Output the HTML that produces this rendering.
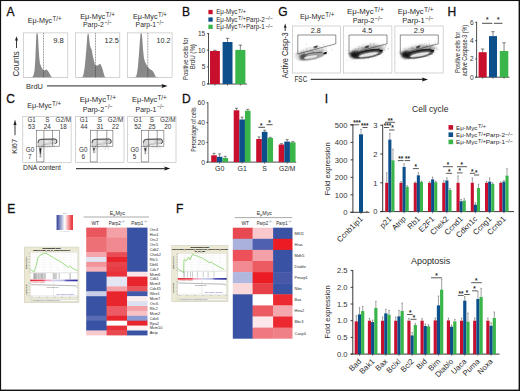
<!DOCTYPE html>
<html><head><meta charset="utf-8"><style>
html,body{margin:0;padding:0;background:#fff;overflow:hidden;}
svg{display:block;}
text{font-family:"Liberation Sans", sans-serif;}
</style></head><body>
<svg width="520" height="391" viewBox="0 0 520 391" font-family='"Liberation Sans", sans-serif' fill="#2a2a2a">
<defs><filter id="bl15" x="-50%" y="-50%" width="200%" height="200%"><feGaussianBlur stdDeviation="1.5"/></filter><filter id="bl08" x="-50%" y="-50%" width="200%" height="200%"><feGaussianBlur stdDeviation="0.8"/></filter><filter id="bl05" x="-50%" y="-50%" width="200%" height="200%"><feGaussianBlur stdDeviation="0.5"/></filter><filter id="bl03" x="-50%" y="-50%" width="200%" height="200%"><feGaussianBlur stdDeviation="0.3"/></filter></defs>
<rect x="0" y="0" width="520" height="391" fill="#fff"/>
<text x="6.60" y="16.40" font-size="12.0" fill="#111" stroke="#111" stroke-width="0.3">A</text>
<text x="182.00" y="16.40" font-size="12.0" fill="#111" stroke="#111" stroke-width="0.3">B</text>
<text x="278.30" y="16.40" font-size="12.0" fill="#111" stroke="#111" stroke-width="0.3">G</text>
<text x="447.50" y="16.40" font-size="12.0" fill="#111" stroke="#111" stroke-width="0.3">H</text>
<text x="6.30" y="102.90" font-size="12.0" fill="#111" stroke="#111" stroke-width="0.3">C</text>
<text x="182.00" y="103.00" font-size="12.0" fill="#111" stroke="#111" stroke-width="0.3">D</text>
<text x="7.20" y="212.90" font-size="12.0" fill="#111" stroke="#111" stroke-width="0.3">E</text>
<text x="175.90" y="213.00" font-size="12.0" fill="#111" stroke="#111" stroke-width="0.3">F</text>
<text x="324.70" y="102.80" font-size="12.0" fill="#111" stroke="#111" stroke-width="0.3">I</text>
<text x="27.70" y="22.80" font-size="7.9" textLength="24.50" lengthAdjust="spacingAndGlyphs" >Eμ-Myc</text>
<text x="52.54" y="20.70" font-size="6.4" textLength="8.96" lengthAdjust="spacingAndGlyphs" >T/+</text>
<text x="80.20" y="18.90" font-size="7.9" textLength="25.09" lengthAdjust="spacingAndGlyphs" >Eμ-Myc</text>
<text x="105.63" y="16.80" font-size="6.4" textLength="9.17" lengthAdjust="spacingAndGlyphs" >T/+</text>
<text x="83.00" y="27.40" font-size="7.9" textLength="20.81" lengthAdjust="spacingAndGlyphs" >Parp-2</text>
<text x="104.39" y="25.00" font-size="6.4" textLength="7.51" lengthAdjust="spacingAndGlyphs" >−/−</text>
<text x="133.00" y="18.90" font-size="7.9" textLength="24.58" lengthAdjust="spacingAndGlyphs" >Eμ-Myc</text>
<text x="157.92" y="16.80" font-size="6.4" textLength="8.98" lengthAdjust="spacingAndGlyphs" >T/+</text>
<text x="135.60" y="27.40" font-size="7.9" textLength="20.45" lengthAdjust="spacingAndGlyphs" >Parp-1</text>
<text x="156.62" y="25.00" font-size="6.4" textLength="7.38" lengthAdjust="spacingAndGlyphs" >−/−</text>
<polygon points="23.30,77.50 31.90,77.30 32.60,76.80 33.60,75.00 34.60,70.00 35.30,60.00 35.90,45.00 36.30,35.00 36.60,33.20 37.60,33.20 38.10,38.00 38.60,48.00 39.30,58.00 40.00,64.00 40.80,65.50 41.80,68.00 43.30,70.30 44.50,70.60 45.60,69.80 46.60,69.50 47.80,70.80 49.30,73.00 50.80,76.00 52.10,77.20 53.30,77.50 67.90,77.50" fill="#898989"/>
<rect x="23.30" y="32.9" width="44.5" height="44.6" fill="none" stroke="#b8b8b8" stroke-width="0.6"/>
<line x1="23.30" y1="41.80" x2="24.30" y2="41.80" stroke="#c8c8c8" stroke-width="0.4" />
<line x1="32.20" y1="77.50" x2="32.20" y2="76.50" stroke="#c8c8c8" stroke-width="0.4" />
<line x1="23.30" y1="50.70" x2="24.30" y2="50.70" stroke="#c8c8c8" stroke-width="0.4" />
<line x1="41.10" y1="77.50" x2="41.10" y2="76.50" stroke="#c8c8c8" stroke-width="0.4" />
<line x1="23.30" y1="59.60" x2="24.30" y2="59.60" stroke="#c8c8c8" stroke-width="0.4" />
<line x1="50.00" y1="77.50" x2="50.00" y2="76.50" stroke="#c8c8c8" stroke-width="0.4" />
<line x1="23.30" y1="68.50" x2="24.30" y2="68.50" stroke="#c8c8c8" stroke-width="0.4" />
<line x1="58.90" y1="77.50" x2="58.90" y2="76.50" stroke="#c8c8c8" stroke-width="0.4" />
<line x1="43.50" y1="33.20" x2="43.50" y2="77.30" stroke="#222" stroke-width="0.55" stroke-dasharray="0.9 0.7"/>
<text x="53.20" y="42.60" font-size="7.0" textLength="10.70" lengthAdjust="spacingAndGlyphs" >9.8</text>
<polygon points="75.30,77.50 81.80,77.30 82.80,76.50 83.60,74.00 84.60,68.00 85.60,58.00 86.60,46.00 87.30,36.00 87.90,33.50 88.70,34.00 89.30,40.00 90.10,46.00 90.90,48.00 91.80,50.00 92.80,56.00 93.80,60.00 94.90,64.50 95.60,65.80 96.80,65.60 98.30,65.20 99.50,63.80 100.70,64.50 101.80,67.00 102.80,70.00 103.80,74.00 104.80,76.80 106.30,77.50 119.60,77.50" fill="#898989"/>
<rect x="75.30" y="32.9" width="44.5" height="44.6" fill="none" stroke="#b8b8b8" stroke-width="0.6"/>
<line x1="75.30" y1="41.80" x2="76.30" y2="41.80" stroke="#c8c8c8" stroke-width="0.4" />
<line x1="84.20" y1="77.50" x2="84.20" y2="76.50" stroke="#c8c8c8" stroke-width="0.4" />
<line x1="75.30" y1="50.70" x2="76.30" y2="50.70" stroke="#c8c8c8" stroke-width="0.4" />
<line x1="93.10" y1="77.50" x2="93.10" y2="76.50" stroke="#c8c8c8" stroke-width="0.4" />
<line x1="75.30" y1="59.60" x2="76.30" y2="59.60" stroke="#c8c8c8" stroke-width="0.4" />
<line x1="102.00" y1="77.50" x2="102.00" y2="76.50" stroke="#c8c8c8" stroke-width="0.4" />
<line x1="75.30" y1="68.50" x2="76.30" y2="68.50" stroke="#c8c8c8" stroke-width="0.4" />
<line x1="110.90" y1="77.50" x2="110.90" y2="76.50" stroke="#c8c8c8" stroke-width="0.4" />
<line x1="95.50" y1="33.20" x2="95.50" y2="77.30" stroke="#222" stroke-width="0.55" stroke-dasharray="0.9 0.7"/>
<text x="104.60" y="42.60" font-size="7.0" textLength="14.20" lengthAdjust="spacingAndGlyphs" >12.5</text>
<polygon points="127.60,77.50 135.10,77.30 135.90,76.60 136.90,74.00 137.90,67.00 138.90,55.00 139.80,42.00 140.50,34.00 141.00,33.20 141.80,33.50 142.30,39.00 142.90,48.00 143.80,57.00 144.80,61.50 145.90,63.50 147.10,66.00 147.90,67.00 149.10,68.50 150.60,69.50 151.90,70.20 153.10,71.50 154.40,74.00 155.60,76.50 157.10,77.30 158.60,77.50 171.90,77.50" fill="#898989"/>
<rect x="127.60" y="32.9" width="44.5" height="44.6" fill="none" stroke="#b8b8b8" stroke-width="0.6"/>
<line x1="127.60" y1="41.80" x2="128.60" y2="41.80" stroke="#c8c8c8" stroke-width="0.4" />
<line x1="136.50" y1="77.50" x2="136.50" y2="76.50" stroke="#c8c8c8" stroke-width="0.4" />
<line x1="127.60" y1="50.70" x2="128.60" y2="50.70" stroke="#c8c8c8" stroke-width="0.4" />
<line x1="145.40" y1="77.50" x2="145.40" y2="76.50" stroke="#c8c8c8" stroke-width="0.4" />
<line x1="127.60" y1="59.60" x2="128.60" y2="59.60" stroke="#c8c8c8" stroke-width="0.4" />
<line x1="154.30" y1="77.50" x2="154.30" y2="76.50" stroke="#c8c8c8" stroke-width="0.4" />
<line x1="127.60" y1="68.50" x2="128.60" y2="68.50" stroke="#c8c8c8" stroke-width="0.4" />
<line x1="163.20" y1="77.50" x2="163.20" y2="76.50" stroke="#c8c8c8" stroke-width="0.4" />
<line x1="147.80" y1="33.20" x2="147.80" y2="77.30" stroke="#222" stroke-width="0.55" stroke-dasharray="0.9 0.7"/>
<text x="156.60" y="42.60" font-size="7.0" textLength="13.90" lengthAdjust="spacingAndGlyphs" >10.2</text>
<text x="19.00" y="76.40" font-size="8.6" textLength="25.00" lengthAdjust="spacingAndGlyphs" transform="rotate(-90 19.00 76.40)" >Counts</text>
<line x1="16.50" y1="48.00" x2="16.50" y2="39.80" stroke="#222" stroke-width="0.9" />
<polygon points="16.5,36.2 15.0,40.6 18.0,40.6" fill="#222"/>
<text x="26.00" y="88.60" font-size="8.0" textLength="16.90" lengthAdjust="spacingAndGlyphs" >BrdU</text>
<line x1="47.00" y1="85.90" x2="163.00" y2="85.90" stroke="#555" stroke-width="1.3" />
<polygon points="167.6,85.9 161.4,83.9 162.6,85.9 161.4,87.9" fill="#111"/>
<rect x="208.40" y="9.90" width="4.30" height="4.30" fill="#c8102e" />
<text x="216.20" y="14.40" font-size="6.3" textLength="21.20" lengthAdjust="spacingAndGlyphs" >Eμ-Myc</text>
<text x="237.90" y="12.70" font-size="5.8" textLength="8.00" lengthAdjust="spacingAndGlyphs" >T/+</text>
<rect x="208.40" y="17.40" width="4.30" height="4.30" fill="#0d4f8b" />
<text x="216.20" y="21.90" font-size="6.3" textLength="21.20" lengthAdjust="spacingAndGlyphs" >Eμ-Myc</text>
<text x="237.90" y="20.20" font-size="5.8" textLength="8.00" lengthAdjust="spacingAndGlyphs" >T/+</text>
<text x="245.90" y="21.90" font-size="6.3" textLength="19.00" lengthAdjust="spacingAndGlyphs" >Parp-2</text>
<text x="265.20" y="20.20" font-size="5.8" textLength="7.60" lengthAdjust="spacingAndGlyphs" >−/−</text>
<rect x="208.40" y="24.70" width="4.30" height="4.30" fill="#3ab54a" />
<text x="216.20" y="29.20" font-size="6.3" textLength="21.20" lengthAdjust="spacingAndGlyphs" >Eμ-Myc</text>
<text x="237.90" y="27.50" font-size="5.8" textLength="8.00" lengthAdjust="spacingAndGlyphs" >T/+</text>
<text x="245.90" y="29.20" font-size="6.3" textLength="19.00" lengthAdjust="spacingAndGlyphs" >Parp-1</text>
<text x="265.20" y="27.50" font-size="5.8" textLength="7.60" lengthAdjust="spacingAndGlyphs" >−/−</text>
<line x1="208.50" y1="33.10" x2="208.50" y2="84.00" stroke="#222" stroke-width="0.8" />
<line x1="207.10" y1="84.00" x2="247.00" y2="84.00" stroke="#222" stroke-width="0.8" />
<line x1="207.10" y1="33.60" x2="208.50" y2="33.60" stroke="#222" stroke-width="0.8" />
<text x="205.30" y="35.98" font-size="6.6" text-anchor="end" fill="#333" >15</text>
<line x1="207.10" y1="50.20" x2="208.50" y2="50.20" stroke="#222" stroke-width="0.8" />
<text x="205.30" y="52.58" font-size="6.6" text-anchor="end" fill="#333" >10</text>
<line x1="207.10" y1="66.90" x2="208.50" y2="66.90" stroke="#222" stroke-width="0.8" />
<text x="205.30" y="69.28" font-size="6.6" text-anchor="end" fill="#333" >5</text>
<line x1="207.10" y1="83.80" x2="208.50" y2="83.80" stroke="#222" stroke-width="0.8" />
<text x="205.30" y="86.18" font-size="6.6" text-anchor="end" fill="#333" >0</text>
<rect x="210.00" y="51.00" width="9.90" height="33.00" fill="#c8102e" />
<line x1="214.95" y1="50.30" x2="214.95" y2="51.00" stroke="#333" stroke-width="0.6" />
<line x1="213.15" y1="50.30" x2="216.75" y2="50.30" stroke="#333" stroke-width="0.6" />
<line x1="214.95" y1="84.00" x2="214.95" y2="85.60" stroke="#222" stroke-width="0.6" />
<rect x="222.60" y="42.00" width="9.90" height="42.00" fill="#0d4f8b" />
<line x1="227.55" y1="38.30" x2="227.55" y2="42.00" stroke="#333" stroke-width="0.6" />
<line x1="225.75" y1="38.30" x2="229.35" y2="38.30" stroke="#333" stroke-width="0.6" />
<line x1="227.55" y1="84.00" x2="227.55" y2="85.60" stroke="#222" stroke-width="0.6" />
<rect x="235.30" y="49.90" width="10.10" height="34.10" fill="#3ab54a" />
<line x1="240.35" y1="45.10" x2="240.35" y2="49.90" stroke="#333" stroke-width="0.6" />
<line x1="238.55" y1="45.10" x2="242.15" y2="45.10" stroke="#333" stroke-width="0.6" />
<line x1="240.35" y1="84.00" x2="240.35" y2="85.60" stroke="#222" stroke-width="0.6" />
<text x="187.90" y="80.00" font-size="7.2" textLength="42.50" lengthAdjust="spacingAndGlyphs" transform="rotate(-90 187.90 80.00)" >Positive cells for</text>
<text x="195.30" y="69.30" font-size="7.2" textLength="25.20" lengthAdjust="spacingAndGlyphs" transform="rotate(-90 195.30 69.30)" >BrdU (%)</text>
<text x="288.00" y="78.20" font-size="8.7" textLength="45.90" lengthAdjust="spacingAndGlyphs" transform="rotate(-90 288.00 78.20)" >Active Casp-3</text>
<line x1="285.20" y1="31.00" x2="285.20" y2="27.00" stroke="#222" stroke-width="0.9" />
<polygon points="285.2,23.6 283.8,27.8 286.6,27.8" fill="#222"/>
<text x="299.90" y="18.90" font-size="7.9" textLength="25.01" lengthAdjust="spacingAndGlyphs" >Eμ-Myc</text>
<text x="325.26" y="16.80" font-size="6.4" textLength="9.14" lengthAdjust="spacingAndGlyphs" >T/+</text>
<text x="347.00" y="13.80" font-size="7.9" textLength="26.68" lengthAdjust="spacingAndGlyphs" >Eμ-Myc</text>
<text x="374.05" y="11.70" font-size="6.4" textLength="9.75" lengthAdjust="spacingAndGlyphs" >T/+</text>
<text x="352.70" y="23.00" font-size="7.9" textLength="21.60" lengthAdjust="spacingAndGlyphs" >Parp-2</text>
<text x="374.90" y="20.60" font-size="6.4" textLength="7.80" lengthAdjust="spacingAndGlyphs" >−/−</text>
<text x="397.70" y="13.80" font-size="7.9" textLength="25.95" lengthAdjust="spacingAndGlyphs" >Eμ-Myc</text>
<text x="424.01" y="11.70" font-size="6.4" textLength="9.49" lengthAdjust="spacingAndGlyphs" >T/+</text>
<text x="402.30" y="23.00" font-size="7.9" textLength="22.46" lengthAdjust="spacingAndGlyphs" >Parp-1</text>
<text x="425.39" y="20.60" font-size="6.4" textLength="8.11" lengthAdjust="spacingAndGlyphs" >−/−</text>
<rect x="292.40" y="26.0" width="48.3" height="47.0" fill="none" stroke="#b8b8b8" stroke-width="0.6"/>
<line x1="292.40" y1="35.40" x2="293.40" y2="35.40" stroke="#c8c8c8" stroke-width="0.4" />
<line x1="302.00" y1="73.00" x2="302.00" y2="72.00" stroke="#c8c8c8" stroke-width="0.4" />
<line x1="292.40" y1="44.80" x2="293.40" y2="44.80" stroke="#c8c8c8" stroke-width="0.4" />
<line x1="311.60" y1="73.00" x2="311.60" y2="72.00" stroke="#c8c8c8" stroke-width="0.4" />
<line x1="292.40" y1="54.20" x2="293.40" y2="54.20" stroke="#c8c8c8" stroke-width="0.4" />
<line x1="321.20" y1="73.00" x2="321.20" y2="72.00" stroke="#c8c8c8" stroke-width="0.4" />
<line x1="292.40" y1="63.60" x2="293.40" y2="63.60" stroke="#c8c8c8" stroke-width="0.4" />
<line x1="330.80" y1="73.00" x2="330.80" y2="72.00" stroke="#c8c8c8" stroke-width="0.4" />
<g transform="translate(292.40,0)"><ellipse cx="17.9" cy="53.3" rx="16.0" ry="4.7" fill="#d2d2d2" filter="url(#bl15)" transform="rotate(-11 17.9 53.3)"/><rect x="17.2" y="55.0" width="0.5" height="0.5" fill="#666"/><rect x="27.9" y="53.0" width="0.5" height="0.5" fill="#8f8f8f"/><rect x="3.3" y="52.9" width="0.5" height="0.5" fill="#7a7a7a"/><rect x="27.2" y="52.2" width="0.5" height="0.5" fill="#666"/><rect x="20.2" y="56.6" width="0.5" height="0.5" fill="#666"/><rect x="20.5" y="51.4" width="0.5" height="0.5" fill="#7a7a7a"/><rect x="11.3" y="51.7" width="0.5" height="0.5" fill="#666"/><rect x="11.6" y="53.1" width="0.5" height="0.5" fill="#7a7a7a"/><rect x="34.1" y="51.9" width="0.5" height="0.5" fill="#8f8f8f"/><rect x="10.7" y="56.5" width="0.5" height="0.5" fill="#bbbbbb"/><rect x="14.6" y="59.1" width="0.5" height="0.5" fill="#7a7a7a"/><rect x="27.5" y="53.8" width="0.5" height="0.5" fill="#7a7a7a"/><rect x="12.5" y="57.0" width="0.5" height="0.5" fill="#666"/><rect x="8.5" y="53.5" width="0.5" height="0.5" fill="#a5a5a5"/><rect x="14.8" y="51.0" width="0.5" height="0.5" fill="#8f8f8f"/><rect x="15.4" y="55.5" width="0.5" height="0.5" fill="#7a7a7a"/><rect x="16.6" y="51.4" width="0.5" height="0.5" fill="#bbbbbb"/><rect x="16.6" y="56.9" width="0.5" height="0.5" fill="#8f8f8f"/><rect x="17.6" y="50.9" width="0.5" height="0.5" fill="#666"/><rect x="25.3" y="54.0" width="0.5" height="0.5" fill="#8f8f8f"/><rect x="24.7" y="54.8" width="0.5" height="0.5" fill="#666"/><rect x="21.9" y="52.2" width="0.5" height="0.5" fill="#bbbbbb"/><rect x="4.0" y="53.3" width="0.5" height="0.5" fill="#8f8f8f"/><rect x="15.4" y="56.1" width="0.5" height="0.5" fill="#a5a5a5"/><rect x="11.0" y="53.1" width="0.5" height="0.5" fill="#666"/><rect x="27.0" y="50.4" width="0.5" height="0.5" fill="#666"/><rect x="30.5" y="52.6" width="0.5" height="0.5" fill="#bbbbbb"/><rect x="33.4" y="50.0" width="0.5" height="0.5" fill="#8f8f8f"/><rect x="14.3" y="47.9" width="0.5" height="0.5" fill="#8f8f8f"/><rect x="27.6" y="51.9" width="0.5" height="0.5" fill="#7a7a7a"/><rect x="11.4" y="52.3" width="0.5" height="0.5" fill="#7a7a7a"/><rect x="19.1" y="51.5" width="0.5" height="0.5" fill="#7a7a7a"/><rect x="5.6" y="59.7" width="0.5" height="0.5" fill="#a5a5a5"/><rect x="26.7" y="53.2" width="0.5" height="0.5" fill="#bbbbbb"/><rect x="18.4" y="54.8" width="0.5" height="0.5" fill="#a5a5a5"/><rect x="22.7" y="50.6" width="0.5" height="0.5" fill="#a5a5a5"/><rect x="30.7" y="50.4" width="0.5" height="0.5" fill="#a5a5a5"/><rect x="23.1" y="51.8" width="0.5" height="0.5" fill="#7a7a7a"/><rect x="26.2" y="55.2" width="0.5" height="0.5" fill="#666"/><rect x="8.5" y="55.5" width="0.5" height="0.5" fill="#8f8f8f"/><rect x="18.3" y="54.9" width="0.5" height="0.5" fill="#bbbbbb"/><rect x="12.5" y="57.2" width="0.5" height="0.5" fill="#7a7a7a"/><rect x="14.8" y="50.6" width="0.5" height="0.5" fill="#bbbbbb"/><rect x="10.9" y="50.6" width="0.5" height="0.5" fill="#a5a5a5"/><rect x="29.3" y="48.0" width="0.5" height="0.5" fill="#bbbbbb"/><rect x="13.1" y="56.1" width="0.5" height="0.5" fill="#666"/><rect x="11.1" y="55.0" width="0.5" height="0.5" fill="#7a7a7a"/><rect x="23.9" y="53.0" width="0.5" height="0.5" fill="#7a7a7a"/><rect x="27.6" y="54.0" width="0.5" height="0.5" fill="#666"/><rect x="23.4" y="52.2" width="0.5" height="0.5" fill="#666"/><rect x="28.9" y="49.9" width="0.5" height="0.5" fill="#666"/><rect x="26.0" y="48.8" width="0.5" height="0.5" fill="#7a7a7a"/><rect x="4.8" y="50.3" width="0.5" height="0.5" fill="#bbbbbb"/><rect x="16.5" y="54.7" width="0.5" height="0.5" fill="#a5a5a5"/><rect x="27.6" y="51.3" width="0.5" height="0.5" fill="#a5a5a5"/><rect x="17.5" y="54.9" width="0.5" height="0.5" fill="#8f8f8f"/><rect x="17.7" y="49.9" width="0.5" height="0.5" fill="#7a7a7a"/><rect x="13.5" y="53.9" width="0.5" height="0.5" fill="#bbbbbb"/><rect x="11.8" y="58.0" width="0.5" height="0.5" fill="#666"/><rect x="18.7" y="50.6" width="0.5" height="0.5" fill="#666"/><rect x="16.4" y="51.4" width="0.5" height="0.5" fill="#8f8f8f"/><rect x="24.8" y="50.4" width="0.5" height="0.5" fill="#7a7a7a"/><rect x="5.3" y="54.7" width="0.5" height="0.5" fill="#8f8f8f"/><rect x="11.2" y="51.5" width="0.5" height="0.5" fill="#7a7a7a"/><rect x="22.9" y="47.2" width="0.5" height="0.5" fill="#7a7a7a"/><rect x="22.3" y="55.7" width="0.5" height="0.5" fill="#666"/><rect x="32.7" y="50.1" width="0.5" height="0.5" fill="#a5a5a5"/><rect x="19.0" y="57.6" width="0.5" height="0.5" fill="#8f8f8f"/><rect x="38.3" y="48.8" width="0.5" height="0.5" fill="#8f8f8f"/><rect x="22.2" y="53.1" width="0.5" height="0.5" fill="#a5a5a5"/><rect x="21.0" y="54.6" width="0.5" height="0.5" fill="#bbbbbb"/><rect x="29.5" y="50.7" width="0.5" height="0.5" fill="#666"/><rect x="7.7" y="55.8" width="0.5" height="0.5" fill="#666"/><rect x="20.6" y="51.5" width="0.5" height="0.5" fill="#a5a5a5"/><rect x="20.6" y="47.9" width="0.5" height="0.5" fill="#a5a5a5"/><rect x="24.9" y="49.9" width="0.5" height="0.5" fill="#8f8f8f"/><rect x="35.8" y="53.6" width="0.5" height="0.5" fill="#a5a5a5"/><rect x="6.5" y="56.6" width="0.5" height="0.5" fill="#666"/><rect x="17.8" y="51.5" width="0.5" height="0.5" fill="#7a7a7a"/><rect x="29.3" y="51.8" width="0.5" height="0.5" fill="#a5a5a5"/><rect x="20.1" y="51.3" width="0.5" height="0.5" fill="#bbbbbb"/><rect x="30.2" y="50.4" width="0.5" height="0.5" fill="#8f8f8f"/><rect x="25.0" y="55.0" width="0.5" height="0.5" fill="#666"/><rect x="39.8" y="49.7" width="0.5" height="0.5" fill="#666"/><rect x="4.8" y="58.3" width="0.5" height="0.5" fill="#7a7a7a"/><rect x="24.3" y="52.4" width="0.5" height="0.5" fill="#bbbbbb"/><rect x="20.2" y="56.8" width="0.5" height="0.5" fill="#8f8f8f"/><rect x="4.3" y="54.4" width="0.5" height="0.5" fill="#666"/><rect x="24.8" y="50.5" width="0.5" height="0.5" fill="#a5a5a5"/><rect x="10.5" y="50.1" width="0.5" height="0.5" fill="#bbbbbb"/><rect x="4.1" y="59.2" width="0.5" height="0.5" fill="#bbbbbb"/><rect x="22.2" y="53.7" width="0.5" height="0.5" fill="#bbbbbb"/><rect x="27.4" y="51.8" width="0.5" height="0.5" fill="#7a7a7a"/><rect x="7.7" y="52.0" width="0.5" height="0.5" fill="#7a7a7a"/><rect x="23.6" y="55.2" width="0.5" height="0.5" fill="#666"/><rect x="12.2" y="53.5" width="0.5" height="0.5" fill="#bbbbbb"/><rect x="9.9" y="54.2" width="0.5" height="0.5" fill="#666"/><rect x="20.7" y="52.1" width="0.5" height="0.5" fill="#7a7a7a"/><rect x="17.6" y="58.4" width="0.5" height="0.5" fill="#bbbbbb"/><rect x="17.1" y="53.7" width="0.5" height="0.5" fill="#666"/><rect x="9.0" y="56.5" width="0.5" height="0.5" fill="#bbbbbb"/><rect x="14.5" y="52.7" width="0.5" height="0.5" fill="#8f8f8f"/><rect x="9.8" y="56.0" width="0.5" height="0.5" fill="#a5a5a5"/><rect x="12.9" y="54.2" width="0.5" height="0.5" fill="#bbbbbb"/><rect x="31.3" y="45.7" width="0.5" height="0.5" fill="#8f8f8f"/><rect x="33.0" y="47.4" width="0.5" height="0.5" fill="#7a7a7a"/><rect x="20.9" y="51.3" width="0.5" height="0.5" fill="#666"/><rect x="13.8" y="55.7" width="0.5" height="0.5" fill="#7a7a7a"/><rect x="14.2" y="54.9" width="0.5" height="0.5" fill="#8f8f8f"/><rect x="21.3" y="46.4" width="0.5" height="0.5" fill="#7a7a7a"/><rect x="29.1" y="49.5" width="0.5" height="0.5" fill="#8f8f8f"/><rect x="29.9" y="55.8" width="0.5" height="0.5" fill="#a5a5a5"/><rect x="23.9" y="59.4" width="0.5" height="0.5" fill="#a5a5a5"/><rect x="22.2" y="51.3" width="0.5" height="0.5" fill="#7a7a7a"/><rect x="23.8" y="54.8" width="0.5" height="0.5" fill="#bbbbbb"/><rect x="12.5" y="56.1" width="0.5" height="0.5" fill="#8f8f8f"/><rect x="14.4" y="58.3" width="0.5" height="0.5" fill="#666"/><rect x="14.8" y="56.7" width="0.5" height="0.5" fill="#666"/><rect x="12.2" y="56.8" width="0.5" height="0.5" fill="#8f8f8f"/><rect x="16.0" y="53.6" width="0.5" height="0.5" fill="#7a7a7a"/><rect x="22.5" y="52.2" width="0.5" height="0.5" fill="#8f8f8f"/><rect x="17.7" y="59.7" width="0.5" height="0.5" fill="#7a7a7a"/><rect x="18.6" y="54.7" width="0.5" height="0.5" fill="#a5a5a5"/><rect x="25.1" y="48.3" width="0.5" height="0.5" fill="#8f8f8f"/><rect x="11.2" y="56.7" width="0.5" height="0.5" fill="#bbbbbb"/><rect x="7.5" y="53.3" width="0.5" height="0.5" fill="#666"/><rect x="17.3" y="58.7" width="0.5" height="0.5" fill="#7a7a7a"/><rect x="16.3" y="54.1" width="0.5" height="0.5" fill="#666"/><rect x="8.8" y="51.1" width="0.5" height="0.5" fill="#666"/><rect x="14.3" y="52.7" width="0.5" height="0.5" fill="#8f8f8f"/><rect x="24.0" y="49.6" width="0.5" height="0.5" fill="#8f8f8f"/><rect x="27.0" y="51.4" width="0.5" height="0.5" fill="#8f8f8f"/><rect x="17.1" y="52.8" width="0.5" height="0.5" fill="#7a7a7a"/><rect x="37.5" y="46.5" width="0.5" height="0.5" fill="#8f8f8f"/><rect x="24.0" y="52.7" width="0.5" height="0.5" fill="#8f8f8f"/><rect x="11.7" y="51.9" width="0.5" height="0.5" fill="#7a7a7a"/><rect x="17.2" y="56.8" width="0.5" height="0.5" fill="#7a7a7a"/><rect x="18.1" y="58.6" width="0.5" height="0.5" fill="#8f8f8f"/><rect x="20.4" y="53.0" width="0.5" height="0.5" fill="#bbbbbb"/><rect x="13.9" y="53.5" width="0.5" height="0.5" fill="#a5a5a5"/><rect x="19.7" y="56.2" width="0.5" height="0.5" fill="#a5a5a5"/><rect x="12.8" y="51.2" width="0.5" height="0.5" fill="#a5a5a5"/><rect x="25.4" y="51.4" width="0.5" height="0.5" fill="#7a7a7a"/><rect x="26.0" y="51.4" width="0.5" height="0.5" fill="#7a7a7a"/><rect x="13.2" y="55.8" width="0.5" height="0.5" fill="#666"/><rect x="19.5" y="52.6" width="0.5" height="0.5" fill="#8f8f8f"/><rect x="16.6" y="54.0" width="0.5" height="0.5" fill="#a5a5a5"/><rect x="26.3" y="48.4" width="0.5" height="0.5" fill="#8f8f8f"/><rect x="8.6" y="52.5" width="0.5" height="0.5" fill="#666"/><rect x="14.5" y="54.4" width="0.5" height="0.5" fill="#a5a5a5"/><rect x="26.4" y="51.7" width="0.5" height="0.5" fill="#8f8f8f"/><rect x="28.5" y="50.6" width="0.5" height="0.5" fill="#7a7a7a"/><rect x="35.0" y="51.3" width="0.5" height="0.5" fill="#7a7a7a"/><rect x="18.7" y="53.3" width="0.5" height="0.5" fill="#a5a5a5"/><rect x="24.6" y="53.2" width="0.5" height="0.5" fill="#7a7a7a"/><rect x="20.0" y="58.0" width="0.5" height="0.5" fill="#666"/><rect x="18.8" y="54.4" width="0.5" height="0.5" fill="#a5a5a5"/><rect x="11.9" y="52.9" width="0.5" height="0.5" fill="#8f8f8f"/><rect x="17.4" y="55.5" width="0.5" height="0.5" fill="#bbbbbb"/><rect x="33.4" y="48.7" width="0.5" height="0.5" fill="#7a7a7a"/><rect x="11.3" y="50.6" width="0.5" height="0.5" fill="#bbbbbb"/><rect x="13.8" y="55.8" width="0.5" height="0.5" fill="#a5a5a5"/><rect x="27.0" y="55.4" width="0.5" height="0.5" fill="#7a7a7a"/><rect x="33.5" y="51.8" width="0.5" height="0.5" fill="#bbbbbb"/><rect x="9.3" y="51.5" width="0.5" height="0.5" fill="#bbbbbb"/><rect x="25.5" y="54.6" width="0.5" height="0.5" fill="#bbbbbb"/><rect x="5.4" y="53.5" width="0.5" height="0.5" fill="#666"/><rect x="23.0" y="48.8" width="0.5" height="0.5" fill="#7a7a7a"/><rect x="20.9" y="53.2" width="0.5" height="0.5" fill="#8f8f8f"/><rect x="26.1" y="51.0" width="0.5" height="0.5" fill="#a5a5a5"/><rect x="8.3" y="53.7" width="0.5" height="0.5" fill="#bbbbbb"/><rect x="14.5" y="50.8" width="0.5" height="0.5" fill="#666"/><rect x="16.1" y="54.0" width="0.5" height="0.5" fill="#bbbbbb"/><rect x="21.5" y="51.8" width="0.5" height="0.5" fill="#bbbbbb"/><rect x="31.0" y="52.7" width="0.5" height="0.5" fill="#8f8f8f"/><rect x="23.4" y="46.9" width="0.5" height="0.5" fill="#7a7a7a"/><rect x="17.8" y="51.3" width="0.5" height="0.5" fill="#a5a5a5"/><rect x="11.2" y="54.7" width="0.5" height="0.5" fill="#a5a5a5"/><rect x="24.1" y="50.8" width="0.5" height="0.5" fill="#666"/><rect x="10.0" y="52.0" width="0.5" height="0.5" fill="#666"/><rect x="12.9" y="52.7" width="0.5" height="0.5" fill="#8f8f8f"/><rect x="15.6" y="52.6" width="0.5" height="0.5" fill="#a5a5a5"/><rect x="24.8" y="52.8" width="0.5" height="0.5" fill="#666"/><rect x="13.9" y="49.9" width="0.5" height="0.5" fill="#8f8f8f"/><rect x="16.8" y="51.2" width="0.5" height="0.5" fill="#a5a5a5"/><rect x="15.1" y="54.2" width="0.5" height="0.5" fill="#bbbbbb"/><rect x="27.2" y="59.3" width="0.5" height="0.5" fill="#a5a5a5"/><rect x="27.6" y="51.8" width="0.5" height="0.5" fill="#bbbbbb"/><rect x="27.2" y="50.9" width="0.5" height="0.5" fill="#8f8f8f"/><rect x="6.4" y="59.9" width="0.5" height="0.5" fill="#7a7a7a"/><rect x="22.0" y="53.1" width="0.5" height="0.5" fill="#bbbbbb"/><rect x="18.9" y="55.9" width="0.5" height="0.5" fill="#bbbbbb"/><rect x="22.3" y="49.2" width="0.5" height="0.5" fill="#666"/><rect x="16.8" y="51.4" width="0.5" height="0.5" fill="#a5a5a5"/><rect x="15.4" y="54.9" width="0.5" height="0.5" fill="#a5a5a5"/><rect x="15.0" y="51.1" width="0.5" height="0.5" fill="#7a7a7a"/><rect x="12.6" y="55.8" width="0.5" height="0.5" fill="#666"/><rect x="19.1" y="52.9" width="0.5" height="0.5" fill="#8f8f8f"/><rect x="20.7" y="51.5" width="0.5" height="0.5" fill="#7a7a7a"/><rect x="13.8" y="47.8" width="0.5" height="0.5" fill="#8f8f8f"/><rect x="19.0" y="54.2" width="0.5" height="0.5" fill="#a5a5a5"/><rect x="29.3" y="51.0" width="0.5" height="0.5" fill="#8f8f8f"/><rect x="30.2" y="48.6" width="0.5" height="0.5" fill="#666"/><rect x="18.6" y="54.1" width="0.5" height="0.5" fill="#8f8f8f"/><rect x="15.7" y="52.5" width="0.5" height="0.5" fill="#8f8f8f"/><rect x="12.8" y="55.3" width="0.5" height="0.5" fill="#8f8f8f"/><rect x="20.1" y="49.8" width="0.5" height="0.5" fill="#666"/><rect x="22.4" y="48.5" width="0.5" height="0.5" fill="#bbbbbb"/><rect x="6.7" y="54.0" width="0.5" height="0.5" fill="#666"/><rect x="26.0" y="50.5" width="0.5" height="0.5" fill="#bbbbbb"/><rect x="18.3" y="48.9" width="0.5" height="0.5" fill="#8f8f8f"/><rect x="14.2" y="53.5" width="0.5" height="0.5" fill="#a5a5a5"/><rect x="15.6" y="55.8" width="0.5" height="0.5" fill="#8f8f8f"/><rect x="14.3" y="55.2" width="0.5" height="0.5" fill="#a5a5a5"/><rect x="11.3" y="53.5" width="0.5" height="0.5" fill="#7a7a7a"/><rect x="16.8" y="52.6" width="0.5" height="0.5" fill="#bbbbbb"/><rect x="26.2" y="49.7" width="0.5" height="0.5" fill="#7a7a7a"/><rect x="12.3" y="55.2" width="0.5" height="0.5" fill="#a5a5a5"/><rect x="10.3" y="56.4" width="0.5" height="0.5" fill="#7a7a7a"/><rect x="25.2" y="53.4" width="0.5" height="0.5" fill="#666"/><rect x="16.2" y="56.2" width="0.5" height="0.5" fill="#bbbbbb"/><rect x="19.5" y="53.6" width="0.5" height="0.5" fill="#a5a5a5"/><rect x="9.9" y="58.2" width="0.5" height="0.5" fill="#7a7a7a"/><rect x="14.1" y="55.9" width="0.5" height="0.5" fill="#666"/><rect x="8.6" y="55.1" width="0.5" height="0.5" fill="#8f8f8f"/><rect x="25.9" y="54.3" width="0.5" height="0.5" fill="#7a7a7a"/><rect x="33.5" y="53.8" width="0.5" height="0.5" fill="#a5a5a5"/><rect x="12.3" y="56.3" width="0.5" height="0.5" fill="#8f8f8f"/><rect x="27.2" y="46.6" width="0.5" height="0.5" fill="#666"/><rect x="25.1" y="54.2" width="0.5" height="0.5" fill="#a5a5a5"/><rect x="27.7" y="50.7" width="0.5" height="0.5" fill="#666"/><rect x="5.7" y="60.0" width="0.5" height="0.5" fill="#bbbbbb"/><rect x="30.6" y="44.5" width="0.5" height="0.5" fill="#7a7a7a"/><rect x="19.6" y="50.9" width="0.5" height="0.5" fill="#7a7a7a"/><rect x="7.0" y="54.8" width="0.5" height="0.5" fill="#a5a5a5"/><rect x="31.1" y="53.4" width="0.5" height="0.5" fill="#666"/><rect x="19.6" y="50.8" width="0.5" height="0.5" fill="#666"/><rect x="14.4" y="52.0" width="0.5" height="0.5" fill="#7a7a7a"/><rect x="11.6" y="51.9" width="0.5" height="0.5" fill="#a5a5a5"/><rect x="17.4" y="52.0" width="0.5" height="0.5" fill="#666"/><rect x="14.3" y="60.8" width="0.5" height="0.5" fill="#7a7a7a"/><rect x="14.9" y="55.3" width="0.5" height="0.5" fill="#bbbbbb"/><rect x="28.6" y="51.2" width="0.5" height="0.5" fill="#a5a5a5"/><rect x="18.1" y="55.8" width="0.5" height="0.5" fill="#7a7a7a"/><rect x="13.3" y="54.5" width="0.5" height="0.5" fill="#7a7a7a"/><rect x="26.9" y="52.1" width="0.5" height="0.5" fill="#8f8f8f"/><rect x="23.9" y="52.8" width="0.5" height="0.5" fill="#a5a5a5"/><rect x="24.0" y="53.2" width="0.5" height="0.5" fill="#a5a5a5"/><rect x="23.7" y="51.2" width="0.5" height="0.5" fill="#666"/><rect x="13.9" y="49.6" width="0.5" height="0.5" fill="#8f8f8f"/><rect x="16.4" y="51.8" width="0.5" height="0.5" fill="#8f8f8f"/><rect x="17.6" y="49.8" width="0.5" height="0.5" fill="#7a7a7a"/><rect x="13.6" y="54.2" width="0.5" height="0.5" fill="#7a7a7a"/><rect x="19.9" y="55.0" width="0.5" height="0.5" fill="#8f8f8f"/><rect x="27.9" y="54.0" width="0.5" height="0.5" fill="#bbbbbb"/><rect x="21.4" y="54.6" width="0.5" height="0.5" fill="#a5a5a5"/><rect x="21.0" y="52.1" width="0.5" height="0.5" fill="#bbbbbb"/><rect x="24.1" y="54.5" width="0.5" height="0.5" fill="#7a7a7a"/><rect x="29.4" y="51.6" width="0.5" height="0.5" fill="#a5a5a5"/><rect x="21.6" y="52.9" width="0.5" height="0.5" fill="#a5a5a5"/><rect x="7.4" y="56.8" width="0.5" height="0.5" fill="#8f8f8f"/><rect x="14.0" y="43.8" width="0.5" height="0.5" fill="#7a7a7a"/><rect x="16.8" y="55.2" width="0.5" height="0.5" fill="#bbbbbb"/><rect x="18.7" y="52.4" width="0.5" height="0.5" fill="#a5a5a5"/><rect x="29.6" y="43.7" width="0.5" height="0.5" fill="#a5a5a5"/><rect x="19.2" y="53.2" width="0.5" height="0.5" fill="#8f8f8f"/><rect x="26.3" y="53.2" width="0.5" height="0.5" fill="#666"/><rect x="6.2" y="53.7" width="0.5" height="0.5" fill="#a5a5a5"/><rect x="10.6" y="59.0" width="0.5" height="0.5" fill="#a5a5a5"/><rect x="29.8" y="53.4" width="0.5" height="0.5" fill="#7a7a7a"/><rect x="7.5" y="60.1" width="0.5" height="0.5" fill="#7a7a7a"/><rect x="14.0" y="58.4" width="0.5" height="0.5" fill="#a5a5a5"/><rect x="26.9" y="52.1" width="0.5" height="0.5" fill="#a5a5a5"/><rect x="20.9" y="52.9" width="0.5" height="0.5" fill="#666"/><rect x="19.6" y="52.0" width="0.5" height="0.5" fill="#7a7a7a"/><rect x="17.4" y="47.0" width="0.5" height="0.5" fill="#8f8f8f"/><ellipse cx="19.5" cy="56.3" rx="13.0" ry="3.5" fill="#a2a2a2" filter="url(#bl05)" transform="rotate(-11 19.5 56.3)"/><path d="M9.4,55.6 Q19.5,51.9 30.0,52.3" fill="none" stroke="#484848" stroke-width="0.9" opacity="0.85"/><ellipse cx="11.0" cy="56.8" rx="3.6" ry="2.8" fill="#484848" filter="url(#bl08)"/><ellipse cx="18.6" cy="57.0" rx="7.6" ry="2.1" fill="#8a8a8a" transform="rotate(-11 18.6 57.0)"/><ellipse cx="18.6" cy="57.0" rx="6.8" ry="1.6" fill="#efefef" stroke="#a0a0a0" stroke-width="0.4" transform="rotate(-11 18.6 57.0)"/><line x1="14.9" y1="57.4" x2="22.7" y2="56.6" stroke="#cfcfcf" stroke-width="0.5" transform="rotate(-11 18.6 57.0)"/><ellipse cx="32.8" cy="53.2" rx="1.9" ry="1.0" fill="#111" transform="rotate(-15 32.8 53.2)"/><ellipse cx="23.3" cy="46.8" rx="2.5" ry="0.85" fill="#222" filter="url(#bl03)" transform="rotate(-22 23.3 46.8)"/></g>
<polygon points="297.80,35.0 335.80,35.0 335.80,43.8 297.80,53.9" fill="none" stroke="#333" stroke-width="0.55"/>
<text x="310.70" y="33.10" font-size="7.2" textLength="10.00" lengthAdjust="spacingAndGlyphs" >2.8</text>
<rect x="343.60" y="26.0" width="48.3" height="47.0" fill="none" stroke="#b8b8b8" stroke-width="0.6"/>
<line x1="343.60" y1="35.40" x2="344.60" y2="35.40" stroke="#c8c8c8" stroke-width="0.4" />
<line x1="353.20" y1="73.00" x2="353.20" y2="72.00" stroke="#c8c8c8" stroke-width="0.4" />
<line x1="343.60" y1="44.80" x2="344.60" y2="44.80" stroke="#c8c8c8" stroke-width="0.4" />
<line x1="362.80" y1="73.00" x2="362.80" y2="72.00" stroke="#c8c8c8" stroke-width="0.4" />
<line x1="343.60" y1="54.20" x2="344.60" y2="54.20" stroke="#c8c8c8" stroke-width="0.4" />
<line x1="372.40" y1="73.00" x2="372.40" y2="72.00" stroke="#c8c8c8" stroke-width="0.4" />
<line x1="343.60" y1="63.60" x2="344.60" y2="63.60" stroke="#c8c8c8" stroke-width="0.4" />
<line x1="382.00" y1="73.00" x2="382.00" y2="72.00" stroke="#c8c8c8" stroke-width="0.4" />
<g transform="translate(343.60,0)"><ellipse cx="23.2" cy="51.2" rx="17.5" ry="5.1" fill="#a8a8a8" filter="url(#bl15)" transform="rotate(-11 23.2 51.2)"/><rect x="19.5" y="53.9" width="0.5" height="0.5" fill="#bbbbbb"/><rect x="38.1" y="49.5" width="0.5" height="0.5" fill="#8f8f8f"/><rect x="30.3" y="48.4" width="0.5" height="0.5" fill="#bbbbbb"/><rect x="34.3" y="46.6" width="0.5" height="0.5" fill="#666"/><rect x="30.4" y="49.9" width="0.5" height="0.5" fill="#a5a5a5"/><rect x="21.4" y="47.9" width="0.5" height="0.5" fill="#a5a5a5"/><rect x="27.6" y="43.4" width="0.5" height="0.5" fill="#a5a5a5"/><rect x="31.4" y="52.1" width="0.5" height="0.5" fill="#666"/><rect x="27.8" y="45.2" width="0.5" height="0.5" fill="#7a7a7a"/><rect x="17.8" y="50.3" width="0.5" height="0.5" fill="#8f8f8f"/><rect x="9.8" y="54.9" width="0.5" height="0.5" fill="#bbbbbb"/><rect x="29.3" y="50.8" width="0.5" height="0.5" fill="#7a7a7a"/><rect x="24.4" y="51.9" width="0.5" height="0.5" fill="#666"/><rect x="13.5" y="53.3" width="0.5" height="0.5" fill="#7a7a7a"/><rect x="41.7" y="46.6" width="0.5" height="0.5" fill="#666"/><rect x="24.1" y="52.2" width="0.5" height="0.5" fill="#666"/><rect x="2.4" y="59.5" width="0.5" height="0.5" fill="#a5a5a5"/><rect x="26.6" y="51.8" width="0.5" height="0.5" fill="#a5a5a5"/><rect x="14.2" y="49.5" width="0.5" height="0.5" fill="#bbbbbb"/><rect x="30.7" y="45.7" width="0.5" height="0.5" fill="#666"/><rect x="25.0" y="48.1" width="0.5" height="0.5" fill="#8f8f8f"/><rect x="16.3" y="51.1" width="0.5" height="0.5" fill="#8f8f8f"/><rect x="26.6" y="52.6" width="0.5" height="0.5" fill="#7a7a7a"/><rect x="25.3" y="53.2" width="0.5" height="0.5" fill="#bbbbbb"/><rect x="25.5" y="51.6" width="0.5" height="0.5" fill="#8f8f8f"/><rect x="34.3" y="48.7" width="0.5" height="0.5" fill="#7a7a7a"/><rect x="21.6" y="50.1" width="0.5" height="0.5" fill="#a5a5a5"/><rect x="28.1" y="50.0" width="0.5" height="0.5" fill="#a5a5a5"/><rect x="28.5" y="48.4" width="0.5" height="0.5" fill="#a5a5a5"/><rect x="26.2" y="50.0" width="0.5" height="0.5" fill="#8f8f8f"/><rect x="24.6" y="51.7" width="0.5" height="0.5" fill="#bbbbbb"/><rect x="35.2" y="48.0" width="0.5" height="0.5" fill="#666"/><rect x="13.0" y="57.5" width="0.5" height="0.5" fill="#a5a5a5"/><rect x="11.7" y="49.9" width="0.5" height="0.5" fill="#666"/><rect x="33.7" y="51.6" width="0.5" height="0.5" fill="#bbbbbb"/><rect x="22.9" y="51.8" width="0.5" height="0.5" fill="#8f8f8f"/><rect x="28.1" y="51.7" width="0.5" height="0.5" fill="#8f8f8f"/><rect x="37.9" y="49.4" width="0.5" height="0.5" fill="#7a7a7a"/><rect x="29.4" y="44.4" width="0.5" height="0.5" fill="#a5a5a5"/><rect x="21.4" y="49.5" width="0.5" height="0.5" fill="#8f8f8f"/><rect x="26.1" y="50.8" width="0.5" height="0.5" fill="#a5a5a5"/><rect x="21.1" y="51.1" width="0.5" height="0.5" fill="#666"/><rect x="26.9" y="45.8" width="0.5" height="0.5" fill="#7a7a7a"/><rect x="21.5" y="50.3" width="0.5" height="0.5" fill="#7a7a7a"/><rect x="19.0" y="53.3" width="0.5" height="0.5" fill="#8f8f8f"/><rect x="19.2" y="48.9" width="0.5" height="0.5" fill="#666"/><rect x="20.6" y="55.3" width="0.5" height="0.5" fill="#8f8f8f"/><rect x="22.8" y="51.4" width="0.5" height="0.5" fill="#8f8f8f"/><rect x="18.4" y="49.4" width="0.5" height="0.5" fill="#a5a5a5"/><rect x="24.5" y="51.1" width="0.5" height="0.5" fill="#7a7a7a"/><rect x="10.5" y="56.2" width="0.5" height="0.5" fill="#a5a5a5"/><rect x="16.7" y="50.9" width="0.5" height="0.5" fill="#7a7a7a"/><rect x="26.2" y="51.2" width="0.5" height="0.5" fill="#7a7a7a"/><rect x="11.2" y="48.0" width="0.5" height="0.5" fill="#666"/><rect x="5.9" y="51.2" width="0.5" height="0.5" fill="#bbbbbb"/><rect x="28.4" y="52.6" width="0.5" height="0.5" fill="#7a7a7a"/><rect x="4.6" y="53.7" width="0.5" height="0.5" fill="#666"/><rect x="14.1" y="56.3" width="0.5" height="0.5" fill="#7a7a7a"/><rect x="20.0" y="57.3" width="0.5" height="0.5" fill="#666"/><rect x="33.8" y="48.4" width="0.5" height="0.5" fill="#666"/><rect x="14.1" y="50.0" width="0.5" height="0.5" fill="#666"/><rect x="33.5" y="46.5" width="0.5" height="0.5" fill="#7a7a7a"/><rect x="12.5" y="48.3" width="0.5" height="0.5" fill="#bbbbbb"/><rect x="11.1" y="56.8" width="0.5" height="0.5" fill="#a5a5a5"/><rect x="27.0" y="52.3" width="0.5" height="0.5" fill="#a5a5a5"/><rect x="28.7" y="49.2" width="0.5" height="0.5" fill="#8f8f8f"/><rect x="29.1" y="51.5" width="0.5" height="0.5" fill="#7a7a7a"/><rect x="35.0" y="49.7" width="0.5" height="0.5" fill="#666"/><rect x="19.9" y="49.2" width="0.5" height="0.5" fill="#a5a5a5"/><rect x="14.9" y="50.3" width="0.5" height="0.5" fill="#8f8f8f"/><rect x="19.4" y="49.6" width="0.5" height="0.5" fill="#7a7a7a"/><rect x="13.3" y="55.0" width="0.5" height="0.5" fill="#a5a5a5"/><rect x="18.7" y="51.8" width="0.5" height="0.5" fill="#666"/><rect x="16.4" y="49.8" width="0.5" height="0.5" fill="#7a7a7a"/><rect x="13.1" y="54.4" width="0.5" height="0.5" fill="#a5a5a5"/><rect x="31.3" y="44.5" width="0.5" height="0.5" fill="#a5a5a5"/><rect x="27.9" y="51.1" width="0.5" height="0.5" fill="#a5a5a5"/><rect x="14.7" y="56.9" width="0.5" height="0.5" fill="#bbbbbb"/><rect x="21.7" y="51.2" width="0.5" height="0.5" fill="#7a7a7a"/><rect x="36.8" y="50.9" width="0.5" height="0.5" fill="#bbbbbb"/><rect x="37.2" y="50.8" width="0.5" height="0.5" fill="#a5a5a5"/><rect x="14.7" y="48.1" width="0.5" height="0.5" fill="#666"/><rect x="21.3" y="45.6" width="0.5" height="0.5" fill="#7a7a7a"/><rect x="37.2" y="53.1" width="0.5" height="0.5" fill="#8f8f8f"/><rect x="42.2" y="45.4" width="0.5" height="0.5" fill="#7a7a7a"/><rect x="17.9" y="47.4" width="0.5" height="0.5" fill="#7a7a7a"/><rect x="31.7" y="50.5" width="0.5" height="0.5" fill="#8f8f8f"/><rect x="35.1" y="54.3" width="0.5" height="0.5" fill="#8f8f8f"/><rect x="31.6" y="47.4" width="0.5" height="0.5" fill="#8f8f8f"/><rect x="4.8" y="54.5" width="0.5" height="0.5" fill="#7a7a7a"/><rect x="13.7" y="50.4" width="0.5" height="0.5" fill="#7a7a7a"/><rect x="23.3" y="51.8" width="0.5" height="0.5" fill="#7a7a7a"/><rect x="14.6" y="55.2" width="0.5" height="0.5" fill="#8f8f8f"/><rect x="15.2" y="46.5" width="0.5" height="0.5" fill="#7a7a7a"/><rect x="25.5" y="48.2" width="0.5" height="0.5" fill="#bbbbbb"/><rect x="40.7" y="49.5" width="0.5" height="0.5" fill="#a5a5a5"/><rect x="13.2" y="51.5" width="0.5" height="0.5" fill="#666"/><rect x="24.7" y="54.6" width="0.5" height="0.5" fill="#a5a5a5"/><rect x="22.9" y="48.0" width="0.5" height="0.5" fill="#a5a5a5"/><rect x="35.3" y="48.4" width="0.5" height="0.5" fill="#8f8f8f"/><rect x="22.6" y="52.2" width="0.5" height="0.5" fill="#7a7a7a"/><rect x="31.3" y="54.1" width="0.5" height="0.5" fill="#666"/><rect x="21.9" y="54.9" width="0.5" height="0.5" fill="#8f8f8f"/><rect x="7.0" y="47.2" width="0.5" height="0.5" fill="#bbbbbb"/><rect x="40.0" y="44.8" width="0.5" height="0.5" fill="#666"/><rect x="23.6" y="48.7" width="0.5" height="0.5" fill="#8f8f8f"/><rect x="16.9" y="50.0" width="0.5" height="0.5" fill="#bbbbbb"/><rect x="22.5" y="51.9" width="0.5" height="0.5" fill="#a5a5a5"/><rect x="26.8" y="54.9" width="0.5" height="0.5" fill="#666"/><rect x="34.9" y="50.1" width="0.5" height="0.5" fill="#8f8f8f"/><rect x="30.8" y="51.4" width="0.5" height="0.5" fill="#7a7a7a"/><rect x="18.2" y="53.4" width="0.5" height="0.5" fill="#7a7a7a"/><rect x="28.3" y="54.2" width="0.5" height="0.5" fill="#a5a5a5"/><rect x="25.0" y="51.1" width="0.5" height="0.5" fill="#7a7a7a"/><rect x="21.0" y="48.1" width="0.5" height="0.5" fill="#666"/><rect x="12.0" y="48.3" width="0.5" height="0.5" fill="#8f8f8f"/><rect x="18.9" y="53.3" width="0.5" height="0.5" fill="#666"/><rect x="39.5" y="49.9" width="0.5" height="0.5" fill="#8f8f8f"/><rect x="14.4" y="50.4" width="0.5" height="0.5" fill="#bbbbbb"/><rect x="36.7" y="46.4" width="0.5" height="0.5" fill="#7a7a7a"/><rect x="24.3" y="50.9" width="0.5" height="0.5" fill="#666"/><rect x="15.4" y="51.9" width="0.5" height="0.5" fill="#7a7a7a"/><rect x="35.5" y="54.5" width="0.5" height="0.5" fill="#666"/><rect x="35.0" y="49.0" width="0.5" height="0.5" fill="#7a7a7a"/><rect x="28.0" y="51.7" width="0.5" height="0.5" fill="#bbbbbb"/><rect x="15.7" y="48.9" width="0.5" height="0.5" fill="#a5a5a5"/><rect x="25.9" y="48.7" width="0.5" height="0.5" fill="#8f8f8f"/><rect x="35.6" y="50.3" width="0.5" height="0.5" fill="#a5a5a5"/><rect x="23.9" y="50.5" width="0.5" height="0.5" fill="#a5a5a5"/><rect x="23.2" y="47.5" width="0.5" height="0.5" fill="#a5a5a5"/><rect x="39.0" y="57.4" width="0.5" height="0.5" fill="#8f8f8f"/><rect x="24.6" y="51.6" width="0.5" height="0.5" fill="#8f8f8f"/><rect x="38.5" y="43.5" width="0.5" height="0.5" fill="#8f8f8f"/><rect x="22.1" y="48.8" width="0.5" height="0.5" fill="#bbbbbb"/><rect x="17.7" y="47.7" width="0.5" height="0.5" fill="#bbbbbb"/><rect x="31.1" y="49.0" width="0.5" height="0.5" fill="#7a7a7a"/><rect x="33.3" y="51.0" width="0.5" height="0.5" fill="#7a7a7a"/><rect x="24.2" y="53.1" width="0.5" height="0.5" fill="#7a7a7a"/><rect x="37.2" y="46.5" width="0.5" height="0.5" fill="#8f8f8f"/><rect x="27.7" y="53.0" width="0.5" height="0.5" fill="#bbbbbb"/><rect x="26.7" y="57.2" width="0.5" height="0.5" fill="#bbbbbb"/><rect x="8.2" y="55.1" width="0.5" height="0.5" fill="#666"/><rect x="29.4" y="47.1" width="0.5" height="0.5" fill="#7a7a7a"/><rect x="17.3" y="51.0" width="0.5" height="0.5" fill="#7a7a7a"/><rect x="15.8" y="55.1" width="0.5" height="0.5" fill="#bbbbbb"/><rect x="28.0" y="49.1" width="0.5" height="0.5" fill="#666"/><rect x="33.8" y="51.8" width="0.5" height="0.5" fill="#7a7a7a"/><rect x="21.7" y="52.7" width="0.5" height="0.5" fill="#666"/><rect x="28.8" y="50.2" width="0.5" height="0.5" fill="#666"/><rect x="18.6" y="47.0" width="0.5" height="0.5" fill="#666"/><rect x="32.4" y="45.0" width="0.5" height="0.5" fill="#7a7a7a"/><rect x="29.7" y="44.4" width="0.5" height="0.5" fill="#666"/><rect x="34.0" y="45.3" width="0.5" height="0.5" fill="#a5a5a5"/><rect x="29.0" y="51.2" width="0.5" height="0.5" fill="#666"/><rect x="44.9" y="48.4" width="0.5" height="0.5" fill="#666"/><rect x="28.9" y="45.9" width="0.5" height="0.5" fill="#8f8f8f"/><rect x="19.7" y="51.9" width="0.5" height="0.5" fill="#7a7a7a"/><rect x="22.5" y="53.9" width="0.5" height="0.5" fill="#8f8f8f"/><rect x="30.8" y="49.8" width="0.5" height="0.5" fill="#8f8f8f"/><rect x="38.3" y="49.7" width="0.5" height="0.5" fill="#8f8f8f"/><rect x="24.7" y="46.4" width="0.5" height="0.5" fill="#a5a5a5"/><rect x="30.6" y="46.0" width="0.5" height="0.5" fill="#666"/><rect x="24.5" y="50.0" width="0.5" height="0.5" fill="#bbbbbb"/><rect x="24.7" y="47.8" width="0.5" height="0.5" fill="#666"/><rect x="18.2" y="51.4" width="0.5" height="0.5" fill="#666"/><rect x="17.6" y="50.9" width="0.5" height="0.5" fill="#a5a5a5"/><rect x="29.9" y="49.7" width="0.5" height="0.5" fill="#666"/><rect x="34.1" y="49.0" width="0.5" height="0.5" fill="#a5a5a5"/><rect x="17.7" y="46.5" width="0.5" height="0.5" fill="#a5a5a5"/><rect x="5.3" y="50.1" width="0.5" height="0.5" fill="#bbbbbb"/><rect x="24.2" y="58.4" width="0.5" height="0.5" fill="#8f8f8f"/><rect x="30.9" y="42.6" width="0.5" height="0.5" fill="#7a7a7a"/><rect x="20.0" y="51.6" width="0.5" height="0.5" fill="#666"/><rect x="20.3" y="51.0" width="0.5" height="0.5" fill="#8f8f8f"/><rect x="19.3" y="54.3" width="0.5" height="0.5" fill="#a5a5a5"/><rect x="34.6" y="45.5" width="0.5" height="0.5" fill="#a5a5a5"/><rect x="25.5" y="50.1" width="0.5" height="0.5" fill="#7a7a7a"/><rect x="21.8" y="54.4" width="0.5" height="0.5" fill="#bbbbbb"/><rect x="15.7" y="52.4" width="0.5" height="0.5" fill="#7a7a7a"/><rect x="28.2" y="49.4" width="0.5" height="0.5" fill="#bbbbbb"/><rect x="23.6" y="45.6" width="0.5" height="0.5" fill="#666"/><rect x="20.1" y="53.9" width="0.5" height="0.5" fill="#7a7a7a"/><rect x="30.0" y="47.1" width="0.5" height="0.5" fill="#bbbbbb"/><rect x="23.5" y="49.0" width="0.5" height="0.5" fill="#a5a5a5"/><rect x="21.2" y="49.1" width="0.5" height="0.5" fill="#7a7a7a"/><rect x="31.3" y="51.9" width="0.5" height="0.5" fill="#7a7a7a"/><rect x="17.4" y="52.0" width="0.5" height="0.5" fill="#bbbbbb"/><rect x="27.2" y="51.7" width="0.5" height="0.5" fill="#7a7a7a"/><rect x="21.4" y="47.1" width="0.5" height="0.5" fill="#8f8f8f"/><rect x="28.7" y="52.3" width="0.5" height="0.5" fill="#7a7a7a"/><rect x="24.4" y="58.6" width="0.5" height="0.5" fill="#666"/><rect x="31.3" y="53.4" width="0.5" height="0.5" fill="#7a7a7a"/><rect x="6.8" y="60.2" width="0.5" height="0.5" fill="#8f8f8f"/><rect x="22.6" y="47.8" width="0.5" height="0.5" fill="#7a7a7a"/><rect x="39.6" y="52.2" width="0.5" height="0.5" fill="#8f8f8f"/><rect x="27.0" y="53.3" width="0.5" height="0.5" fill="#666"/><rect x="41.0" y="48.0" width="0.5" height="0.5" fill="#a5a5a5"/><rect x="20.0" y="48.1" width="0.5" height="0.5" fill="#8f8f8f"/><rect x="19.6" y="52.1" width="0.5" height="0.5" fill="#bbbbbb"/><rect x="24.0" y="50.5" width="0.5" height="0.5" fill="#7a7a7a"/><rect x="31.4" y="47.6" width="0.5" height="0.5" fill="#bbbbbb"/><rect x="13.1" y="50.6" width="0.5" height="0.5" fill="#7a7a7a"/><rect x="17.2" y="48.2" width="0.5" height="0.5" fill="#bbbbbb"/><rect x="31.2" y="45.6" width="0.5" height="0.5" fill="#666"/><rect x="17.2" y="53.0" width="0.5" height="0.5" fill="#666"/><rect x="28.9" y="48.4" width="0.5" height="0.5" fill="#a5a5a5"/><rect x="20.6" y="47.2" width="0.5" height="0.5" fill="#8f8f8f"/><rect x="29.4" y="46.9" width="0.5" height="0.5" fill="#666"/><rect x="17.4" y="49.9" width="0.5" height="0.5" fill="#7a7a7a"/><rect x="29.9" y="48.0" width="0.5" height="0.5" fill="#666"/><rect x="17.0" y="54.6" width="0.5" height="0.5" fill="#666"/><rect x="34.8" y="49.7" width="0.5" height="0.5" fill="#7a7a7a"/><rect x="18.3" y="44.4" width="0.5" height="0.5" fill="#7a7a7a"/><rect x="20.2" y="51.4" width="0.5" height="0.5" fill="#bbbbbb"/><rect x="18.6" y="52.5" width="0.5" height="0.5" fill="#a5a5a5"/><rect x="11.8" y="52.9" width="0.5" height="0.5" fill="#8f8f8f"/><rect x="15.3" y="52.1" width="0.5" height="0.5" fill="#a5a5a5"/><rect x="28.3" y="54.7" width="0.5" height="0.5" fill="#a5a5a5"/><rect x="4.1" y="54.1" width="0.5" height="0.5" fill="#bbbbbb"/><rect x="22.5" y="52.0" width="0.5" height="0.5" fill="#8f8f8f"/><rect x="22.0" y="52.0" width="0.5" height="0.5" fill="#666"/><rect x="16.6" y="53.9" width="0.5" height="0.5" fill="#8f8f8f"/><rect x="20.4" y="50.8" width="0.5" height="0.5" fill="#8f8f8f"/><rect x="21.6" y="43.8" width="0.5" height="0.5" fill="#bbbbbb"/><rect x="33.3" y="48.2" width="0.5" height="0.5" fill="#7a7a7a"/><rect x="35.1" y="52.7" width="0.5" height="0.5" fill="#7a7a7a"/><rect x="13.5" y="53.7" width="0.5" height="0.5" fill="#7a7a7a"/><rect x="25.7" y="48.9" width="0.5" height="0.5" fill="#a5a5a5"/><rect x="17.2" y="52.7" width="0.5" height="0.5" fill="#bbbbbb"/><rect x="14.5" y="48.2" width="0.5" height="0.5" fill="#a5a5a5"/><rect x="14.8" y="57.5" width="0.5" height="0.5" fill="#8f8f8f"/><rect x="19.6" y="47.1" width="0.5" height="0.5" fill="#a5a5a5"/><rect x="19.3" y="48.5" width="0.5" height="0.5" fill="#8f8f8f"/><rect x="17.0" y="55.8" width="0.5" height="0.5" fill="#8f8f8f"/><rect x="15.2" y="53.0" width="0.5" height="0.5" fill="#666"/><rect x="19.3" y="49.2" width="0.5" height="0.5" fill="#8f8f8f"/><rect x="25.8" y="49.6" width="0.5" height="0.5" fill="#bbbbbb"/><rect x="36.0" y="45.4" width="0.5" height="0.5" fill="#7a7a7a"/><rect x="16.3" y="51.8" width="0.5" height="0.5" fill="#bbbbbb"/><rect x="25.4" y="50.6" width="0.5" height="0.5" fill="#666"/><rect x="20.1" y="49.6" width="0.5" height="0.5" fill="#666"/><rect x="8.7" y="50.9" width="0.5" height="0.5" fill="#7a7a7a"/><rect x="24.9" y="47.8" width="0.5" height="0.5" fill="#7a7a7a"/><rect x="27.0" y="53.4" width="0.5" height="0.5" fill="#bbbbbb"/><rect x="34.1" y="54.7" width="0.5" height="0.5" fill="#bbbbbb"/><rect x="27.8" y="49.9" width="0.5" height="0.5" fill="#bbbbbb"/><rect x="26.9" y="44.4" width="0.5" height="0.5" fill="#7a7a7a"/><rect x="18.2" y="52.0" width="0.5" height="0.5" fill="#666"/><rect x="23.0" y="47.6" width="0.5" height="0.5" fill="#666"/><rect x="17.7" y="51.2" width="0.5" height="0.5" fill="#7a7a7a"/><rect x="28.1" y="46.9" width="0.5" height="0.5" fill="#bbbbbb"/><rect x="33.4" y="50.3" width="0.5" height="0.5" fill="#7a7a7a"/><rect x="21.7" y="49.0" width="0.5" height="0.5" fill="#7a7a7a"/><rect x="7.3" y="52.5" width="0.5" height="0.5" fill="#666"/><rect x="28.6" y="52.3" width="0.5" height="0.5" fill="#bbbbbb"/><rect x="16.9" y="52.3" width="0.5" height="0.5" fill="#a5a5a5"/><rect x="18.3" y="54.3" width="0.5" height="0.5" fill="#666"/><rect x="28.1" y="52.8" width="0.5" height="0.5" fill="#666"/><rect x="26.8" y="50.4" width="0.5" height="0.5" fill="#8f8f8f"/><rect x="25.3" y="49.3" width="0.5" height="0.5" fill="#a5a5a5"/><rect x="6.0" y="55.0" width="0.5" height="0.5" fill="#666"/><rect x="26.8" y="53.5" width="0.5" height="0.5" fill="#7a7a7a"/><rect x="16.1" y="57.7" width="0.5" height="0.5" fill="#8f8f8f"/><rect x="16.9" y="56.8" width="0.5" height="0.5" fill="#bbbbbb"/><rect x="24.5" y="48.6" width="0.5" height="0.5" fill="#a5a5a5"/><rect x="20.9" y="53.5" width="0.5" height="0.5" fill="#666"/><rect x="27.0" y="47.9" width="0.5" height="0.5" fill="#a5a5a5"/><rect x="16.2" y="54.5" width="0.5" height="0.5" fill="#8f8f8f"/><rect x="29.3" y="47.7" width="0.5" height="0.5" fill="#7a7a7a"/><rect x="14.7" y="48.0" width="0.5" height="0.5" fill="#8f8f8f"/><rect x="29.8" y="54.4" width="0.5" height="0.5" fill="#7a7a7a"/><rect x="13.3" y="50.6" width="0.5" height="0.5" fill="#666"/><rect x="15.8" y="54.8" width="0.5" height="0.5" fill="#a5a5a5"/><rect x="21.5" y="51.1" width="0.5" height="0.5" fill="#8f8f8f"/><rect x="26.3" y="51.0" width="0.5" height="0.5" fill="#a5a5a5"/><rect x="13.8" y="49.9" width="0.5" height="0.5" fill="#bbbbbb"/><rect x="33.7" y="46.6" width="0.5" height="0.5" fill="#bbbbbb"/><rect x="32.6" y="52.9" width="0.5" height="0.5" fill="#bbbbbb"/><rect x="26.5" y="49.4" width="0.5" height="0.5" fill="#666"/><rect x="18.8" y="48.8" width="0.5" height="0.5" fill="#7a7a7a"/><rect x="28.7" y="51.1" width="0.5" height="0.5" fill="#666"/><rect x="20.8" y="52.2" width="0.5" height="0.5" fill="#666"/><rect x="14.1" y="57.1" width="0.5" height="0.5" fill="#8f8f8f"/><rect x="17.8" y="51.1" width="0.5" height="0.5" fill="#8f8f8f"/><rect x="25.2" y="51.4" width="0.5" height="0.5" fill="#666"/><rect x="13.3" y="54.8" width="0.5" height="0.5" fill="#666"/><rect x="13.7" y="52.9" width="0.5" height="0.5" fill="#666"/><rect x="24.9" y="47.4" width="0.5" height="0.5" fill="#a5a5a5"/><rect x="22.8" y="51.2" width="0.5" height="0.5" fill="#a5a5a5"/><rect x="21.2" y="49.8" width="0.5" height="0.5" fill="#a5a5a5"/><rect x="20.7" y="51.1" width="0.5" height="0.5" fill="#a5a5a5"/><rect x="25.6" y="52.3" width="0.5" height="0.5" fill="#666"/><rect x="23.1" y="51.2" width="0.5" height="0.5" fill="#666"/><rect x="41.0" y="47.0" width="0.5" height="0.5" fill="#7a7a7a"/><rect x="27.0" y="49.0" width="0.5" height="0.5" fill="#666"/><rect x="23.1" y="55.1" width="0.5" height="0.5" fill="#a5a5a5"/><rect x="23.2" y="49.0" width="0.5" height="0.5" fill="#666"/><rect x="15.4" y="56.4" width="0.5" height="0.5" fill="#7a7a7a"/><rect x="23.4" y="49.6" width="0.5" height="0.5" fill="#bbbbbb"/><rect x="21.1" y="48.0" width="0.5" height="0.5" fill="#8f8f8f"/><rect x="26.5" y="49.8" width="0.5" height="0.5" fill="#666"/><rect x="25.6" y="50.6" width="0.5" height="0.5" fill="#bbbbbb"/><rect x="30.9" y="50.8" width="0.5" height="0.5" fill="#bbbbbb"/><rect x="33.8" y="54.4" width="0.5" height="0.5" fill="#a5a5a5"/><rect x="18.0" y="50.3" width="0.5" height="0.5" fill="#bbbbbb"/><rect x="22.1" y="47.7" width="0.5" height="0.5" fill="#7a7a7a"/><rect x="34.4" y="53.3" width="0.5" height="0.5" fill="#8f8f8f"/><rect x="29.0" y="49.3" width="0.5" height="0.5" fill="#a5a5a5"/><rect x="9.5" y="54.4" width="0.5" height="0.5" fill="#a5a5a5"/><rect x="37.9" y="46.2" width="0.5" height="0.5" fill="#bbbbbb"/><rect x="21.1" y="53.6" width="0.5" height="0.5" fill="#bbbbbb"/><rect x="37.2" y="47.5" width="0.5" height="0.5" fill="#bbbbbb"/><rect x="19.1" y="55.6" width="0.5" height="0.5" fill="#666"/><rect x="29.1" y="46.1" width="0.5" height="0.5" fill="#8f8f8f"/><rect x="3.1" y="50.5" width="0.5" height="0.5" fill="#7a7a7a"/><rect x="15.4" y="55.9" width="0.5" height="0.5" fill="#bbbbbb"/><rect x="24.6" y="48.4" width="0.5" height="0.5" fill="#a5a5a5"/><rect x="24.1" y="51.0" width="0.5" height="0.5" fill="#8f8f8f"/><rect x="23.9" y="52.7" width="0.5" height="0.5" fill="#666"/><rect x="23.3" y="52.7" width="0.5" height="0.5" fill="#bbbbbb"/><rect x="39.5" y="54.7" width="0.5" height="0.5" fill="#bbbbbb"/><rect x="15.3" y="46.1" width="0.5" height="0.5" fill="#8f8f8f"/><rect x="13.5" y="52.0" width="0.5" height="0.5" fill="#a5a5a5"/><rect x="25.4" y="48.5" width="0.5" height="0.5" fill="#7a7a7a"/><rect x="23.3" y="52.0" width="0.5" height="0.5" fill="#a5a5a5"/><rect x="18.5" y="52.4" width="0.5" height="0.5" fill="#8f8f8f"/><rect x="23.1" y="50.8" width="0.5" height="0.5" fill="#a5a5a5"/><rect x="20.6" y="51.8" width="0.5" height="0.5" fill="#8f8f8f"/><rect x="24.6" y="48.4" width="0.5" height="0.5" fill="#bbbbbb"/><rect x="17.5" y="51.8" width="0.5" height="0.5" fill="#bbbbbb"/><rect x="20.4" y="54.9" width="0.5" height="0.5" fill="#7a7a7a"/><rect x="26.6" y="52.3" width="0.5" height="0.5" fill="#7a7a7a"/><rect x="26.1" y="48.0" width="0.5" height="0.5" fill="#bbbbbb"/><rect x="15.9" y="51.2" width="0.5" height="0.5" fill="#bbbbbb"/><rect x="27.8" y="48.2" width="0.5" height="0.5" fill="#a5a5a5"/><rect x="21.5" y="52.4" width="0.5" height="0.5" fill="#a5a5a5"/><rect x="25.0" y="48.9" width="0.5" height="0.5" fill="#bbbbbb"/><rect x="31.1" y="50.0" width="0.5" height="0.5" fill="#bbbbbb"/><rect x="26.4" y="50.5" width="0.5" height="0.5" fill="#bbbbbb"/><rect x="13.1" y="53.3" width="0.5" height="0.5" fill="#8f8f8f"/><rect x="30.1" y="48.5" width="0.5" height="0.5" fill="#666"/><rect x="37.7" y="46.4" width="0.5" height="0.5" fill="#bbbbbb"/><rect x="30.4" y="49.0" width="0.5" height="0.5" fill="#666"/><rect x="11.1" y="62.0" width="0.5" height="0.5" fill="#a5a5a5"/><rect x="26.6" y="50.8" width="0.5" height="0.5" fill="#bbbbbb"/><rect x="15.6" y="56.1" width="0.5" height="0.5" fill="#a5a5a5"/><rect x="41.5" y="45.2" width="0.5" height="0.5" fill="#666"/><rect x="31.5" y="46.0" width="0.5" height="0.5" fill="#666"/><rect x="22.9" y="49.7" width="0.5" height="0.5" fill="#8f8f8f"/><rect x="12.5" y="51.3" width="0.5" height="0.5" fill="#bbbbbb"/><rect x="17.2" y="54.3" width="0.5" height="0.5" fill="#7a7a7a"/><rect x="20.1" y="53.3" width="0.5" height="0.5" fill="#7a7a7a"/><rect x="35.0" y="55.4" width="0.5" height="0.5" fill="#8f8f8f"/><rect x="34.6" y="50.2" width="0.5" height="0.5" fill="#666"/><rect x="25.4" y="49.7" width="0.5" height="0.5" fill="#bbbbbb"/><rect x="20.2" y="47.2" width="0.5" height="0.5" fill="#a5a5a5"/><rect x="28.8" y="50.5" width="0.5" height="0.5" fill="#666"/><rect x="35.8" y="46.8" width="0.5" height="0.5" fill="#8f8f8f"/><rect x="16.0" y="50.6" width="0.5" height="0.5" fill="#666"/><rect x="16.1" y="52.9" width="0.5" height="0.5" fill="#a5a5a5"/><rect x="31.6" y="51.9" width="0.5" height="0.5" fill="#7a7a7a"/><rect x="10.0" y="55.6" width="0.5" height="0.5" fill="#666"/><rect x="5.8" y="55.8" width="0.5" height="0.5" fill="#666"/><rect x="34.0" y="53.9" width="0.5" height="0.5" fill="#666"/><rect x="39.4" y="45.3" width="0.5" height="0.5" fill="#7a7a7a"/><rect x="26.5" y="42.5" width="0.5" height="0.5" fill="#a5a5a5"/><rect x="30.1" y="45.9" width="0.5" height="0.5" fill="#a5a5a5"/><rect x="31.5" y="48.9" width="0.5" height="0.5" fill="#7a7a7a"/><rect x="12.3" y="53.7" width="0.5" height="0.5" fill="#7a7a7a"/><rect x="18.1" y="56.5" width="0.5" height="0.5" fill="#7a7a7a"/><rect x="20.9" y="47.5" width="0.5" height="0.5" fill="#7a7a7a"/><rect x="19.7" y="52.3" width="0.5" height="0.5" fill="#a5a5a5"/><rect x="20.1" y="52.6" width="0.5" height="0.5" fill="#8f8f8f"/><rect x="17.4" y="51.0" width="0.5" height="0.5" fill="#7a7a7a"/><rect x="24.1" y="52.3" width="0.5" height="0.5" fill="#a5a5a5"/><rect x="27.4" y="49.3" width="0.5" height="0.5" fill="#bbbbbb"/><rect x="41.7" y="49.8" width="0.5" height="0.5" fill="#7a7a7a"/><rect x="8.6" y="51.6" width="0.5" height="0.5" fill="#666"/><rect x="24.3" y="52.9" width="0.5" height="0.5" fill="#8f8f8f"/><rect x="18.2" y="53.0" width="0.5" height="0.5" fill="#7a7a7a"/><rect x="27.5" y="49.5" width="0.5" height="0.5" fill="#8f8f8f"/><rect x="19.9" y="52.6" width="0.5" height="0.5" fill="#8f8f8f"/><rect x="32.4" y="52.8" width="0.5" height="0.5" fill="#a5a5a5"/><rect x="26.4" y="47.7" width="0.5" height="0.5" fill="#7a7a7a"/><rect x="10.3" y="55.5" width="0.5" height="0.5" fill="#bbbbbb"/><rect x="22.8" y="54.0" width="0.5" height="0.5" fill="#666"/><rect x="29.1" y="48.7" width="0.5" height="0.5" fill="#bbbbbb"/><rect x="32.2" y="54.8" width="0.5" height="0.5" fill="#bbbbbb"/><rect x="25.0" y="45.7" width="0.5" height="0.5" fill="#7a7a7a"/><rect x="10.5" y="50.0" width="0.5" height="0.5" fill="#bbbbbb"/><rect x="21.4" y="46.0" width="0.5" height="0.5" fill="#7a7a7a"/><rect x="28.2" y="54.2" width="0.5" height="0.5" fill="#7a7a7a"/><rect x="18.9" y="50.8" width="0.5" height="0.5" fill="#666"/><rect x="19.8" y="48.1" width="0.5" height="0.5" fill="#666"/><rect x="16.2" y="52.0" width="0.5" height="0.5" fill="#8f8f8f"/><rect x="32.5" y="43.9" width="0.5" height="0.5" fill="#a5a5a5"/><rect x="31.9" y="51.1" width="0.5" height="0.5" fill="#a5a5a5"/><rect x="33.3" y="52.5" width="0.5" height="0.5" fill="#7a7a7a"/><rect x="31.5" y="54.9" width="0.5" height="0.5" fill="#8f8f8f"/><rect x="37.4" y="49.4" width="0.5" height="0.5" fill="#bbbbbb"/><rect x="23.4" y="50.8" width="0.5" height="0.5" fill="#bbbbbb"/><rect x="44.1" y="43.5" width="0.5" height="0.5" fill="#666"/><rect x="34.7" y="52.2" width="0.5" height="0.5" fill="#8f8f8f"/><rect x="26.1" y="44.2" width="0.5" height="0.5" fill="#bbbbbb"/><rect x="24.0" y="49.7" width="0.5" height="0.5" fill="#666"/><rect x="33.6" y="47.9" width="0.5" height="0.5" fill="#bbbbbb"/><rect x="39.6" y="48.7" width="0.5" height="0.5" fill="#7a7a7a"/><rect x="25.4" y="52.5" width="0.5" height="0.5" fill="#666"/><rect x="20.7" y="55.2" width="0.5" height="0.5" fill="#666"/><rect x="43.8" y="47.9" width="0.5" height="0.5" fill="#7a7a7a"/><rect x="24.1" y="56.8" width="0.5" height="0.5" fill="#bbbbbb"/><rect x="18.1" y="52.5" width="0.5" height="0.5" fill="#a5a5a5"/><rect x="38.7" y="51.8" width="0.5" height="0.5" fill="#7a7a7a"/><rect x="28.5" y="50.4" width="0.5" height="0.5" fill="#a5a5a5"/><rect x="11.2" y="50.6" width="0.5" height="0.5" fill="#666"/><rect x="30.9" y="51.7" width="0.5" height="0.5" fill="#7a7a7a"/><rect x="18.1" y="51.4" width="0.5" height="0.5" fill="#7a7a7a"/><rect x="31.5" y="52.7" width="0.5" height="0.5" fill="#a5a5a5"/><rect x="33.3" y="54.1" width="0.5" height="0.5" fill="#a5a5a5"/><rect x="19.4" y="47.7" width="0.5" height="0.5" fill="#bbbbbb"/><rect x="15.5" y="52.0" width="0.5" height="0.5" fill="#666"/><rect x="24.9" y="47.8" width="0.5" height="0.5" fill="#7a7a7a"/><rect x="30.5" y="45.3" width="0.5" height="0.5" fill="#bbbbbb"/><rect x="29.3" y="43.2" width="0.5" height="0.5" fill="#a5a5a5"/><rect x="25.6" y="49.7" width="0.5" height="0.5" fill="#bbbbbb"/><rect x="32.7" y="53.0" width="0.5" height="0.5" fill="#8f8f8f"/><rect x="24.8" y="54.0" width="0.5" height="0.5" fill="#666"/><rect x="17.7" y="55.0" width="0.5" height="0.5" fill="#666"/><rect x="21.9" y="53.1" width="0.5" height="0.5" fill="#666"/><rect x="26.1" y="53.7" width="0.5" height="0.5" fill="#a5a5a5"/><rect x="26.1" y="43.1" width="0.5" height="0.5" fill="#666"/><rect x="29.5" y="43.7" width="0.5" height="0.5" fill="#666"/><rect x="36.3" y="49.4" width="0.5" height="0.5" fill="#8f8f8f"/><rect x="34.2" y="46.7" width="0.5" height="0.5" fill="#bbbbbb"/><rect x="24.8" y="49.9" width="0.5" height="0.5" fill="#666"/><rect x="24.8" y="54.5" width="0.5" height="0.5" fill="#a5a5a5"/><rect x="24.5" y="51.6" width="0.5" height="0.5" fill="#666"/><rect x="20.7" y="55.8" width="0.5" height="0.5" fill="#666"/><rect x="44.9" y="49.7" width="0.5" height="0.5" fill="#bbbbbb"/><rect x="26.9" y="49.5" width="0.5" height="0.5" fill="#bbbbbb"/><rect x="19.3" y="51.4" width="0.5" height="0.5" fill="#666"/><rect x="6.2" y="53.8" width="0.5" height="0.5" fill="#a5a5a5"/><rect x="17.8" y="50.9" width="0.5" height="0.5" fill="#666"/><rect x="23.2" y="48.4" width="0.5" height="0.5" fill="#a5a5a5"/><rect x="15.0" y="50.0" width="0.5" height="0.5" fill="#a5a5a5"/><rect x="29.1" y="54.6" width="0.5" height="0.5" fill="#a5a5a5"/><rect x="29.5" y="48.1" width="0.5" height="0.5" fill="#a5a5a5"/><rect x="17.0" y="52.7" width="0.5" height="0.5" fill="#7a7a7a"/><rect x="21.7" y="53.1" width="0.5" height="0.5" fill="#bbbbbb"/><rect x="16.2" y="55.2" width="0.5" height="0.5" fill="#666"/><rect x="28.5" y="49.1" width="0.5" height="0.5" fill="#7a7a7a"/><rect x="21.2" y="53.9" width="0.5" height="0.5" fill="#8f8f8f"/><rect x="20.3" y="60.7" width="0.5" height="0.5" fill="#8f8f8f"/><rect x="25.9" y="50.7" width="0.5" height="0.5" fill="#bbbbbb"/><rect x="40.5" y="50.2" width="0.5" height="0.5" fill="#a5a5a5"/><rect x="17.9" y="48.8" width="0.5" height="0.5" fill="#a5a5a5"/><rect x="16.1" y="56.6" width="0.5" height="0.5" fill="#bbbbbb"/><rect x="29.0" y="57.8" width="0.5" height="0.5" fill="#7a7a7a"/><rect x="13.5" y="55.2" width="0.5" height="0.5" fill="#7a7a7a"/><rect x="18.0" y="48.1" width="0.5" height="0.5" fill="#8f8f8f"/><rect x="28.0" y="46.6" width="0.5" height="0.5" fill="#a5a5a5"/><rect x="23.6" y="55.4" width="0.5" height="0.5" fill="#7a7a7a"/><rect x="20.9" y="52.2" width="0.5" height="0.5" fill="#a5a5a5"/><rect x="24.5" y="46.6" width="0.5" height="0.5" fill="#a5a5a5"/><rect x="3.6" y="60.8" width="0.5" height="0.5" fill="#7a7a7a"/><rect x="11.6" y="56.0" width="0.5" height="0.5" fill="#bbbbbb"/><rect x="17.2" y="50.2" width="0.5" height="0.5" fill="#a5a5a5"/><rect x="21.2" y="48.9" width="0.5" height="0.5" fill="#8f8f8f"/><rect x="22.4" y="54.2" width="0.5" height="0.5" fill="#bbbbbb"/><rect x="13.4" y="50.3" width="0.5" height="0.5" fill="#666"/><rect x="26.9" y="44.3" width="0.5" height="0.5" fill="#a5a5a5"/><rect x="19.2" y="53.6" width="0.5" height="0.5" fill="#bbbbbb"/><rect x="22.9" y="52.7" width="0.5" height="0.5" fill="#bbbbbb"/><rect x="20.0" y="53.2" width="0.5" height="0.5" fill="#8f8f8f"/><rect x="17.8" y="57.5" width="0.5" height="0.5" fill="#7a7a7a"/><ellipse cx="24.8" cy="54.2" rx="14.5" ry="3.9" fill="#5a5a5a" filter="url(#bl05)" transform="rotate(-11 24.8 54.2)"/><path d="M13.6,53.4 Q24.8,49.3 36.5,49.7" fill="none" stroke="#151515" stroke-width="1.9" opacity="0.85"/><ellipse cx="11.0" cy="54.8" rx="4.6" ry="3.6" fill="#151515" filter="url(#bl08)"/><ellipse cx="25.0" cy="54.6" rx="10.4" ry="2.0" fill="#8a8a8a" transform="rotate(-11 25.0 54.6)"/><ellipse cx="25.0" cy="54.6" rx="9.6" ry="1.6" fill="#efefef" stroke="#a0a0a0" stroke-width="0.4" transform="rotate(-11 25.0 54.6)"/><line x1="19.7" y1="55.0" x2="30.8" y2="54.2" stroke="#cfcfcf" stroke-width="0.5" transform="rotate(-11 25.0 54.6)"/><ellipse cx="37.6" cy="50.8" rx="1.9" ry="1.0" fill="#111" transform="rotate(-15 37.6 50.8)"/><ellipse cx="23.3" cy="46.8" rx="2.5" ry="0.85" fill="#222" filter="url(#bl03)" transform="rotate(-22 23.3 46.8)"/></g>
<polygon points="349.00,35.0 387.00,35.0 387.00,43.8 349.00,53.9" fill="none" stroke="#333" stroke-width="0.55"/>
<text x="362.00" y="33.10" font-size="7.2" textLength="10.30" lengthAdjust="spacingAndGlyphs" >4.5</text>
<rect x="394.90" y="26.0" width="48.3" height="47.0" fill="none" stroke="#b8b8b8" stroke-width="0.6"/>
<line x1="394.90" y1="35.40" x2="395.90" y2="35.40" stroke="#c8c8c8" stroke-width="0.4" />
<line x1="404.50" y1="73.00" x2="404.50" y2="72.00" stroke="#c8c8c8" stroke-width="0.4" />
<line x1="394.90" y1="44.80" x2="395.90" y2="44.80" stroke="#c8c8c8" stroke-width="0.4" />
<line x1="414.10" y1="73.00" x2="414.10" y2="72.00" stroke="#c8c8c8" stroke-width="0.4" />
<line x1="394.90" y1="54.20" x2="395.90" y2="54.20" stroke="#c8c8c8" stroke-width="0.4" />
<line x1="423.70" y1="73.00" x2="423.70" y2="72.00" stroke="#c8c8c8" stroke-width="0.4" />
<line x1="394.90" y1="63.60" x2="395.90" y2="63.60" stroke="#c8c8c8" stroke-width="0.4" />
<line x1="433.30" y1="73.00" x2="433.30" y2="72.00" stroke="#c8c8c8" stroke-width="0.4" />
<g transform="translate(394.90,0)"><ellipse cx="23.2" cy="51.2" rx="17.5" ry="5.1" fill="#a8a8a8" filter="url(#bl15)" transform="rotate(-11 23.2 51.2)"/><rect x="29.7" y="49.2" width="0.5" height="0.5" fill="#a5a5a5"/><rect x="39.9" y="42.8" width="0.5" height="0.5" fill="#666"/><rect x="35.0" y="49.9" width="0.5" height="0.5" fill="#a5a5a5"/><rect x="21.6" y="55.0" width="0.5" height="0.5" fill="#8f8f8f"/><rect x="13.8" y="52.4" width="0.5" height="0.5" fill="#a5a5a5"/><rect x="18.3" y="53.9" width="0.5" height="0.5" fill="#bbbbbb"/><rect x="19.3" y="48.6" width="0.5" height="0.5" fill="#666"/><rect x="18.8" y="48.4" width="0.5" height="0.5" fill="#666"/><rect x="16.0" y="54.4" width="0.5" height="0.5" fill="#bbbbbb"/><rect x="28.5" y="49.2" width="0.5" height="0.5" fill="#7a7a7a"/><rect x="33.7" y="48.2" width="0.5" height="0.5" fill="#a5a5a5"/><rect x="24.9" y="43.9" width="0.5" height="0.5" fill="#bbbbbb"/><rect x="18.9" y="55.1" width="0.5" height="0.5" fill="#666"/><rect x="28.2" y="52.5" width="0.5" height="0.5" fill="#666"/><rect x="28.2" y="46.6" width="0.5" height="0.5" fill="#666"/><rect x="19.7" y="49.5" width="0.5" height="0.5" fill="#8f8f8f"/><rect x="33.7" y="40.3" width="0.5" height="0.5" fill="#a5a5a5"/><rect x="16.5" y="49.5" width="0.5" height="0.5" fill="#bbbbbb"/><rect x="30.1" y="56.1" width="0.5" height="0.5" fill="#a5a5a5"/><rect x="29.9" y="53.8" width="0.5" height="0.5" fill="#bbbbbb"/><rect x="33.4" y="51.6" width="0.5" height="0.5" fill="#666"/><rect x="23.6" y="50.5" width="0.5" height="0.5" fill="#666"/><rect x="20.4" y="56.1" width="0.5" height="0.5" fill="#666"/><rect x="31.3" y="47.8" width="0.5" height="0.5" fill="#666"/><rect x="12.8" y="50.6" width="0.5" height="0.5" fill="#7a7a7a"/><rect x="31.7" y="54.2" width="0.5" height="0.5" fill="#bbbbbb"/><rect x="23.7" y="55.4" width="0.5" height="0.5" fill="#bbbbbb"/><rect x="19.3" y="51.6" width="0.5" height="0.5" fill="#7a7a7a"/><rect x="20.6" y="52.4" width="0.5" height="0.5" fill="#7a7a7a"/><rect x="13.9" y="52.4" width="0.5" height="0.5" fill="#666"/><rect x="28.6" y="51.1" width="0.5" height="0.5" fill="#bbbbbb"/><rect x="14.6" y="52.9" width="0.5" height="0.5" fill="#a5a5a5"/><rect x="25.0" y="49.6" width="0.5" height="0.5" fill="#666"/><rect x="18.9" y="48.0" width="0.5" height="0.5" fill="#7a7a7a"/><rect x="21.9" y="48.4" width="0.5" height="0.5" fill="#7a7a7a"/><rect x="36.1" y="49.4" width="0.5" height="0.5" fill="#bbbbbb"/><rect x="29.5" y="50.6" width="0.5" height="0.5" fill="#bbbbbb"/><rect x="22.1" y="51.9" width="0.5" height="0.5" fill="#a5a5a5"/><rect x="4.5" y="50.7" width="0.5" height="0.5" fill="#a5a5a5"/><rect x="30.3" y="50.4" width="0.5" height="0.5" fill="#7a7a7a"/><rect x="43.6" y="49.0" width="0.5" height="0.5" fill="#7a7a7a"/><rect x="18.0" y="58.2" width="0.5" height="0.5" fill="#a5a5a5"/><rect x="21.0" y="55.5" width="0.5" height="0.5" fill="#a5a5a5"/><rect x="27.3" y="50.0" width="0.5" height="0.5" fill="#a5a5a5"/><rect x="18.3" y="48.2" width="0.5" height="0.5" fill="#a5a5a5"/><rect x="18.9" y="57.8" width="0.5" height="0.5" fill="#a5a5a5"/><rect x="41.4" y="48.3" width="0.5" height="0.5" fill="#666"/><rect x="28.4" y="52.6" width="0.5" height="0.5" fill="#7a7a7a"/><rect x="41.9" y="47.7" width="0.5" height="0.5" fill="#a5a5a5"/><rect x="20.1" y="51.0" width="0.5" height="0.5" fill="#bbbbbb"/><rect x="29.1" y="47.8" width="0.5" height="0.5" fill="#666"/><rect x="32.7" y="48.3" width="0.5" height="0.5" fill="#8f8f8f"/><rect x="15.9" y="51.4" width="0.5" height="0.5" fill="#a5a5a5"/><rect x="23.2" y="53.3" width="0.5" height="0.5" fill="#666"/><rect x="23.9" y="51.6" width="0.5" height="0.5" fill="#7a7a7a"/><rect x="24.7" y="52.4" width="0.5" height="0.5" fill="#7a7a7a"/><rect x="23.2" y="56.9" width="0.5" height="0.5" fill="#7a7a7a"/><rect x="14.8" y="51.4" width="0.5" height="0.5" fill="#7a7a7a"/><rect x="28.9" y="52.4" width="0.5" height="0.5" fill="#a5a5a5"/><rect x="9.7" y="59.2" width="0.5" height="0.5" fill="#7a7a7a"/><rect x="21.9" y="54.7" width="0.5" height="0.5" fill="#7a7a7a"/><rect x="26.1" y="53.9" width="0.5" height="0.5" fill="#7a7a7a"/><rect x="16.2" y="50.4" width="0.5" height="0.5" fill="#8f8f8f"/><rect x="15.5" y="51.8" width="0.5" height="0.5" fill="#bbbbbb"/><rect x="29.4" y="56.0" width="0.5" height="0.5" fill="#666"/><rect x="22.3" y="49.9" width="0.5" height="0.5" fill="#8f8f8f"/><rect x="21.8" y="45.9" width="0.5" height="0.5" fill="#666"/><rect x="17.4" y="48.7" width="0.5" height="0.5" fill="#8f8f8f"/><rect x="37.7" y="48.6" width="0.5" height="0.5" fill="#7a7a7a"/><rect x="24.7" y="48.4" width="0.5" height="0.5" fill="#7a7a7a"/><rect x="21.7" y="50.0" width="0.5" height="0.5" fill="#bbbbbb"/><rect x="36.9" y="45.4" width="0.5" height="0.5" fill="#8f8f8f"/><rect x="29.8" y="54.4" width="0.5" height="0.5" fill="#666"/><rect x="25.1" y="52.3" width="0.5" height="0.5" fill="#a5a5a5"/><rect x="23.0" y="54.2" width="0.5" height="0.5" fill="#a5a5a5"/><rect x="25.7" y="44.0" width="0.5" height="0.5" fill="#7a7a7a"/><rect x="28.9" y="49.1" width="0.5" height="0.5" fill="#8f8f8f"/><rect x="17.9" y="47.8" width="0.5" height="0.5" fill="#8f8f8f"/><rect x="25.6" y="50.1" width="0.5" height="0.5" fill="#a5a5a5"/><rect x="25.5" y="56.7" width="0.5" height="0.5" fill="#8f8f8f"/><rect x="27.2" y="49.4" width="0.5" height="0.5" fill="#8f8f8f"/><rect x="39.2" y="52.5" width="0.5" height="0.5" fill="#7a7a7a"/><rect x="23.4" y="50.1" width="0.5" height="0.5" fill="#666"/><rect x="16.7" y="50.2" width="0.5" height="0.5" fill="#8f8f8f"/><rect x="32.8" y="53.4" width="0.5" height="0.5" fill="#bbbbbb"/><rect x="20.4" y="55.7" width="0.5" height="0.5" fill="#7a7a7a"/><rect x="18.3" y="51.1" width="0.5" height="0.5" fill="#a5a5a5"/><rect x="22.3" y="48.8" width="0.5" height="0.5" fill="#a5a5a5"/><rect x="18.1" y="48.4" width="0.5" height="0.5" fill="#666"/><rect x="35.9" y="52.0" width="0.5" height="0.5" fill="#8f8f8f"/><rect x="37.7" y="44.4" width="0.5" height="0.5" fill="#bbbbbb"/><rect x="21.9" y="50.6" width="0.5" height="0.5" fill="#7a7a7a"/><rect x="23.0" y="50.2" width="0.5" height="0.5" fill="#8f8f8f"/><rect x="30.1" y="56.4" width="0.5" height="0.5" fill="#666"/><rect x="12.3" y="55.7" width="0.5" height="0.5" fill="#bbbbbb"/><rect x="27.0" y="48.0" width="0.5" height="0.5" fill="#666"/><rect x="13.1" y="59.2" width="0.5" height="0.5" fill="#a5a5a5"/><rect x="35.7" y="46.5" width="0.5" height="0.5" fill="#a5a5a5"/><rect x="11.2" y="53.1" width="0.5" height="0.5" fill="#7a7a7a"/><rect x="15.2" y="54.2" width="0.5" height="0.5" fill="#7a7a7a"/><rect x="18.6" y="52.0" width="0.5" height="0.5" fill="#bbbbbb"/><rect x="24.1" y="54.8" width="0.5" height="0.5" fill="#7a7a7a"/><rect x="17.8" y="51.4" width="0.5" height="0.5" fill="#666"/><rect x="28.5" y="52.5" width="0.5" height="0.5" fill="#666"/><rect x="26.9" y="52.9" width="0.5" height="0.5" fill="#7a7a7a"/><rect x="19.6" y="48.3" width="0.5" height="0.5" fill="#a5a5a5"/><rect x="25.1" y="53.0" width="0.5" height="0.5" fill="#bbbbbb"/><rect x="22.2" y="49.6" width="0.5" height="0.5" fill="#8f8f8f"/><rect x="22.4" y="49.6" width="0.5" height="0.5" fill="#7a7a7a"/><rect x="18.5" y="50.7" width="0.5" height="0.5" fill="#666"/><rect x="10.0" y="52.0" width="0.5" height="0.5" fill="#7a7a7a"/><rect x="21.6" y="49.7" width="0.5" height="0.5" fill="#a5a5a5"/><rect x="28.3" y="47.3" width="0.5" height="0.5" fill="#7a7a7a"/><rect x="29.8" y="51.4" width="0.5" height="0.5" fill="#8f8f8f"/><rect x="21.6" y="51.4" width="0.5" height="0.5" fill="#8f8f8f"/><rect x="23.0" y="52.5" width="0.5" height="0.5" fill="#8f8f8f"/><rect x="20.3" y="52.1" width="0.5" height="0.5" fill="#8f8f8f"/><rect x="13.9" y="54.2" width="0.5" height="0.5" fill="#8f8f8f"/><rect x="26.0" y="51.5" width="0.5" height="0.5" fill="#666"/><rect x="10.0" y="54.0" width="0.5" height="0.5" fill="#8f8f8f"/><rect x="35.0" y="48.2" width="0.5" height="0.5" fill="#666"/><rect x="9.8" y="47.3" width="0.5" height="0.5" fill="#a5a5a5"/><rect x="28.8" y="53.6" width="0.5" height="0.5" fill="#666"/><rect x="22.0" y="52.3" width="0.5" height="0.5" fill="#8f8f8f"/><rect x="9.2" y="48.4" width="0.5" height="0.5" fill="#8f8f8f"/><rect x="22.0" y="50.2" width="0.5" height="0.5" fill="#666"/><rect x="32.7" y="49.6" width="0.5" height="0.5" fill="#7a7a7a"/><rect x="22.9" y="53.0" width="0.5" height="0.5" fill="#bbbbbb"/><rect x="34.1" y="42.9" width="0.5" height="0.5" fill="#7a7a7a"/><rect x="35.7" y="51.6" width="0.5" height="0.5" fill="#8f8f8f"/><rect x="23.2" y="48.2" width="0.5" height="0.5" fill="#7a7a7a"/><rect x="18.8" y="49.5" width="0.5" height="0.5" fill="#7a7a7a"/><rect x="17.3" y="55.1" width="0.5" height="0.5" fill="#8f8f8f"/><rect x="27.2" y="48.2" width="0.5" height="0.5" fill="#666"/><rect x="35.1" y="49.7" width="0.5" height="0.5" fill="#a5a5a5"/><rect x="40.5" y="43.4" width="0.5" height="0.5" fill="#a5a5a5"/><rect x="12.3" y="55.5" width="0.5" height="0.5" fill="#8f8f8f"/><rect x="14.0" y="50.1" width="0.5" height="0.5" fill="#7a7a7a"/><rect x="21.9" y="49.5" width="0.5" height="0.5" fill="#a5a5a5"/><rect x="18.0" y="49.6" width="0.5" height="0.5" fill="#666"/><rect x="29.4" y="46.9" width="0.5" height="0.5" fill="#7a7a7a"/><rect x="24.0" y="50.6" width="0.5" height="0.5" fill="#bbbbbb"/><rect x="32.6" y="44.8" width="0.5" height="0.5" fill="#a5a5a5"/><rect x="26.4" y="51.3" width="0.5" height="0.5" fill="#666"/><rect x="15.1" y="52.3" width="0.5" height="0.5" fill="#8f8f8f"/><rect x="25.2" y="50.8" width="0.5" height="0.5" fill="#7a7a7a"/><rect x="28.2" y="49.0" width="0.5" height="0.5" fill="#8f8f8f"/><rect x="39.7" y="47.9" width="0.5" height="0.5" fill="#8f8f8f"/><rect x="15.1" y="51.1" width="0.5" height="0.5" fill="#bbbbbb"/><rect x="20.5" y="54.7" width="0.5" height="0.5" fill="#bbbbbb"/><rect x="37.9" y="44.7" width="0.5" height="0.5" fill="#a5a5a5"/><rect x="35.6" y="47.6" width="0.5" height="0.5" fill="#666"/><rect x="22.3" y="48.4" width="0.5" height="0.5" fill="#8f8f8f"/><rect x="15.7" y="51.1" width="0.5" height="0.5" fill="#8f8f8f"/><rect x="11.9" y="53.7" width="0.5" height="0.5" fill="#8f8f8f"/><rect x="30.6" y="46.6" width="0.5" height="0.5" fill="#666"/><rect x="27.3" y="48.4" width="0.5" height="0.5" fill="#a5a5a5"/><rect x="22.1" y="49.5" width="0.5" height="0.5" fill="#bbbbbb"/><rect x="16.8" y="55.2" width="0.5" height="0.5" fill="#a5a5a5"/><rect x="20.4" y="53.3" width="0.5" height="0.5" fill="#a5a5a5"/><rect x="21.0" y="52.4" width="0.5" height="0.5" fill="#7a7a7a"/><rect x="29.7" y="49.3" width="0.5" height="0.5" fill="#666"/><rect x="28.2" y="56.0" width="0.5" height="0.5" fill="#666"/><rect x="29.9" y="54.1" width="0.5" height="0.5" fill="#a5a5a5"/><rect x="26.2" y="53.9" width="0.5" height="0.5" fill="#bbbbbb"/><rect x="20.2" y="50.9" width="0.5" height="0.5" fill="#bbbbbb"/><rect x="33.1" y="46.9" width="0.5" height="0.5" fill="#a5a5a5"/><rect x="16.6" y="47.2" width="0.5" height="0.5" fill="#7a7a7a"/><rect x="30.7" y="46.5" width="0.5" height="0.5" fill="#666"/><rect x="7.8" y="48.3" width="0.5" height="0.5" fill="#bbbbbb"/><rect x="37.8" y="51.7" width="0.5" height="0.5" fill="#a5a5a5"/><rect x="2.0" y="52.8" width="0.5" height="0.5" fill="#7a7a7a"/><rect x="10.1" y="51.4" width="0.5" height="0.5" fill="#7a7a7a"/><rect x="16.4" y="55.5" width="0.5" height="0.5" fill="#a5a5a5"/><rect x="25.4" y="53.6" width="0.5" height="0.5" fill="#666"/><rect x="16.4" y="44.8" width="0.5" height="0.5" fill="#a5a5a5"/><rect x="20.9" y="56.2" width="0.5" height="0.5" fill="#a5a5a5"/><rect x="27.1" y="49.5" width="0.5" height="0.5" fill="#7a7a7a"/><rect x="5.9" y="51.6" width="0.5" height="0.5" fill="#8f8f8f"/><rect x="32.0" y="53.8" width="0.5" height="0.5" fill="#8f8f8f"/><rect x="27.9" y="45.2" width="0.5" height="0.5" fill="#666"/><rect x="25.9" y="49.0" width="0.5" height="0.5" fill="#8f8f8f"/><rect x="13.6" y="52.5" width="0.5" height="0.5" fill="#8f8f8f"/><rect x="23.5" y="50.0" width="0.5" height="0.5" fill="#bbbbbb"/><rect x="19.7" y="54.0" width="0.5" height="0.5" fill="#8f8f8f"/><rect x="25.2" y="49.1" width="0.5" height="0.5" fill="#7a7a7a"/><rect x="24.4" y="52.8" width="0.5" height="0.5" fill="#a5a5a5"/><rect x="10.4" y="55.5" width="0.5" height="0.5" fill="#a5a5a5"/><rect x="36.7" y="52.0" width="0.5" height="0.5" fill="#7a7a7a"/><rect x="36.9" y="54.3" width="0.5" height="0.5" fill="#a5a5a5"/><rect x="29.4" y="46.2" width="0.5" height="0.5" fill="#8f8f8f"/><rect x="11.2" y="52.2" width="0.5" height="0.5" fill="#8f8f8f"/><rect x="25.5" y="50.4" width="0.5" height="0.5" fill="#8f8f8f"/><rect x="34.0" y="48.8" width="0.5" height="0.5" fill="#a5a5a5"/><rect x="34.2" y="44.8" width="0.5" height="0.5" fill="#666"/><rect x="35.2" y="50.7" width="0.5" height="0.5" fill="#bbbbbb"/><rect x="16.9" y="54.5" width="0.5" height="0.5" fill="#7a7a7a"/><rect x="20.2" y="48.3" width="0.5" height="0.5" fill="#7a7a7a"/><rect x="31.8" y="46.2" width="0.5" height="0.5" fill="#666"/><rect x="17.9" y="55.0" width="0.5" height="0.5" fill="#8f8f8f"/><rect x="32.7" y="46.5" width="0.5" height="0.5" fill="#666"/><rect x="29.0" y="55.5" width="0.5" height="0.5" fill="#a5a5a5"/><rect x="20.0" y="54.7" width="0.5" height="0.5" fill="#8f8f8f"/><rect x="21.6" y="53.9" width="0.5" height="0.5" fill="#a5a5a5"/><rect x="23.4" y="51.5" width="0.5" height="0.5" fill="#a5a5a5"/><rect x="32.0" y="46.3" width="0.5" height="0.5" fill="#7a7a7a"/><rect x="23.1" y="49.3" width="0.5" height="0.5" fill="#a5a5a5"/><rect x="23.4" y="54.7" width="0.5" height="0.5" fill="#8f8f8f"/><rect x="17.8" y="55.3" width="0.5" height="0.5" fill="#bbbbbb"/><rect x="35.1" y="49.6" width="0.5" height="0.5" fill="#666"/><rect x="33.7" y="45.0" width="0.5" height="0.5" fill="#bbbbbb"/><rect x="18.3" y="49.7" width="0.5" height="0.5" fill="#8f8f8f"/><rect x="25.4" y="48.3" width="0.5" height="0.5" fill="#7a7a7a"/><rect x="20.6" y="49.1" width="0.5" height="0.5" fill="#8f8f8f"/><rect x="22.8" y="47.3" width="0.5" height="0.5" fill="#7a7a7a"/><rect x="18.3" y="55.2" width="0.5" height="0.5" fill="#a5a5a5"/><rect x="18.2" y="56.2" width="0.5" height="0.5" fill="#8f8f8f"/><rect x="34.6" y="45.1" width="0.5" height="0.5" fill="#bbbbbb"/><rect x="20.2" y="53.3" width="0.5" height="0.5" fill="#7a7a7a"/><rect x="29.0" y="49.8" width="0.5" height="0.5" fill="#7a7a7a"/><rect x="41.6" y="47.7" width="0.5" height="0.5" fill="#a5a5a5"/><rect x="17.3" y="53.9" width="0.5" height="0.5" fill="#8f8f8f"/><rect x="34.1" y="47.1" width="0.5" height="0.5" fill="#7a7a7a"/><rect x="22.3" y="53.8" width="0.5" height="0.5" fill="#bbbbbb"/><rect x="4.5" y="52.3" width="0.5" height="0.5" fill="#8f8f8f"/><rect x="29.3" y="50.7" width="0.5" height="0.5" fill="#666"/><rect x="17.6" y="50.7" width="0.5" height="0.5" fill="#8f8f8f"/><rect x="32.1" y="49.0" width="0.5" height="0.5" fill="#a5a5a5"/><rect x="19.3" y="44.7" width="0.5" height="0.5" fill="#a5a5a5"/><rect x="22.2" y="53.0" width="0.5" height="0.5" fill="#8f8f8f"/><rect x="10.0" y="52.0" width="0.5" height="0.5" fill="#8f8f8f"/><rect x="24.4" y="51.4" width="0.5" height="0.5" fill="#666"/><rect x="19.7" y="52.9" width="0.5" height="0.5" fill="#bbbbbb"/><rect x="22.8" y="54.7" width="0.5" height="0.5" fill="#666"/><rect x="29.6" y="54.6" width="0.5" height="0.5" fill="#7a7a7a"/><rect x="21.2" y="50.6" width="0.5" height="0.5" fill="#bbbbbb"/><rect x="21.9" y="52.7" width="0.5" height="0.5" fill="#7a7a7a"/><rect x="23.4" y="55.5" width="0.5" height="0.5" fill="#666"/><rect x="10.7" y="47.9" width="0.5" height="0.5" fill="#7a7a7a"/><rect x="17.7" y="57.8" width="0.5" height="0.5" fill="#666"/><rect x="18.5" y="49.3" width="0.5" height="0.5" fill="#8f8f8f"/><rect x="33.0" y="54.7" width="0.5" height="0.5" fill="#666"/><rect x="34.7" y="51.0" width="0.5" height="0.5" fill="#a5a5a5"/><rect x="32.7" y="48.9" width="0.5" height="0.5" fill="#a5a5a5"/><rect x="25.4" y="50.0" width="0.5" height="0.5" fill="#8f8f8f"/><rect x="35.5" y="50.1" width="0.5" height="0.5" fill="#8f8f8f"/><rect x="25.2" y="51.1" width="0.5" height="0.5" fill="#7a7a7a"/><rect x="34.1" y="53.1" width="0.5" height="0.5" fill="#666"/><rect x="19.5" y="54.1" width="0.5" height="0.5" fill="#8f8f8f"/><rect x="12.8" y="52.0" width="0.5" height="0.5" fill="#bbbbbb"/><rect x="39.3" y="55.2" width="0.5" height="0.5" fill="#bbbbbb"/><rect x="18.1" y="56.5" width="0.5" height="0.5" fill="#8f8f8f"/><rect x="27.3" y="46.9" width="0.5" height="0.5" fill="#666"/><rect x="24.8" y="48.0" width="0.5" height="0.5" fill="#bbbbbb"/><rect x="33.4" y="48.5" width="0.5" height="0.5" fill="#8f8f8f"/><rect x="17.9" y="55.0" width="0.5" height="0.5" fill="#8f8f8f"/><rect x="25.0" y="51.0" width="0.5" height="0.5" fill="#a5a5a5"/><rect x="37.4" y="51.6" width="0.5" height="0.5" fill="#8f8f8f"/><rect x="31.9" y="52.9" width="0.5" height="0.5" fill="#a5a5a5"/><rect x="24.0" y="49.5" width="0.5" height="0.5" fill="#666"/><rect x="20.8" y="50.3" width="0.5" height="0.5" fill="#bbbbbb"/><rect x="13.2" y="52.9" width="0.5" height="0.5" fill="#7a7a7a"/><rect x="24.3" y="55.1" width="0.5" height="0.5" fill="#7a7a7a"/><rect x="37.7" y="44.5" width="0.5" height="0.5" fill="#7a7a7a"/><rect x="16.2" y="51.8" width="0.5" height="0.5" fill="#7a7a7a"/><rect x="8.7" y="56.1" width="0.5" height="0.5" fill="#7a7a7a"/><rect x="18.6" y="49.7" width="0.5" height="0.5" fill="#a5a5a5"/><rect x="16.9" y="52.9" width="0.5" height="0.5" fill="#666"/><rect x="35.6" y="51.8" width="0.5" height="0.5" fill="#666"/><rect x="29.5" y="43.2" width="0.5" height="0.5" fill="#8f8f8f"/><rect x="34.7" y="50.3" width="0.5" height="0.5" fill="#a5a5a5"/><rect x="30.8" y="47.8" width="0.5" height="0.5" fill="#7a7a7a"/><rect x="25.9" y="50.6" width="0.5" height="0.5" fill="#a5a5a5"/><rect x="25.1" y="53.6" width="0.5" height="0.5" fill="#8f8f8f"/><rect x="24.0" y="46.3" width="0.5" height="0.5" fill="#8f8f8f"/><rect x="31.0" y="46.9" width="0.5" height="0.5" fill="#bbbbbb"/><rect x="26.0" y="47.0" width="0.5" height="0.5" fill="#8f8f8f"/><rect x="28.5" y="49.5" width="0.5" height="0.5" fill="#8f8f8f"/><rect x="23.1" y="53.8" width="0.5" height="0.5" fill="#a5a5a5"/><rect x="28.3" y="48.3" width="0.5" height="0.5" fill="#8f8f8f"/><rect x="18.7" y="48.0" width="0.5" height="0.5" fill="#a5a5a5"/><rect x="25.0" y="51.7" width="0.5" height="0.5" fill="#7a7a7a"/><rect x="31.7" y="45.2" width="0.5" height="0.5" fill="#666"/><rect x="26.2" y="44.2" width="0.5" height="0.5" fill="#7a7a7a"/><rect x="19.9" y="52.3" width="0.5" height="0.5" fill="#8f8f8f"/><rect x="17.0" y="46.9" width="0.5" height="0.5" fill="#7a7a7a"/><rect x="25.3" y="50.5" width="0.5" height="0.5" fill="#8f8f8f"/><rect x="33.1" y="53.3" width="0.5" height="0.5" fill="#666"/><rect x="23.6" y="47.4" width="0.5" height="0.5" fill="#a5a5a5"/><rect x="31.0" y="51.0" width="0.5" height="0.5" fill="#a5a5a5"/><rect x="40.7" y="41.6" width="0.5" height="0.5" fill="#666"/><rect x="19.0" y="50.7" width="0.5" height="0.5" fill="#666"/><rect x="34.2" y="49.7" width="0.5" height="0.5" fill="#7a7a7a"/><rect x="11.9" y="51.0" width="0.5" height="0.5" fill="#666"/><rect x="41.9" y="49.4" width="0.5" height="0.5" fill="#666"/><rect x="27.1" y="49.1" width="0.5" height="0.5" fill="#a5a5a5"/><rect x="34.3" y="48.1" width="0.5" height="0.5" fill="#666"/><rect x="30.6" y="53.9" width="0.5" height="0.5" fill="#7a7a7a"/><rect x="16.4" y="49.4" width="0.5" height="0.5" fill="#666"/><rect x="7.8" y="52.9" width="0.5" height="0.5" fill="#666"/><rect x="21.0" y="53.2" width="0.5" height="0.5" fill="#7a7a7a"/><rect x="22.9" y="48.6" width="0.5" height="0.5" fill="#7a7a7a"/><rect x="31.0" y="49.7" width="0.5" height="0.5" fill="#666"/><rect x="25.2" y="51.5" width="0.5" height="0.5" fill="#bbbbbb"/><rect x="30.5" y="48.8" width="0.5" height="0.5" fill="#8f8f8f"/><rect x="18.6" y="47.6" width="0.5" height="0.5" fill="#bbbbbb"/><rect x="23.1" y="53.8" width="0.5" height="0.5" fill="#a5a5a5"/><rect x="41.4" y="46.7" width="0.5" height="0.5" fill="#8f8f8f"/><rect x="18.4" y="53.6" width="0.5" height="0.5" fill="#a5a5a5"/><rect x="20.7" y="52.7" width="0.5" height="0.5" fill="#a5a5a5"/><rect x="34.8" y="44.9" width="0.5" height="0.5" fill="#666"/><rect x="25.5" y="54.3" width="0.5" height="0.5" fill="#8f8f8f"/><rect x="18.4" y="47.1" width="0.5" height="0.5" fill="#7a7a7a"/><rect x="29.2" y="45.7" width="0.5" height="0.5" fill="#666"/><rect x="31.6" y="44.8" width="0.5" height="0.5" fill="#666"/><rect x="15.4" y="54.8" width="0.5" height="0.5" fill="#a5a5a5"/><rect x="16.9" y="51.4" width="0.5" height="0.5" fill="#bbbbbb"/><rect x="38.4" y="48.1" width="0.5" height="0.5" fill="#a5a5a5"/><rect x="12.6" y="52.8" width="0.5" height="0.5" fill="#a5a5a5"/><rect x="26.2" y="54.9" width="0.5" height="0.5" fill="#a5a5a5"/><rect x="22.4" y="52.1" width="0.5" height="0.5" fill="#bbbbbb"/><rect x="23.7" y="55.5" width="0.5" height="0.5" fill="#8f8f8f"/><rect x="38.4" y="50.5" width="0.5" height="0.5" fill="#7a7a7a"/><rect x="36.7" y="45.9" width="0.5" height="0.5" fill="#8f8f8f"/><rect x="31.9" y="47.4" width="0.5" height="0.5" fill="#8f8f8f"/><rect x="14.4" y="52.2" width="0.5" height="0.5" fill="#7a7a7a"/><rect x="27.3" y="50.2" width="0.5" height="0.5" fill="#bbbbbb"/><rect x="20.6" y="53.1" width="0.5" height="0.5" fill="#7a7a7a"/><rect x="26.2" y="48.3" width="0.5" height="0.5" fill="#7a7a7a"/><rect x="32.1" y="53.1" width="0.5" height="0.5" fill="#7a7a7a"/><rect x="13.1" y="48.4" width="0.5" height="0.5" fill="#666"/><rect x="21.1" y="54.1" width="0.5" height="0.5" fill="#a5a5a5"/><rect x="27.9" y="51.4" width="0.5" height="0.5" fill="#8f8f8f"/><rect x="18.7" y="54.0" width="0.5" height="0.5" fill="#bbbbbb"/><rect x="14.7" y="52.2" width="0.5" height="0.5" fill="#666"/><rect x="23.5" y="53.5" width="0.5" height="0.5" fill="#a5a5a5"/><rect x="20.4" y="48.3" width="0.5" height="0.5" fill="#a5a5a5"/><rect x="23.1" y="49.1" width="0.5" height="0.5" fill="#bbbbbb"/><rect x="32.5" y="53.1" width="0.5" height="0.5" fill="#8f8f8f"/><rect x="11.6" y="53.6" width="0.5" height="0.5" fill="#bbbbbb"/><rect x="19.1" y="53.9" width="0.5" height="0.5" fill="#a5a5a5"/><rect x="24.7" y="54.7" width="0.5" height="0.5" fill="#666"/><rect x="21.4" y="50.9" width="0.5" height="0.5" fill="#7a7a7a"/><rect x="21.1" y="55.1" width="0.5" height="0.5" fill="#8f8f8f"/><rect x="24.4" y="53.3" width="0.5" height="0.5" fill="#a5a5a5"/><rect x="34.9" y="51.2" width="0.5" height="0.5" fill="#666"/><rect x="27.4" y="53.3" width="0.5" height="0.5" fill="#8f8f8f"/><rect x="17.6" y="50.0" width="0.5" height="0.5" fill="#666"/><rect x="21.9" y="48.2" width="0.5" height="0.5" fill="#666"/><rect x="22.0" y="48.7" width="0.5" height="0.5" fill="#a5a5a5"/><rect x="13.8" y="54.6" width="0.5" height="0.5" fill="#8f8f8f"/><rect x="19.5" y="54.2" width="0.5" height="0.5" fill="#bbbbbb"/><rect x="32.9" y="52.3" width="0.5" height="0.5" fill="#bbbbbb"/><rect x="15.9" y="55.8" width="0.5" height="0.5" fill="#8f8f8f"/><rect x="26.2" y="49.4" width="0.5" height="0.5" fill="#a5a5a5"/><rect x="17.0" y="54.9" width="0.5" height="0.5" fill="#a5a5a5"/><rect x="35.1" y="46.9" width="0.5" height="0.5" fill="#666"/><rect x="33.2" y="51.6" width="0.5" height="0.5" fill="#a5a5a5"/><rect x="20.7" y="48.2" width="0.5" height="0.5" fill="#a5a5a5"/><rect x="25.7" y="51.5" width="0.5" height="0.5" fill="#a5a5a5"/><rect x="13.9" y="53.0" width="0.5" height="0.5" fill="#666"/><rect x="16.5" y="47.7" width="0.5" height="0.5" fill="#a5a5a5"/><rect x="4.9" y="52.7" width="0.5" height="0.5" fill="#8f8f8f"/><rect x="9.9" y="51.8" width="0.5" height="0.5" fill="#a5a5a5"/><rect x="28.9" y="51.4" width="0.5" height="0.5" fill="#666"/><rect x="22.7" y="50.8" width="0.5" height="0.5" fill="#a5a5a5"/><rect x="36.9" y="51.1" width="0.5" height="0.5" fill="#bbbbbb"/><rect x="9.1" y="55.4" width="0.5" height="0.5" fill="#7a7a7a"/><rect x="21.1" y="47.9" width="0.5" height="0.5" fill="#666"/><rect x="10.3" y="51.9" width="0.5" height="0.5" fill="#bbbbbb"/><rect x="30.2" y="52.1" width="0.5" height="0.5" fill="#666"/><rect x="27.2" y="48.9" width="0.5" height="0.5" fill="#8f8f8f"/><rect x="34.6" y="57.1" width="0.5" height="0.5" fill="#7a7a7a"/><rect x="31.0" y="49.3" width="0.5" height="0.5" fill="#8f8f8f"/><rect x="31.7" y="51.0" width="0.5" height="0.5" fill="#8f8f8f"/><rect x="14.2" y="51.4" width="0.5" height="0.5" fill="#a5a5a5"/><rect x="20.6" y="49.0" width="0.5" height="0.5" fill="#7a7a7a"/><rect x="33.7" y="44.7" width="0.5" height="0.5" fill="#bbbbbb"/><rect x="24.3" y="52.9" width="0.5" height="0.5" fill="#666"/><rect x="28.3" y="54.4" width="0.5" height="0.5" fill="#a5a5a5"/><rect x="15.9" y="48.3" width="0.5" height="0.5" fill="#7a7a7a"/><rect x="14.7" y="56.9" width="0.5" height="0.5" fill="#7a7a7a"/><rect x="11.4" y="54.6" width="0.5" height="0.5" fill="#666"/><rect x="23.9" y="50.4" width="0.5" height="0.5" fill="#666"/><rect x="15.2" y="54.8" width="0.5" height="0.5" fill="#8f8f8f"/><rect x="30.1" y="50.1" width="0.5" height="0.5" fill="#a5a5a5"/><rect x="21.6" y="56.1" width="0.5" height="0.5" fill="#bbbbbb"/><rect x="17.0" y="50.1" width="0.5" height="0.5" fill="#a5a5a5"/><rect x="26.2" y="52.5" width="0.5" height="0.5" fill="#7a7a7a"/><rect x="13.3" y="54.8" width="0.5" height="0.5" fill="#666"/><rect x="36.6" y="53.3" width="0.5" height="0.5" fill="#bbbbbb"/><rect x="22.7" y="51.1" width="0.5" height="0.5" fill="#bbbbbb"/><rect x="23.4" y="49.1" width="0.5" height="0.5" fill="#7a7a7a"/><rect x="17.4" y="47.9" width="0.5" height="0.5" fill="#8f8f8f"/><rect x="26.9" y="46.6" width="0.5" height="0.5" fill="#7a7a7a"/><rect x="36.9" y="53.9" width="0.5" height="0.5" fill="#7a7a7a"/><rect x="14.5" y="52.3" width="0.5" height="0.5" fill="#7a7a7a"/><rect x="27.2" y="42.6" width="0.5" height="0.5" fill="#a5a5a5"/><rect x="27.9" y="56.0" width="0.5" height="0.5" fill="#a5a5a5"/><rect x="21.9" y="49.6" width="0.5" height="0.5" fill="#666"/><rect x="28.1" y="49.3" width="0.5" height="0.5" fill="#7a7a7a"/><rect x="27.4" y="47.9" width="0.5" height="0.5" fill="#7a7a7a"/><rect x="34.2" y="44.9" width="0.5" height="0.5" fill="#bbbbbb"/><rect x="22.2" y="48.5" width="0.5" height="0.5" fill="#8f8f8f"/><rect x="17.7" y="57.5" width="0.5" height="0.5" fill="#7a7a7a"/><rect x="35.8" y="47.0" width="0.5" height="0.5" fill="#7a7a7a"/><rect x="22.5" y="51.6" width="0.5" height="0.5" fill="#a5a5a5"/><rect x="28.5" y="52.1" width="0.5" height="0.5" fill="#bbbbbb"/><rect x="21.8" y="49.3" width="0.5" height="0.5" fill="#7a7a7a"/><rect x="22.3" y="47.9" width="0.5" height="0.5" fill="#a5a5a5"/><rect x="37.0" y="52.2" width="0.5" height="0.5" fill="#666"/><rect x="20.6" y="49.7" width="0.5" height="0.5" fill="#bbbbbb"/><rect x="17.0" y="51.8" width="0.5" height="0.5" fill="#8f8f8f"/><rect x="39.1" y="48.5" width="0.5" height="0.5" fill="#666"/><rect x="26.7" y="52.8" width="0.5" height="0.5" fill="#8f8f8f"/><rect x="15.0" y="50.3" width="0.5" height="0.5" fill="#666"/><rect x="27.7" y="53.5" width="0.5" height="0.5" fill="#7a7a7a"/><rect x="17.5" y="50.8" width="0.5" height="0.5" fill="#bbbbbb"/><rect x="5.0" y="49.7" width="0.5" height="0.5" fill="#8f8f8f"/><rect x="26.2" y="52.1" width="0.5" height="0.5" fill="#8f8f8f"/><rect x="31.7" y="50.2" width="0.5" height="0.5" fill="#a5a5a5"/><rect x="16.6" y="52.6" width="0.5" height="0.5" fill="#8f8f8f"/><rect x="31.6" y="54.4" width="0.5" height="0.5" fill="#8f8f8f"/><rect x="28.2" y="45.3" width="0.5" height="0.5" fill="#a5a5a5"/><rect x="33.5" y="51.3" width="0.5" height="0.5" fill="#7a7a7a"/><rect x="15.9" y="50.4" width="0.5" height="0.5" fill="#666"/><rect x="35.3" y="49.7" width="0.5" height="0.5" fill="#a5a5a5"/><rect x="21.1" y="50.1" width="0.5" height="0.5" fill="#bbbbbb"/><rect x="25.7" y="49.4" width="0.5" height="0.5" fill="#7a7a7a"/><rect x="16.8" y="55.8" width="0.5" height="0.5" fill="#666"/><rect x="17.0" y="57.5" width="0.5" height="0.5" fill="#a5a5a5"/><rect x="22.4" y="53.5" width="0.5" height="0.5" fill="#666"/><rect x="27.0" y="49.2" width="0.5" height="0.5" fill="#a5a5a5"/><rect x="23.5" y="54.9" width="0.5" height="0.5" fill="#8f8f8f"/><rect x="19.2" y="52.2" width="0.5" height="0.5" fill="#bbbbbb"/><rect x="30.6" y="50.2" width="0.5" height="0.5" fill="#7a7a7a"/><rect x="22.6" y="55.1" width="0.5" height="0.5" fill="#7a7a7a"/><rect x="35.2" y="45.9" width="0.5" height="0.5" fill="#bbbbbb"/><rect x="6.1" y="54.3" width="0.5" height="0.5" fill="#666"/><rect x="26.5" y="51.0" width="0.5" height="0.5" fill="#bbbbbb"/><rect x="28.5" y="55.0" width="0.5" height="0.5" fill="#666"/><rect x="23.8" y="49.1" width="0.5" height="0.5" fill="#8f8f8f"/><rect x="33.2" y="49.0" width="0.5" height="0.5" fill="#bbbbbb"/><rect x="17.0" y="51.9" width="0.5" height="0.5" fill="#666"/><rect x="34.3" y="50.9" width="0.5" height="0.5" fill="#7a7a7a"/><rect x="25.8" y="56.0" width="0.5" height="0.5" fill="#bbbbbb"/><rect x="23.2" y="49.9" width="0.5" height="0.5" fill="#7a7a7a"/><rect x="31.4" y="50.7" width="0.5" height="0.5" fill="#666"/><rect x="35.9" y="49.7" width="0.5" height="0.5" fill="#7a7a7a"/><rect x="26.7" y="47.6" width="0.5" height="0.5" fill="#a5a5a5"/><rect x="19.4" y="50.6" width="0.5" height="0.5" fill="#8f8f8f"/><rect x="32.2" y="48.1" width="0.5" height="0.5" fill="#a5a5a5"/><rect x="39.2" y="49.0" width="0.5" height="0.5" fill="#7a7a7a"/><rect x="21.9" y="46.5" width="0.5" height="0.5" fill="#7a7a7a"/><rect x="27.5" y="45.0" width="0.5" height="0.5" fill="#7a7a7a"/><rect x="26.5" y="52.5" width="0.5" height="0.5" fill="#8f8f8f"/><rect x="23.1" y="49.9" width="0.5" height="0.5" fill="#666"/><rect x="26.0" y="47.0" width="0.5" height="0.5" fill="#a5a5a5"/><rect x="16.5" y="51.9" width="0.5" height="0.5" fill="#666"/><rect x="23.4" y="46.5" width="0.5" height="0.5" fill="#7a7a7a"/><rect x="25.8" y="49.7" width="0.5" height="0.5" fill="#8f8f8f"/><rect x="24.8" y="49.3" width="0.5" height="0.5" fill="#8f8f8f"/><rect x="10.2" y="50.7" width="0.5" height="0.5" fill="#a5a5a5"/><rect x="16.6" y="47.6" width="0.5" height="0.5" fill="#7a7a7a"/><rect x="24.3" y="55.6" width="0.5" height="0.5" fill="#8f8f8f"/><rect x="35.3" y="45.7" width="0.5" height="0.5" fill="#bbbbbb"/><rect x="29.0" y="52.6" width="0.5" height="0.5" fill="#bbbbbb"/><rect x="19.0" y="59.5" width="0.5" height="0.5" fill="#bbbbbb"/><rect x="16.6" y="48.6" width="0.5" height="0.5" fill="#666"/><rect x="38.8" y="46.9" width="0.5" height="0.5" fill="#8f8f8f"/><rect x="23.1" y="44.9" width="0.5" height="0.5" fill="#7a7a7a"/><rect x="27.8" y="53.4" width="0.5" height="0.5" fill="#7a7a7a"/><rect x="31.7" y="46.5" width="0.5" height="0.5" fill="#666"/><rect x="13.1" y="56.4" width="0.5" height="0.5" fill="#8f8f8f"/><ellipse cx="24.8" cy="54.2" rx="14.5" ry="3.9" fill="#5a5a5a" filter="url(#bl05)" transform="rotate(-11 24.8 54.2)"/><path d="M13.6,53.4 Q24.8,49.3 36.5,49.7" fill="none" stroke="#151515" stroke-width="1.9" opacity="0.85"/><ellipse cx="11.0" cy="54.8" rx="4.6" ry="3.6" fill="#151515" filter="url(#bl08)"/><ellipse cx="25.0" cy="54.6" rx="10.4" ry="2.0" fill="#8a8a8a" transform="rotate(-11 25.0 54.6)"/><ellipse cx="25.0" cy="54.6" rx="9.6" ry="1.6" fill="#efefef" stroke="#a0a0a0" stroke-width="0.4" transform="rotate(-11 25.0 54.6)"/><line x1="19.7" y1="55.0" x2="30.8" y2="54.2" stroke="#cfcfcf" stroke-width="0.5" transform="rotate(-11 25.0 54.6)"/><ellipse cx="37.6" cy="50.8" rx="1.9" ry="1.0" fill="#111" transform="rotate(-15 37.6 50.8)"/><ellipse cx="23.3" cy="46.8" rx="2.5" ry="0.85" fill="#222" filter="url(#bl03)" transform="rotate(-22 23.3 46.8)"/></g>
<polygon points="400.30,35.0 438.30,35.0 438.30,43.8 400.30,53.9" fill="none" stroke="#333" stroke-width="0.55"/>
<text x="413.80" y="33.10" font-size="7.2" textLength="10.40" lengthAdjust="spacingAndGlyphs" >2.9</text>
<text x="294.40" y="81.80" font-size="8.8" textLength="12.90" lengthAdjust="spacingAndGlyphs" >FSC</text>
<line x1="310.70" y1="79.40" x2="423.00" y2="79.40" stroke="#444" stroke-width="1.3" />
<polygon points="428.0,79.4 421.8,77.4 423.0,79.4 421.8,81.4" fill="#111"/>
<line x1="476.60" y1="21.80" x2="476.60" y2="77.20" stroke="#222" stroke-width="0.8" />
<line x1="475.20" y1="77.20" x2="509.50" y2="77.20" stroke="#222" stroke-width="0.8" />
<line x1="475.20" y1="22.40" x2="476.60" y2="22.40" stroke="#222" stroke-width="0.8" />
<text x="473.60" y="24.78" font-size="6.6" text-anchor="end" fill="#333" >6</text>
<line x1="475.20" y1="40.70" x2="476.60" y2="40.70" stroke="#222" stroke-width="0.8" />
<text x="473.60" y="43.08" font-size="6.6" text-anchor="end" fill="#333" >4</text>
<line x1="475.20" y1="59.00" x2="476.60" y2="59.00" stroke="#222" stroke-width="0.8" />
<text x="473.60" y="61.38" font-size="6.6" text-anchor="end" fill="#333" >2</text>
<line x1="475.20" y1="77.20" x2="476.60" y2="77.20" stroke="#222" stroke-width="0.8" />
<text x="473.60" y="79.58" font-size="6.6" text-anchor="end" fill="#333" >0</text>
<rect x="478.60" y="52.20" width="8.10" height="25.00" fill="#c8102e" />
<line x1="482.65" y1="49.00" x2="482.65" y2="52.20" stroke="#333" stroke-width="0.6" />
<line x1="480.85" y1="49.00" x2="484.45" y2="49.00" stroke="#333" stroke-width="0.6" />
<line x1="482.65" y1="77.20" x2="482.65" y2="78.80" stroke="#222" stroke-width="0.6" />
<rect x="489.00" y="36.10" width="8.00" height="41.10" fill="#0d4f8b" />
<line x1="493.00" y1="31.70" x2="493.00" y2="36.10" stroke="#333" stroke-width="0.6" />
<line x1="491.20" y1="31.70" x2="494.80" y2="31.70" stroke="#333" stroke-width="0.6" />
<line x1="493.00" y1="77.20" x2="493.00" y2="78.80" stroke="#222" stroke-width="0.6" />
<rect x="499.80" y="51.00" width="8.50" height="26.20" fill="#3ab54a" />
<line x1="504.05" y1="42.80" x2="504.05" y2="51.00" stroke="#333" stroke-width="0.6" />
<line x1="502.25" y1="42.80" x2="505.85" y2="42.80" stroke="#333" stroke-width="0.6" />
<line x1="504.05" y1="77.20" x2="504.05" y2="78.80" stroke="#222" stroke-width="0.6" />
<line x1="482.00" y1="23.30" x2="492.40" y2="23.30" stroke="#222" stroke-width="0.8" />
<line x1="494.00" y1="23.30" x2="502.50" y2="23.30" stroke="#222" stroke-width="0.8" />
<text x="487.20" y="21.50" font-size="6.4" text-anchor="middle" font-weight="bold" >*</text>
<text x="498.30" y="21.50" font-size="6.4" text-anchor="middle" font-weight="bold" >*</text>
<text x="460.50" y="72.90" font-size="7.6" textLength="41.00" lengthAdjust="spacingAndGlyphs" transform="rotate(-90 460.50 72.90)" >Positive cells for</text>
<text x="466.80" y="76.20" font-size="7.6" textLength="51.30" lengthAdjust="spacingAndGlyphs" transform="rotate(-90 466.80 76.20)" >active Caspase-3 (%)</text>
<text x="27.20" y="107.60" font-size="7.9" textLength="24.50" lengthAdjust="spacingAndGlyphs" >Eμ-Myc</text>
<text x="52.04" y="105.50" font-size="6.4" textLength="8.96" lengthAdjust="spacingAndGlyphs" >T/+</text>
<text x="79.70" y="102.30" font-size="7.9" textLength="26.32" lengthAdjust="spacingAndGlyphs" >Eμ-Myc</text>
<text x="106.38" y="100.20" font-size="6.4" textLength="9.62" lengthAdjust="spacingAndGlyphs" >T/+</text>
<text x="82.70" y="111.50" font-size="7.9" textLength="21.53" lengthAdjust="spacingAndGlyphs" >Parp-2</text>
<text x="104.83" y="109.10" font-size="6.4" textLength="7.77" lengthAdjust="spacingAndGlyphs" >−/−</text>
<text x="132.10" y="102.30" font-size="7.9" textLength="25.09" lengthAdjust="spacingAndGlyphs" >Eμ-Myc</text>
<text x="157.53" y="100.20" font-size="6.4" textLength="9.17" lengthAdjust="spacingAndGlyphs" >T/+</text>
<text x="135.60" y="111.50" font-size="7.9" textLength="20.74" lengthAdjust="spacingAndGlyphs" >Parp-1</text>
<text x="156.91" y="109.10" font-size="6.4" textLength="7.49" lengthAdjust="spacingAndGlyphs" >−/−</text>
<rect x="22.80" y="116.6" width="48.3" height="46.0" fill="none" stroke="#b8b8b8" stroke-width="0.6"/>
<line x1="22.80" y1="125.80" x2="23.80" y2="125.80" stroke="#c8c8c8" stroke-width="0.4" />
<line x1="32.40" y1="162.60" x2="32.40" y2="161.60" stroke="#c8c8c8" stroke-width="0.4" />
<line x1="22.80" y1="135.00" x2="23.80" y2="135.00" stroke="#c8c8c8" stroke-width="0.4" />
<line x1="42.00" y1="162.60" x2="42.00" y2="161.60" stroke="#c8c8c8" stroke-width="0.4" />
<line x1="22.80" y1="144.20" x2="23.80" y2="144.20" stroke="#c8c8c8" stroke-width="0.4" />
<line x1="51.60" y1="162.60" x2="51.60" y2="161.60" stroke="#c8c8c8" stroke-width="0.4" />
<line x1="22.80" y1="153.40" x2="23.80" y2="153.40" stroke="#c8c8c8" stroke-width="0.4" />
<line x1="61.20" y1="162.60" x2="61.20" y2="161.60" stroke="#c8c8c8" stroke-width="0.4" />
<rect x="47.2" y="149.6" width="0.5" height="0.5" fill="#bdbdbd"/><rect x="47.4" y="146.8" width="0.5" height="0.5" fill="#bdbdbd"/><rect x="48.0" y="146.2" width="0.5" height="0.5" fill="#bdbdbd"/><rect x="48.1" y="145.7" width="0.5" height="0.5" fill="#bdbdbd"/><rect x="49.7" y="145.3" width="0.5" height="0.5" fill="#bdbdbd"/><rect x="45.1" y="145.9" width="0.5" height="0.5" fill="#bdbdbd"/><rect x="42.2" y="146.2" width="0.5" height="0.5" fill="#bdbdbd"/><rect x="41.5" y="148.1" width="0.5" height="0.5" fill="#bdbdbd"/><rect x="54.7" y="148.1" width="0.5" height="0.5" fill="#bdbdbd"/><rect x="49.5" y="145.7" width="0.5" height="0.5" fill="#bdbdbd"/><rect x="43.1" y="147.7" width="0.5" height="0.5" fill="#bdbdbd"/><rect x="41.7" y="145.3" width="0.5" height="0.5" fill="#bdbdbd"/><rect x="43.6" y="145.0" width="0.5" height="0.5" fill="#bdbdbd"/><rect x="47.4" y="145.5" width="0.5" height="0.5" fill="#bdbdbd"/><rect x="47.1" y="146.5" width="0.5" height="0.5" fill="#bdbdbd"/><rect x="49.9" y="147.2" width="0.5" height="0.5" fill="#bdbdbd"/><rect x="47.9" y="146.3" width="0.5" height="0.5" fill="#bdbdbd"/><rect x="44.8" y="147.1" width="0.5" height="0.5" fill="#bdbdbd"/><rect x="54.9" y="149.2" width="0.5" height="0.5" fill="#bdbdbd"/><rect x="50.8" y="145.1" width="0.5" height="0.5" fill="#bdbdbd"/><rect x="45.3" y="145.2" width="0.5" height="0.5" fill="#bdbdbd"/><rect x="41.9" y="146.8" width="0.5" height="0.5" fill="#bdbdbd"/><rect x="51.6" y="148.5" width="0.5" height="0.5" fill="#bdbdbd"/><rect x="46.3" y="147.5" width="0.5" height="0.5" fill="#bdbdbd"/><rect x="54.3" y="145.0" width="0.5" height="0.5" fill="#bdbdbd"/><rect x="43.8" y="145.1" width="0.5" height="0.5" fill="#bdbdbd"/><rect x="53.6" y="151.1" width="0.5" height="0.5" fill="#bdbdbd"/><rect x="46.5" y="146.2" width="0.5" height="0.5" fill="#bdbdbd"/><rect x="41.9" y="147.6" width="0.5" height="0.5" fill="#bdbdbd"/><rect x="44.7" y="147.8" width="0.5" height="0.5" fill="#bdbdbd"/><rect x="42.1" y="147.8" width="0.5" height="0.5" fill="#bdbdbd"/><rect x="51.5" y="149.9" width="0.5" height="0.5" fill="#bdbdbd"/><rect x="42.6" y="145.0" width="0.5" height="0.5" fill="#bdbdbd"/><rect x="41.7" y="146.0" width="0.5" height="0.5" fill="#bdbdbd"/><rect x="52.1" y="146.2" width="0.5" height="0.5" fill="#bdbdbd"/><rect x="47.2" y="147.5" width="0.5" height="0.5" fill="#bdbdbd"/><rect x="43.6" y="145.1" width="0.5" height="0.5" fill="#bdbdbd"/><rect x="49.9" y="146.2" width="0.5" height="0.5" fill="#bdbdbd"/><rect x="42.5" y="146.3" width="0.5" height="0.5" fill="#bdbdbd"/><rect x="44.7" y="145.7" width="0.5" height="0.5" fill="#bdbdbd"/><rect x="54.5" y="145.6" width="0.5" height="0.5" fill="#bdbdbd"/><rect x="53.3" y="146.8" width="0.5" height="0.5" fill="#bdbdbd"/><rect x="43.8" y="148.4" width="0.5" height="0.5" fill="#bdbdbd"/><rect x="49.9" y="147.7" width="0.5" height="0.5" fill="#bdbdbd"/><rect x="42.3" y="146.5" width="0.5" height="0.5" fill="#bdbdbd"/><rect x="44.5" y="145.1" width="0.5" height="0.5" fill="#bdbdbd"/><rect x="51.7" y="145.9" width="0.5" height="0.5" fill="#bdbdbd"/><rect x="41.9" y="146.6" width="0.5" height="0.5" fill="#bdbdbd"/><rect x="42.2" y="146.4" width="0.5" height="0.5" fill="#bdbdbd"/><rect x="49.3" y="145.8" width="0.5" height="0.5" fill="#bdbdbd"/><rect x="46.1" y="150.3" width="0.5" height="0.5" fill="#bdbdbd"/><rect x="47.7" y="146.6" width="0.5" height="0.5" fill="#bdbdbd"/><rect x="48.9" y="145.9" width="0.5" height="0.5" fill="#bdbdbd"/><rect x="43.1" y="146.0" width="0.5" height="0.5" fill="#bdbdbd"/><rect x="53.6" y="145.7" width="0.5" height="0.5" fill="#bdbdbd"/><rect x="43.6" y="146.5" width="0.5" height="0.5" fill="#bdbdbd"/><rect x="51.3" y="146.4" width="0.5" height="0.5" fill="#bdbdbd"/><rect x="54.2" y="145.5" width="0.5" height="0.5" fill="#bdbdbd"/><rect x="53.3" y="146.8" width="0.5" height="0.5" fill="#bdbdbd"/><rect x="42.4" y="146.4" width="0.5" height="0.5" fill="#bdbdbd"/><rect x="41.4" y="146.6" width="0.5" height="0.5" fill="#bdbdbd"/><rect x="50.8" y="145.4" width="0.5" height="0.5" fill="#bdbdbd"/><rect x="44.5" y="146.3" width="0.5" height="0.5" fill="#bdbdbd"/><rect x="45.0" y="147.7" width="0.5" height="0.5" fill="#bdbdbd"/><rect x="43.4" y="145.2" width="0.5" height="0.5" fill="#bdbdbd"/><rect x="44.1" y="145.8" width="0.5" height="0.5" fill="#bdbdbd"/><rect x="48.7" y="146.8" width="0.5" height="0.5" fill="#bdbdbd"/><rect x="44.8" y="147.4" width="0.5" height="0.5" fill="#bdbdbd"/><rect x="53.7" y="145.1" width="0.5" height="0.5" fill="#bdbdbd"/><rect x="44.7" y="145.4" width="0.5" height="0.5" fill="#bdbdbd"/><rect x="40.2" y="148.0" width="0.5" height="0.5" fill="#b0b0b0"/><rect x="40.6" y="150.2" width="0.5" height="0.5" fill="#b0b0b0"/><rect x="40.0" y="150.2" width="0.5" height="0.5" fill="#b0b0b0"/><rect x="40.3" y="156.2" width="0.5" height="0.5" fill="#b0b0b0"/><rect x="42.0" y="153.9" width="0.5" height="0.5" fill="#b0b0b0"/><rect x="40.3" y="152.7" width="0.5" height="0.5" fill="#b0b0b0"/><rect x="40.7" y="146.2" width="0.5" height="0.5" fill="#b0b0b0"/><rect x="40.7" y="156.5" width="0.5" height="0.5" fill="#b0b0b0"/><rect x="39.7" y="146.2" width="0.5" height="0.5" fill="#b0b0b0"/><rect x="38.1" y="153.3" width="0.5" height="0.5" fill="#b0b0b0"/><rect x="38.9" y="149.7" width="0.5" height="0.5" fill="#b0b0b0"/><rect x="40.7" y="157.5" width="0.5" height="0.5" fill="#b0b0b0"/><rect x="41.6" y="154.5" width="0.5" height="0.5" fill="#b0b0b0"/><rect x="41.1" y="156.4" width="0.5" height="0.5" fill="#b0b0b0"/><rect x="40.4" y="155.1" width="0.5" height="0.5" fill="#b0b0b0"/><rect x="38.9" y="156.5" width="0.5" height="0.5" fill="#b0b0b0"/><rect x="39.6" y="156.4" width="0.5" height="0.5" fill="#b0b0b0"/><rect x="41.7" y="156.0" width="0.5" height="0.5" fill="#b0b0b0"/><rect x="39.0" y="155.9" width="0.5" height="0.5" fill="#b0b0b0"/><rect x="41.4" y="152.6" width="0.5" height="0.5" fill="#b0b0b0"/><rect x="39.8" y="152.7" width="0.5" height="0.5" fill="#b0b0b0"/><rect x="39.8" y="153.0" width="0.5" height="0.5" fill="#b0b0b0"/><rect x="41.8" y="157.4" width="0.5" height="0.5" fill="#b0b0b0"/><rect x="41.2" y="156.1" width="0.5" height="0.5" fill="#b0b0b0"/><rect x="40.4" y="154.5" width="0.5" height="0.5" fill="#b0b0b0"/><path d="M37.9,141.8 Q37.9,139.3 40.9,139.3 L54.9,139.0 Q56.9,139.0 56.9,141.5 Q56.9,143.8 54.4,143.8 L43.5,144.6 Q41.8,145.0 41.6,147.5 L40.3,157.5 L39.1,147.2 Q37.9,145.5 37.9,141.8 Z" fill="#d9d9d9" stroke="#777" stroke-width="0.45"/><path d="M38.1,142.8 Q38.1,139.3 40.9,139.3 L54.9,139.0 Q56.9,139.0 56.9,141.5 Q56.9,143.2 55.4,143.6" fill="none" stroke="#2e2e2e" stroke-width="0.8"/><ellipse cx="52.4" cy="141.4" rx="2.6" ry="0.9" fill="#f2f2f2" stroke="#888" stroke-width="0.35"/><ellipse cx="46.4" cy="141.6" rx="3" ry="0.8" fill="#eeeeee"/><polygon points="39.4,148.2 41.2,148.2 40.3,155.5" fill="#1a1a1a"/>
<rect x="36.60" y="130.2" width="23.00" height="16.0" fill="none" stroke="#444" stroke-width="0.5"/>
<line x1="43.90" y1="130.20" x2="43.90" y2="161.90" stroke="#444" stroke-width="0.5" />
<line x1="52.50" y1="130.20" x2="52.50" y2="146.20" stroke="#444" stroke-width="0.5" />
<polyline points="36.60,146.2 36.60,161.9 43.90,161.9" fill="none" stroke="#444" stroke-width="0.5"/>
<text x="31.60" y="122.20" font-size="6.3" text-anchor="middle" fill="#333" >G1</text>
<text x="31.60" y="129.00" font-size="6.3" text-anchor="middle" fill="#333" >53</text>
<text x="47.30" y="122.20" font-size="6.3" text-anchor="middle" fill="#333" >S</text>
<text x="47.30" y="129.00" font-size="6.3" text-anchor="middle" fill="#333" >24</text>
<text x="63.20" y="122.20" font-size="6.3" text-anchor="middle" fill="#333" textLength="15.40" lengthAdjust="spacingAndGlyphs" >G2/M</text>
<text x="63.20" y="129.00" font-size="6.3" text-anchor="middle" fill="#333" >18</text>
<text x="30.00" y="152.20" font-size="6.3" text-anchor="middle" fill="#333" >G0</text>
<text x="29.70" y="158.60" font-size="6.3" text-anchor="middle" fill="#333" >7</text>
<rect x="75.70" y="116.6" width="48.3" height="46.0" fill="none" stroke="#b8b8b8" stroke-width="0.6"/>
<line x1="75.70" y1="125.80" x2="76.70" y2="125.80" stroke="#c8c8c8" stroke-width="0.4" />
<line x1="85.30" y1="162.60" x2="85.30" y2="161.60" stroke="#c8c8c8" stroke-width="0.4" />
<line x1="75.70" y1="135.00" x2="76.70" y2="135.00" stroke="#c8c8c8" stroke-width="0.4" />
<line x1="94.90" y1="162.60" x2="94.90" y2="161.60" stroke="#c8c8c8" stroke-width="0.4" />
<line x1="75.70" y1="144.20" x2="76.70" y2="144.20" stroke="#c8c8c8" stroke-width="0.4" />
<line x1="104.50" y1="162.60" x2="104.50" y2="161.60" stroke="#c8c8c8" stroke-width="0.4" />
<line x1="75.70" y1="153.40" x2="76.70" y2="153.40" stroke="#c8c8c8" stroke-width="0.4" />
<line x1="114.10" y1="162.60" x2="114.10" y2="161.60" stroke="#c8c8c8" stroke-width="0.4" />
<rect x="103.2" y="147.2" width="0.5" height="0.5" fill="#bdbdbd"/><rect x="101.2" y="145.5" width="0.5" height="0.5" fill="#bdbdbd"/><rect x="105.6" y="145.8" width="0.5" height="0.5" fill="#bdbdbd"/><rect x="95.3" y="147.0" width="0.5" height="0.5" fill="#bdbdbd"/><rect x="98.2" y="146.5" width="0.5" height="0.5" fill="#bdbdbd"/><rect x="104.9" y="148.0" width="0.5" height="0.5" fill="#bdbdbd"/><rect x="108.1" y="145.1" width="0.5" height="0.5" fill="#bdbdbd"/><rect x="98.6" y="146.9" width="0.5" height="0.5" fill="#bdbdbd"/><rect x="104.6" y="145.1" width="0.5" height="0.5" fill="#bdbdbd"/><rect x="97.8" y="147.3" width="0.5" height="0.5" fill="#bdbdbd"/><rect x="104.3" y="149.2" width="0.5" height="0.5" fill="#bdbdbd"/><rect x="101.2" y="146.5" width="0.5" height="0.5" fill="#bdbdbd"/><rect x="104.4" y="146.2" width="0.5" height="0.5" fill="#bdbdbd"/><rect x="97.7" y="148.6" width="0.5" height="0.5" fill="#bdbdbd"/><rect x="108.0" y="146.7" width="0.5" height="0.5" fill="#bdbdbd"/><rect x="107.5" y="147.2" width="0.5" height="0.5" fill="#bdbdbd"/><rect x="99.4" y="146.9" width="0.5" height="0.5" fill="#bdbdbd"/><rect x="96.8" y="149.2" width="0.5" height="0.5" fill="#bdbdbd"/><rect x="107.0" y="145.1" width="0.5" height="0.5" fill="#bdbdbd"/><rect x="105.1" y="146.7" width="0.5" height="0.5" fill="#bdbdbd"/><rect x="97.3" y="145.5" width="0.5" height="0.5" fill="#bdbdbd"/><rect x="101.3" y="145.2" width="0.5" height="0.5" fill="#bdbdbd"/><rect x="100.8" y="146.5" width="0.5" height="0.5" fill="#bdbdbd"/><rect x="103.8" y="146.9" width="0.5" height="0.5" fill="#bdbdbd"/><rect x="106.9" y="145.1" width="0.5" height="0.5" fill="#bdbdbd"/><rect x="108.9" y="145.8" width="0.5" height="0.5" fill="#bdbdbd"/><rect x="95.4" y="145.3" width="0.5" height="0.5" fill="#bdbdbd"/><rect x="107.4" y="148.3" width="0.5" height="0.5" fill="#bdbdbd"/><rect x="103.1" y="145.9" width="0.5" height="0.5" fill="#bdbdbd"/><rect x="99.3" y="145.1" width="0.5" height="0.5" fill="#bdbdbd"/><rect x="96.8" y="145.4" width="0.5" height="0.5" fill="#bdbdbd"/><rect x="101.4" y="149.1" width="0.5" height="0.5" fill="#bdbdbd"/><rect x="98.3" y="145.6" width="0.5" height="0.5" fill="#bdbdbd"/><rect x="96.9" y="148.0" width="0.5" height="0.5" fill="#bdbdbd"/><rect x="101.3" y="145.9" width="0.5" height="0.5" fill="#bdbdbd"/><rect x="103.9" y="147.2" width="0.5" height="0.5" fill="#bdbdbd"/><rect x="108.6" y="148.3" width="0.5" height="0.5" fill="#bdbdbd"/><rect x="104.7" y="145.8" width="0.5" height="0.5" fill="#bdbdbd"/><rect x="97.5" y="147.4" width="0.5" height="0.5" fill="#bdbdbd"/><rect x="95.1" y="148.4" width="0.5" height="0.5" fill="#bdbdbd"/><rect x="97.5" y="145.6" width="0.5" height="0.5" fill="#bdbdbd"/><rect x="98.8" y="146.9" width="0.5" height="0.5" fill="#bdbdbd"/><rect x="102.3" y="147.8" width="0.5" height="0.5" fill="#bdbdbd"/><rect x="103.7" y="145.1" width="0.5" height="0.5" fill="#bdbdbd"/><rect x="106.2" y="147.2" width="0.5" height="0.5" fill="#bdbdbd"/><rect x="107.9" y="149.4" width="0.5" height="0.5" fill="#bdbdbd"/><rect x="105.2" y="147.7" width="0.5" height="0.5" fill="#bdbdbd"/><rect x="96.8" y="148.0" width="0.5" height="0.5" fill="#bdbdbd"/><rect x="107.9" y="145.9" width="0.5" height="0.5" fill="#bdbdbd"/><rect x="100.3" y="149.1" width="0.5" height="0.5" fill="#bdbdbd"/><rect x="106.3" y="146.9" width="0.5" height="0.5" fill="#bdbdbd"/><rect x="108.4" y="148.1" width="0.5" height="0.5" fill="#bdbdbd"/><rect x="97.8" y="145.7" width="0.5" height="0.5" fill="#bdbdbd"/><rect x="105.2" y="146.3" width="0.5" height="0.5" fill="#bdbdbd"/><rect x="105.2" y="147.9" width="0.5" height="0.5" fill="#bdbdbd"/><rect x="98.0" y="150.0" width="0.5" height="0.5" fill="#bdbdbd"/><rect x="108.9" y="148.6" width="0.5" height="0.5" fill="#bdbdbd"/><rect x="102.6" y="145.5" width="0.5" height="0.5" fill="#bdbdbd"/><rect x="107.9" y="146.9" width="0.5" height="0.5" fill="#bdbdbd"/><rect x="107.1" y="145.5" width="0.5" height="0.5" fill="#bdbdbd"/><rect x="101.2" y="145.7" width="0.5" height="0.5" fill="#bdbdbd"/><rect x="102.8" y="145.3" width="0.5" height="0.5" fill="#bdbdbd"/><rect x="95.3" y="147.5" width="0.5" height="0.5" fill="#bdbdbd"/><rect x="106.5" y="148.6" width="0.5" height="0.5" fill="#bdbdbd"/><rect x="97.4" y="146.5" width="0.5" height="0.5" fill="#bdbdbd"/><rect x="99.7" y="145.3" width="0.5" height="0.5" fill="#bdbdbd"/><rect x="97.0" y="146.2" width="0.5" height="0.5" fill="#bdbdbd"/><rect x="102.3" y="145.7" width="0.5" height="0.5" fill="#bdbdbd"/><rect x="104.8" y="149.2" width="0.5" height="0.5" fill="#bdbdbd"/><rect x="108.4" y="150.4" width="0.5" height="0.5" fill="#bdbdbd"/><rect x="94.2" y="146.6" width="0.5" height="0.5" fill="#b0b0b0"/><rect x="94.3" y="148.0" width="0.5" height="0.5" fill="#b0b0b0"/><rect x="95.3" y="151.1" width="0.5" height="0.5" fill="#b0b0b0"/><rect x="93.3" y="151.9" width="0.5" height="0.5" fill="#b0b0b0"/><rect x="93.2" y="149.9" width="0.5" height="0.5" fill="#b0b0b0"/><rect x="93.7" y="151.9" width="0.5" height="0.5" fill="#b0b0b0"/><rect x="95.0" y="152.3" width="0.5" height="0.5" fill="#b0b0b0"/><rect x="94.6" y="152.8" width="0.5" height="0.5" fill="#b0b0b0"/><rect x="96.0" y="149.7" width="0.5" height="0.5" fill="#b0b0b0"/><rect x="93.5" y="149.8" width="0.5" height="0.5" fill="#b0b0b0"/><rect x="93.8" y="149.5" width="0.5" height="0.5" fill="#b0b0b0"/><rect x="93.9" y="152.8" width="0.5" height="0.5" fill="#b0b0b0"/><rect x="94.0" y="149.6" width="0.5" height="0.5" fill="#b0b0b0"/><rect x="92.6" y="149.9" width="0.5" height="0.5" fill="#b0b0b0"/><rect x="95.2" y="149.4" width="0.5" height="0.5" fill="#b0b0b0"/><rect x="94.0" y="149.8" width="0.5" height="0.5" fill="#b0b0b0"/><rect x="93.8" y="148.9" width="0.5" height="0.5" fill="#b0b0b0"/><rect x="96.3" y="147.9" width="0.5" height="0.5" fill="#b0b0b0"/><rect x="93.5" y="149.3" width="0.5" height="0.5" fill="#b0b0b0"/><rect x="94.8" y="151.7" width="0.5" height="0.5" fill="#b0b0b0"/><rect x="94.9" y="152.3" width="0.5" height="0.5" fill="#b0b0b0"/><rect x="93.2" y="147.3" width="0.5" height="0.5" fill="#b0b0b0"/><rect x="94.2" y="150.3" width="0.5" height="0.5" fill="#b0b0b0"/><rect x="94.6" y="151.5" width="0.5" height="0.5" fill="#b0b0b0"/><rect x="93.9" y="146.2" width="0.5" height="0.5" fill="#b0b0b0"/><path d="M91.9,141.8 Q91.9,139.3 94.9,139.3 L109.2,139.0 Q111.2,139.0 111.2,141.5 Q111.2,143.8 108.7,143.8 L97.1,144.6 Q95.4,145.0 95.2,147.5 L93.9,153.0 L92.7,147.2 Q91.9,145.5 91.9,141.8 Z" fill="#d9d9d9" stroke="#777" stroke-width="0.45"/><path d="M92.1,142.8 Q92.1,139.3 94.9,139.3 L109.2,139.0 Q111.2,139.0 111.2,141.5 Q111.2,143.2 109.7,143.6" fill="none" stroke="#2e2e2e" stroke-width="0.8"/><ellipse cx="106.7" cy="141.4" rx="2.6" ry="0.9" fill="#f2f2f2" stroke="#888" stroke-width="0.35"/><ellipse cx="100.6" cy="141.6" rx="3" ry="0.8" fill="#eeeeee"/><polygon points="93.0,148.2 94.8,148.2 93.9,151.0" fill="#1a1a1a"/>
<rect x="90.30" y="130.2" width="22.60" height="16.0" fill="none" stroke="#444" stroke-width="0.5"/>
<line x1="97.20" y1="130.20" x2="97.20" y2="161.90" stroke="#444" stroke-width="0.5" />
<line x1="106.80" y1="130.20" x2="106.80" y2="146.20" stroke="#444" stroke-width="0.5" />
<polyline points="90.30,146.2 90.30,161.9 97.20,161.9" fill="none" stroke="#444" stroke-width="0.5"/>
<text x="84.00" y="122.20" font-size="6.3" text-anchor="middle" fill="#333" >G1</text>
<text x="84.00" y="129.00" font-size="6.3" text-anchor="middle" fill="#333" >44</text>
<text x="99.90" y="122.20" font-size="6.3" text-anchor="middle" fill="#333" >S</text>
<text x="99.90" y="129.00" font-size="6.3" text-anchor="middle" fill="#333" >31</text>
<text x="115.50" y="122.20" font-size="6.3" text-anchor="middle" fill="#333" textLength="15.40" lengthAdjust="spacingAndGlyphs" >G2/M</text>
<text x="115.50" y="129.00" font-size="6.3" text-anchor="middle" fill="#333" >22</text>
<text x="83.30" y="152.20" font-size="6.3" text-anchor="middle" fill="#333" >G0</text>
<text x="83.30" y="158.60" font-size="6.3" text-anchor="middle" fill="#333" >6</text>
<rect x="127.70" y="116.6" width="48.3" height="46.0" fill="none" stroke="#b8b8b8" stroke-width="0.6"/>
<line x1="127.70" y1="125.80" x2="128.70" y2="125.80" stroke="#c8c8c8" stroke-width="0.4" />
<line x1="137.30" y1="162.60" x2="137.30" y2="161.60" stroke="#c8c8c8" stroke-width="0.4" />
<line x1="127.70" y1="135.00" x2="128.70" y2="135.00" stroke="#c8c8c8" stroke-width="0.4" />
<line x1="146.90" y1="162.60" x2="146.90" y2="161.60" stroke="#c8c8c8" stroke-width="0.4" />
<line x1="127.70" y1="144.20" x2="128.70" y2="144.20" stroke="#c8c8c8" stroke-width="0.4" />
<line x1="156.50" y1="162.60" x2="156.50" y2="161.60" stroke="#c8c8c8" stroke-width="0.4" />
<line x1="127.70" y1="153.40" x2="128.70" y2="153.40" stroke="#c8c8c8" stroke-width="0.4" />
<line x1="166.10" y1="162.60" x2="166.10" y2="161.60" stroke="#c8c8c8" stroke-width="0.4" />
<rect x="149.1" y="145.5" width="0.5" height="0.5" fill="#bdbdbd"/><rect x="150.9" y="148.3" width="0.5" height="0.5" fill="#bdbdbd"/><rect x="151.3" y="145.8" width="0.5" height="0.5" fill="#bdbdbd"/><rect x="156.7" y="145.7" width="0.5" height="0.5" fill="#bdbdbd"/><rect x="148.0" y="146.7" width="0.5" height="0.5" fill="#bdbdbd"/><rect x="149.1" y="145.1" width="0.5" height="0.5" fill="#bdbdbd"/><rect x="153.8" y="147.0" width="0.5" height="0.5" fill="#bdbdbd"/><rect x="152.2" y="145.8" width="0.5" height="0.5" fill="#bdbdbd"/><rect x="153.8" y="145.8" width="0.5" height="0.5" fill="#bdbdbd"/><rect x="155.3" y="146.3" width="0.5" height="0.5" fill="#bdbdbd"/><rect x="155.4" y="149.2" width="0.5" height="0.5" fill="#bdbdbd"/><rect x="155.0" y="145.8" width="0.5" height="0.5" fill="#bdbdbd"/><rect x="158.5" y="145.4" width="0.5" height="0.5" fill="#bdbdbd"/><rect x="157.8" y="148.6" width="0.5" height="0.5" fill="#bdbdbd"/><rect x="159.1" y="145.8" width="0.5" height="0.5" fill="#bdbdbd"/><rect x="159.4" y="146.8" width="0.5" height="0.5" fill="#bdbdbd"/><rect x="149.4" y="149.6" width="0.5" height="0.5" fill="#bdbdbd"/><rect x="148.2" y="145.0" width="0.5" height="0.5" fill="#bdbdbd"/><rect x="149.7" y="145.3" width="0.5" height="0.5" fill="#bdbdbd"/><rect x="147.7" y="146.7" width="0.5" height="0.5" fill="#bdbdbd"/><rect x="158.1" y="148.4" width="0.5" height="0.5" fill="#bdbdbd"/><rect x="148.1" y="146.8" width="0.5" height="0.5" fill="#bdbdbd"/><rect x="152.0" y="145.2" width="0.5" height="0.5" fill="#bdbdbd"/><rect x="149.2" y="145.4" width="0.5" height="0.5" fill="#bdbdbd"/><rect x="156.0" y="149.9" width="0.5" height="0.5" fill="#bdbdbd"/><rect x="147.9" y="148.1" width="0.5" height="0.5" fill="#bdbdbd"/><rect x="153.5" y="145.1" width="0.5" height="0.5" fill="#bdbdbd"/><rect x="156.0" y="147.6" width="0.5" height="0.5" fill="#bdbdbd"/><rect x="149.0" y="145.9" width="0.5" height="0.5" fill="#bdbdbd"/><rect x="146.8" y="145.4" width="0.5" height="0.5" fill="#bdbdbd"/><rect x="154.1" y="147.8" width="0.5" height="0.5" fill="#bdbdbd"/><rect x="148.4" y="145.3" width="0.5" height="0.5" fill="#bdbdbd"/><rect x="148.9" y="146.2" width="0.5" height="0.5" fill="#bdbdbd"/><rect x="160.4" y="149.0" width="0.5" height="0.5" fill="#bdbdbd"/><rect x="159.5" y="145.7" width="0.5" height="0.5" fill="#bdbdbd"/><rect x="159.8" y="145.4" width="0.5" height="0.5" fill="#bdbdbd"/><rect x="152.9" y="145.2" width="0.5" height="0.5" fill="#bdbdbd"/><rect x="152.9" y="146.9" width="0.5" height="0.5" fill="#bdbdbd"/><rect x="153.6" y="147.7" width="0.5" height="0.5" fill="#bdbdbd"/><rect x="146.5" y="146.3" width="0.5" height="0.5" fill="#bdbdbd"/><rect x="156.3" y="145.8" width="0.5" height="0.5" fill="#bdbdbd"/><rect x="152.7" y="146.2" width="0.5" height="0.5" fill="#bdbdbd"/><rect x="156.8" y="146.2" width="0.5" height="0.5" fill="#bdbdbd"/><rect x="148.6" y="145.8" width="0.5" height="0.5" fill="#bdbdbd"/><rect x="153.6" y="149.6" width="0.5" height="0.5" fill="#bdbdbd"/><rect x="157.7" y="145.5" width="0.5" height="0.5" fill="#bdbdbd"/><rect x="156.3" y="147.0" width="0.5" height="0.5" fill="#bdbdbd"/><rect x="152.0" y="147.4" width="0.5" height="0.5" fill="#bdbdbd"/><rect x="154.8" y="151.3" width="0.5" height="0.5" fill="#bdbdbd"/><rect x="157.7" y="145.2" width="0.5" height="0.5" fill="#bdbdbd"/><rect x="150.0" y="148.1" width="0.5" height="0.5" fill="#bdbdbd"/><rect x="157.3" y="146.9" width="0.5" height="0.5" fill="#bdbdbd"/><rect x="157.9" y="148.9" width="0.5" height="0.5" fill="#bdbdbd"/><rect x="158.8" y="147.6" width="0.5" height="0.5" fill="#bdbdbd"/><rect x="156.2" y="145.4" width="0.5" height="0.5" fill="#bdbdbd"/><rect x="152.1" y="148.7" width="0.5" height="0.5" fill="#bdbdbd"/><rect x="156.6" y="146.8" width="0.5" height="0.5" fill="#bdbdbd"/><rect x="153.0" y="145.9" width="0.5" height="0.5" fill="#bdbdbd"/><rect x="146.5" y="146.9" width="0.5" height="0.5" fill="#bdbdbd"/><rect x="155.2" y="147.5" width="0.5" height="0.5" fill="#bdbdbd"/><rect x="149.6" y="148.1" width="0.5" height="0.5" fill="#bdbdbd"/><rect x="151.1" y="146.1" width="0.5" height="0.5" fill="#bdbdbd"/><rect x="155.7" y="147.5" width="0.5" height="0.5" fill="#bdbdbd"/><rect x="151.8" y="146.1" width="0.5" height="0.5" fill="#bdbdbd"/><rect x="160.5" y="147.1" width="0.5" height="0.5" fill="#bdbdbd"/><rect x="157.1" y="147.7" width="0.5" height="0.5" fill="#bdbdbd"/><rect x="160.2" y="148.0" width="0.5" height="0.5" fill="#bdbdbd"/><rect x="156.8" y="145.4" width="0.5" height="0.5" fill="#bdbdbd"/><rect x="149.9" y="145.6" width="0.5" height="0.5" fill="#bdbdbd"/><rect x="149.1" y="145.4" width="0.5" height="0.5" fill="#bdbdbd"/><rect x="145.2" y="148.0" width="0.5" height="0.5" fill="#b0b0b0"/><rect x="145.8" y="153.2" width="0.5" height="0.5" fill="#b0b0b0"/><rect x="144.4" y="153.7" width="0.5" height="0.5" fill="#b0b0b0"/><rect x="145.1" y="150.5" width="0.5" height="0.5" fill="#b0b0b0"/><rect x="146.9" y="152.5" width="0.5" height="0.5" fill="#b0b0b0"/><rect x="145.5" y="146.6" width="0.5" height="0.5" fill="#b0b0b0"/><rect x="144.1" y="146.4" width="0.5" height="0.5" fill="#b0b0b0"/><rect x="144.5" y="153.4" width="0.5" height="0.5" fill="#b0b0b0"/><rect x="146.1" y="147.4" width="0.5" height="0.5" fill="#b0b0b0"/><rect x="146.5" y="150.0" width="0.5" height="0.5" fill="#b0b0b0"/><rect x="145.2" y="153.6" width="0.5" height="0.5" fill="#b0b0b0"/><rect x="145.3" y="149.4" width="0.5" height="0.5" fill="#b0b0b0"/><rect x="144.2" y="148.9" width="0.5" height="0.5" fill="#b0b0b0"/><rect x="145.3" y="148.3" width="0.5" height="0.5" fill="#b0b0b0"/><rect x="144.8" y="148.3" width="0.5" height="0.5" fill="#b0b0b0"/><rect x="144.4" y="151.7" width="0.5" height="0.5" fill="#b0b0b0"/><rect x="145.5" y="148.0" width="0.5" height="0.5" fill="#b0b0b0"/><rect x="145.7" y="146.3" width="0.5" height="0.5" fill="#b0b0b0"/><rect x="146.4" y="149.1" width="0.5" height="0.5" fill="#b0b0b0"/><rect x="146.9" y="153.2" width="0.5" height="0.5" fill="#b0b0b0"/><rect x="145.5" y="153.9" width="0.5" height="0.5" fill="#b0b0b0"/><rect x="145.2" y="153.6" width="0.5" height="0.5" fill="#b0b0b0"/><rect x="147.4" y="149.4" width="0.5" height="0.5" fill="#b0b0b0"/><rect x="146.5" y="149.8" width="0.5" height="0.5" fill="#b0b0b0"/><rect x="146.2" y="150.2" width="0.5" height="0.5" fill="#b0b0b0"/><path d="M143.3,141.8 Q143.3,139.3 146.3,139.3 L160.5,139.0 Q162.5,139.0 162.5,141.5 Q162.5,143.8 160.0,143.8 L148.5,144.6 Q146.8,145.0 146.6,147.5 L145.3,154.0 L144.1,147.2 Q143.3,145.5 143.3,141.8 Z" fill="#d9d9d9" stroke="#777" stroke-width="0.45"/><path d="M143.5,142.8 Q143.5,139.3 146.3,139.3 L160.5,139.0 Q162.5,139.0 162.5,141.5 Q162.5,143.2 161.0,143.6" fill="none" stroke="#2e2e2e" stroke-width="0.8"/><ellipse cx="158.0" cy="141.4" rx="2.6" ry="0.9" fill="#f2f2f2" stroke="#888" stroke-width="0.35"/><ellipse cx="151.9" cy="141.6" rx="3" ry="0.8" fill="#eeeeee"/><polygon points="144.4,148.2 146.2,148.2 145.3,152.0" fill="#1a1a1a"/>
<rect x="141.30" y="130.2" width="22.60" height="16.0" fill="none" stroke="#444" stroke-width="0.5"/>
<line x1="148.60" y1="130.20" x2="148.60" y2="161.90" stroke="#444" stroke-width="0.5" />
<line x1="157.20" y1="130.20" x2="157.20" y2="146.20" stroke="#444" stroke-width="0.5" />
<polyline points="141.30,146.2 141.30,161.9 148.60,161.9" fill="none" stroke="#444" stroke-width="0.5"/>
<text x="137.80" y="122.20" font-size="6.3" text-anchor="middle" fill="#333" >G1</text>
<text x="137.80" y="129.00" font-size="6.3" text-anchor="middle" fill="#333" >52</text>
<text x="151.90" y="122.20" font-size="6.3" text-anchor="middle" fill="#333" >S</text>
<text x="151.90" y="129.00" font-size="6.3" text-anchor="middle" fill="#333" >25</text>
<text x="167.80" y="122.20" font-size="6.3" text-anchor="middle" fill="#333" textLength="15.40" lengthAdjust="spacingAndGlyphs" >G2/M</text>
<text x="167.80" y="129.00" font-size="6.3" text-anchor="middle" fill="#333" >20</text>
<text x="134.60" y="152.20" font-size="6.3" text-anchor="middle" fill="#333" >G0</text>
<text x="134.60" y="158.60" font-size="6.3" text-anchor="middle" fill="#333" >5</text>
<text x="16.90" y="153.70" font-size="7.6" textLength="14.80" lengthAdjust="spacingAndGlyphs" transform="rotate(-90 16.90 153.70)" >Ki67</text>
<line x1="15.00" y1="135.20" x2="15.00" y2="124.00" stroke="#222" stroke-width="0.9" />
<polygon points="15.0,119.4 13.5,124.9 16.5,124.9" fill="#222"/>
<text x="23.00" y="170.40" font-size="7.4" textLength="38.00" lengthAdjust="spacingAndGlyphs" >DNA content</text>
<line x1="76.00" y1="168.60" x2="165.00" y2="168.60" stroke="#444" stroke-width="1.3" />
<polygon points="170.3,168.6 164.1,166.6 165.3,168.6 164.1,170.6" fill="#111"/>
<line x1="207.90" y1="102.30" x2="207.90" y2="162.10" stroke="#222" stroke-width="0.8" />
<line x1="206.50" y1="162.10" x2="296.20" y2="162.10" stroke="#222" stroke-width="0.8" />
<line x1="206.50" y1="102.80" x2="207.90" y2="102.80" stroke="#222" stroke-width="0.8" />
<text x="205.00" y="105.25" font-size="6.8" text-anchor="end" fill="#333" >60</text>
<line x1="206.50" y1="122.60" x2="207.90" y2="122.60" stroke="#222" stroke-width="0.8" />
<text x="205.00" y="125.05" font-size="6.8" text-anchor="end" fill="#333" >40</text>
<line x1="206.50" y1="142.40" x2="207.90" y2="142.40" stroke="#222" stroke-width="0.8" />
<text x="205.00" y="144.85" font-size="6.8" text-anchor="end" fill="#333" >20</text>
<line x1="206.50" y1="162.10" x2="207.90" y2="162.10" stroke="#222" stroke-width="0.8" />
<text x="205.00" y="164.55" font-size="6.8" text-anchor="end" fill="#333" >0</text>
<rect x="211.20" y="155.30" width="5.62" height="6.80" fill="#c8102e" />
<line x1="214.01" y1="153.30" x2="214.01" y2="155.30" stroke="#333" stroke-width="0.6" />
<line x1="212.51" y1="153.30" x2="215.51" y2="153.30" stroke="#333" stroke-width="0.6" />
<rect x="216.82" y="156.80" width="5.62" height="5.30" fill="#0d4f8b" />
<line x1="219.63" y1="153.90" x2="219.63" y2="156.80" stroke="#333" stroke-width="0.6" />
<line x1="218.13" y1="153.90" x2="221.13" y2="153.90" stroke="#333" stroke-width="0.6" />
<rect x="222.44" y="158.00" width="5.62" height="4.10" fill="#3ab54a" />
<line x1="225.25" y1="156.30" x2="225.25" y2="158.00" stroke="#333" stroke-width="0.6" />
<line x1="223.75" y1="156.30" x2="226.75" y2="156.30" stroke="#333" stroke-width="0.6" />
<line x1="219.63" y1="162.10" x2="219.63" y2="163.70" stroke="#222" stroke-width="0.6" />
<text x="219.63" y="170.60" font-size="7.0" text-anchor="middle" >G0</text>
<rect x="233.70" y="110.30" width="5.62" height="51.80" fill="#c8102e" />
<line x1="236.51" y1="108.30" x2="236.51" y2="110.30" stroke="#333" stroke-width="0.6" />
<line x1="235.01" y1="108.30" x2="238.01" y2="108.30" stroke="#333" stroke-width="0.6" />
<rect x="239.32" y="119.50" width="5.62" height="42.60" fill="#0d4f8b" />
<line x1="242.13" y1="117.10" x2="242.13" y2="119.50" stroke="#333" stroke-width="0.6" />
<line x1="240.63" y1="117.10" x2="243.63" y2="117.10" stroke="#333" stroke-width="0.6" />
<rect x="244.94" y="110.70" width="5.62" height="51.40" fill="#3ab54a" />
<line x1="247.75" y1="109.30" x2="247.75" y2="110.70" stroke="#333" stroke-width="0.6" />
<line x1="246.25" y1="109.30" x2="249.25" y2="109.30" stroke="#333" stroke-width="0.6" />
<line x1="242.13" y1="162.10" x2="242.13" y2="163.70" stroke="#222" stroke-width="0.6" />
<text x="242.13" y="170.60" font-size="7.0" text-anchor="middle" >G1</text>
<rect x="256.20" y="139.00" width="5.62" height="23.10" fill="#c8102e" />
<line x1="259.01" y1="136.90" x2="259.01" y2="139.00" stroke="#333" stroke-width="0.6" />
<line x1="257.51" y1="136.90" x2="260.51" y2="136.90" stroke="#333" stroke-width="0.6" />
<rect x="261.82" y="131.80" width="5.62" height="30.30" fill="#0d4f8b" />
<line x1="264.63" y1="130.20" x2="264.63" y2="131.80" stroke="#333" stroke-width="0.6" />
<line x1="263.13" y1="130.20" x2="266.13" y2="130.20" stroke="#333" stroke-width="0.6" />
<rect x="267.44" y="138.00" width="5.62" height="24.10" fill="#3ab54a" />
<line x1="270.25" y1="137.30" x2="270.25" y2="138.00" stroke="#333" stroke-width="0.6" />
<line x1="268.75" y1="137.30" x2="271.75" y2="137.30" stroke="#333" stroke-width="0.6" />
<line x1="264.63" y1="162.10" x2="264.63" y2="163.70" stroke="#222" stroke-width="0.6" />
<text x="264.63" y="170.60" font-size="7.0" text-anchor="middle" >S</text>
<rect x="278.70" y="144.50" width="5.62" height="17.60" fill="#c8102e" />
<line x1="281.51" y1="143.70" x2="281.51" y2="144.50" stroke="#333" stroke-width="0.6" />
<line x1="280.01" y1="143.70" x2="283.01" y2="143.70" stroke="#333" stroke-width="0.6" />
<rect x="284.32" y="141.60" width="5.62" height="20.50" fill="#0d4f8b" />
<line x1="287.13" y1="139.60" x2="287.13" y2="141.60" stroke="#333" stroke-width="0.6" />
<line x1="285.63" y1="139.60" x2="288.63" y2="139.60" stroke="#333" stroke-width="0.6" />
<rect x="289.94" y="142.40" width="5.62" height="19.70" fill="#3ab54a" />
<line x1="292.75" y1="141.60" x2="292.75" y2="142.40" stroke="#333" stroke-width="0.6" />
<line x1="291.25" y1="141.60" x2="294.25" y2="141.60" stroke="#333" stroke-width="0.6" />
<line x1="287.13" y1="162.10" x2="287.13" y2="163.70" stroke="#222" stroke-width="0.6" />
<text x="287.13" y="170.60" font-size="7.0" text-anchor="middle" textLength="16.40" lengthAdjust="spacingAndGlyphs" >G2/M</text>
<line x1="258.30" y1="127.30" x2="265.00" y2="127.30" stroke="#222" stroke-width="0.8" />
<text x="261.30" y="127.50" font-size="6.4" text-anchor="middle" font-weight="bold" >*</text>
<line x1="266.50" y1="124.70" x2="272.60" y2="124.70" stroke="#222" stroke-width="0.8" />
<text x="269.50" y="124.90" font-size="6.4" text-anchor="middle" font-weight="bold" >*</text>
<text x="195.90" y="151.70" font-size="7.2" textLength="44.20" lengthAdjust="spacingAndGlyphs" transform="rotate(-90 195.90 151.70)" >Percentage of cells</text>
<g><rect x="24.20" y="247.00" width="54.80" height="55.70" fill="#ebe9d4" stroke="#bdbca5" stroke-width="0.35"/><rect x="30.20" y="252.20" width="47.50" height="44.80" fill="#fff" stroke="#bdbdbd" stroke-width="0.25"/><text x="51.60" y="249.00" font-size="2.3" font-weight="bold" text-anchor="middle" fill="#222" stroke="#222" stroke-width="0.15" textLength="18.3" lengthAdjust="spacingAndGlyphs">Enrichment plot:</text><text x="51.60" y="251.40" font-size="2.3" font-weight="bold" text-anchor="middle" fill="#222" stroke="#222" stroke-width="0.15" textLength="36.6" lengthAdjust="spacingAndGlyphs">REACTOME_G1_S_CHECKPOINTS</text><line x1="30.20" y1="254.77" x2="77.70" y2="254.77" stroke="#e6e6e6" stroke-width="0.25"/><line x1="30.20" y1="257.35" x2="77.70" y2="257.35" stroke="#e6e6e6" stroke-width="0.25"/><line x1="30.20" y1="259.93" x2="77.70" y2="259.93" stroke="#e6e6e6" stroke-width="0.25"/><line x1="30.20" y1="262.50" x2="77.70" y2="262.50" stroke="#e6e6e6" stroke-width="0.25"/><line x1="30.20" y1="265.07" x2="77.70" y2="265.07" stroke="#e6e6e6" stroke-width="0.25"/><line x1="30.20" y1="267.65" x2="77.70" y2="267.65" stroke="#e6e6e6" stroke-width="0.25"/><line x1="30.20" y1="270.23" x2="77.70" y2="270.23" stroke="#e6e6e6" stroke-width="0.25"/><line x1="36.99" y1="252.20" x2="36.99" y2="272.80" stroke="#e6e6e6" stroke-width="0.25"/><line x1="43.77" y1="252.20" x2="43.77" y2="272.80" stroke="#e6e6e6" stroke-width="0.25"/><line x1="50.56" y1="252.20" x2="50.56" y2="272.80" stroke="#e6e6e6" stroke-width="0.25"/><line x1="57.34" y1="252.20" x2="57.34" y2="272.80" stroke="#e6e6e6" stroke-width="0.25"/><line x1="64.13" y1="252.20" x2="64.13" y2="272.80" stroke="#e6e6e6" stroke-width="0.25"/><line x1="70.91" y1="252.20" x2="70.91" y2="272.80" stroke="#e6e6e6" stroke-width="0.25"/><polyline points="30.20,269.40 34.00,272.00 36.38,265.00 37.80,258.00 39.70,255.50 43.50,253.60 45.88,253.30 48.25,254.50 53.95,258.00 61.08,262.00 68.20,267.30 69.62,266.10 72.95,268.50 77.70,270.80" fill="none" stroke="#80d05e" stroke-width="0.75"/><line x1="30.20" y1="272.80" x2="77.70" y2="272.80" stroke="#999" stroke-width="0.3"/><line x1="33.76" y1="273.30" x2="33.76" y2="279.10" stroke="#555" stroke-width="0.42"/><line x1="34.71" y1="273.30" x2="34.71" y2="279.10" stroke="#333" stroke-width="0.42"/><line x1="35.42" y1="273.30" x2="35.42" y2="279.10" stroke="#666" stroke-width="0.42"/><line x1="36.38" y1="273.30" x2="36.38" y2="279.10" stroke="#444" stroke-width="0.42"/><line x1="37.80" y1="273.30" x2="37.80" y2="279.10" stroke="#777" stroke-width="0.42"/><line x1="38.75" y1="273.30" x2="38.75" y2="279.10" stroke="#555" stroke-width="0.42"/><line x1="39.70" y1="273.30" x2="39.70" y2="279.10" stroke="#888" stroke-width="0.42"/><line x1="40.89" y1="273.30" x2="40.89" y2="279.10" stroke="#444" stroke-width="0.42"/><line x1="41.84" y1="273.30" x2="41.84" y2="279.10" stroke="#666" stroke-width="0.42"/><line x1="42.79" y1="273.30" x2="42.79" y2="279.10" stroke="#555" stroke-width="0.42"/><line x1="43.97" y1="273.30" x2="43.97" y2="279.10" stroke="#777" stroke-width="0.42"/><line x1="45.16" y1="273.30" x2="45.16" y2="279.10" stroke="#444" stroke-width="0.42"/><line x1="53.24" y1="273.30" x2="53.24" y2="279.10" stroke="#666" stroke-width="0.42"/><line x1="54.19" y1="273.30" x2="54.19" y2="279.10" stroke="#888" stroke-width="0.42"/><line x1="55.14" y1="273.30" x2="55.14" y2="279.10" stroke="#555" stroke-width="0.42"/><line x1="56.33" y1="273.30" x2="56.33" y2="279.10" stroke="#777" stroke-width="0.42"/><line x1="59.17" y1="273.30" x2="59.17" y2="279.10" stroke="#555" stroke-width="0.42"/><line x1="70.10" y1="273.30" x2="70.10" y2="279.10" stroke="#444" stroke-width="0.42"/><defs><linearGradient id="rb24" x1="0" x2="1" y1="0" y2="0"><stop offset="0" stop-color="#e02a34"/><stop offset="0.28" stop-color="#e84858"/><stop offset="0.33" stop-color="#f0a0c0"/><stop offset="0.45" stop-color="#f0b8d4"/><stop offset="0.5" stop-color="#d0d0ec"/><stop offset="0.7" stop-color="#b8b8e0"/><stop offset="0.76" stop-color="#5a5ab8"/><stop offset="1" stop-color="#2a2a9a"/></linearGradient></defs><rect x="30.20" y="279.60" width="47.50" height="1.7" fill="url(#rb24)"/><text x="31.20" y="282.60" font-size="1.2" fill="#e03030">'WT' (positively correlated)</text><line x1="30.20" y1="284.70" x2="77.70" y2="285.80" stroke="#ccc" stroke-width="0.5"/><polyline points="30.20,283.20 31.70,284.60 75.70,285.80 77.20,287.70" fill="none" stroke="#777" stroke-width="0.4"/><line x1="53.47" y1="282.20" x2="53.47" y2="295.80" stroke="#bbb" stroke-width="0.3"/><text x="46.83" y="287.80" font-size="1.4" fill="#444">Zero cross at 9966</text><text x="56.33" y="294.70" font-size="1.4" fill="#4040c0">'Parp' (negatively correlated)</text><line x1="30.20" y1="295.80" x2="77.70" y2="295.80" stroke="#aaa" stroke-width="0.25"/><rect x="30.20" y="299.30" width="47.50" height="2.2" fill="#fafaf5" stroke="#aaa" stroke-width="0.25"/><line x1="31.20" y1="300.40" x2="33.20" y2="300.40" stroke="#80d05e" stroke-width="0.5"/><text x="33.70" y="300.90" font-size="1.3" fill="#555">Enrichment profile    Hits    Ranking metric scores</text><text x="26.80" y="262.50" font-size="1.3" fill="#333" text-anchor="middle" transform="rotate(-90 26.80 262.50)">Enrichment score (ES)</text><text x="26.80" y="289.50" font-size="1.3" fill="#333" text-anchor="middle" transform="rotate(-90 26.80 289.50)">Ranked list metric</text><line x1="28.50" y1="253.20" x2="29.90" y2="253.20" stroke="#999" stroke-width="0.45"/><line x1="28.50" y1="256.30" x2="29.90" y2="256.30" stroke="#999" stroke-width="0.45"/><line x1="28.50" y1="259.40" x2="29.90" y2="259.40" stroke="#999" stroke-width="0.45"/><line x1="28.50" y1="262.50" x2="29.90" y2="262.50" stroke="#999" stroke-width="0.45"/><line x1="28.50" y1="265.60" x2="29.90" y2="265.60" stroke="#999" stroke-width="0.45"/><line x1="28.50" y1="268.70" x2="29.90" y2="268.70" stroke="#999" stroke-width="0.45"/><line x1="28.50" y1="271.80" x2="29.90" y2="271.80" stroke="#999" stroke-width="0.45"/><line x1="28.50" y1="283.20" x2="29.90" y2="283.20" stroke="#999" stroke-width="0.45"/><line x1="28.50" y1="286.35" x2="29.90" y2="286.35" stroke="#999" stroke-width="0.45"/><line x1="28.50" y1="289.50" x2="29.90" y2="289.50" stroke="#999" stroke-width="0.45"/><line x1="28.50" y1="292.65" x2="29.90" y2="292.65" stroke="#999" stroke-width="0.45"/><line x1="28.50" y1="295.80" x2="29.90" y2="295.80" stroke="#999" stroke-width="0.45"/><line x1="31.20" y1="297.20" x2="32.60" y2="297.20" stroke="#888" stroke-width="0.4"/><line x1="38.78" y1="297.20" x2="40.18" y2="297.20" stroke="#888" stroke-width="0.4"/><line x1="46.37" y1="297.20" x2="47.77" y2="297.20" stroke="#888" stroke-width="0.4"/><line x1="53.95" y1="297.20" x2="55.35" y2="297.20" stroke="#888" stroke-width="0.4"/><line x1="61.53" y1="297.20" x2="62.93" y2="297.20" stroke="#888" stroke-width="0.4"/><line x1="69.12" y1="297.20" x2="70.52" y2="297.20" stroke="#888" stroke-width="0.4"/><line x1="76.70" y1="297.20" x2="78.10" y2="297.20" stroke="#888" stroke-width="0.4"/></g>
<g><rect x="171.80" y="245.40" width="56.20" height="56.40" fill="#ebe9d4" stroke="#bdbca5" stroke-width="0.35"/><rect x="177.80" y="253.40" width="48.90" height="42.00" fill="#fff" stroke="#bdbdbd" stroke-width="0.25"/><text x="199.90" y="248.10" font-size="2.3" font-weight="bold" text-anchor="middle" fill="#222" stroke="#222" stroke-width="0.15" textLength="19.0" lengthAdjust="spacingAndGlyphs">Enrichment plot:</text><text x="199.90" y="250.00" font-size="2.3" font-weight="bold" text-anchor="middle" fill="#222" stroke="#222" stroke-width="0.15" textLength="55.4" lengthAdjust="spacingAndGlyphs">REACTOME_INTRINSIC_APOPTOTIC_SIGNALING_PATHW</text><text x="199.90" y="252.00" font-size="2.3" font-weight="bold" text-anchor="middle" fill="#222" stroke="#222" stroke-width="0.15" textLength="10.4" lengthAdjust="spacingAndGlyphs">AY_BY_P53</text><line x1="177.80" y1="255.62" x2="226.70" y2="255.62" stroke="#e6e6e6" stroke-width="0.25"/><line x1="177.80" y1="257.85" x2="226.70" y2="257.85" stroke="#e6e6e6" stroke-width="0.25"/><line x1="177.80" y1="260.07" x2="226.70" y2="260.07" stroke="#e6e6e6" stroke-width="0.25"/><line x1="177.80" y1="262.30" x2="226.70" y2="262.30" stroke="#e6e6e6" stroke-width="0.25"/><line x1="177.80" y1="264.52" x2="226.70" y2="264.52" stroke="#e6e6e6" stroke-width="0.25"/><line x1="177.80" y1="266.75" x2="226.70" y2="266.75" stroke="#e6e6e6" stroke-width="0.25"/><line x1="177.80" y1="268.97" x2="226.70" y2="268.97" stroke="#e6e6e6" stroke-width="0.25"/><line x1="184.79" y1="253.40" x2="184.79" y2="271.20" stroke="#e6e6e6" stroke-width="0.25"/><line x1="191.77" y1="253.40" x2="191.77" y2="271.20" stroke="#e6e6e6" stroke-width="0.25"/><line x1="198.76" y1="253.40" x2="198.76" y2="271.20" stroke="#e6e6e6" stroke-width="0.25"/><line x1="205.74" y1="253.40" x2="205.74" y2="271.20" stroke="#e6e6e6" stroke-width="0.25"/><line x1="212.73" y1="253.40" x2="212.73" y2="271.20" stroke="#e6e6e6" stroke-width="0.25"/><line x1="219.71" y1="253.40" x2="219.71" y2="271.20" stroke="#e6e6e6" stroke-width="0.25"/><polyline points="177.80,268.60 183.67,272.60 183.91,259.70 186.60,260.60 188.56,257.00 190.03,259.70 192.47,254.30 202.25,258.00 210.07,262.90 211.05,261.80 213.01,263.50 224.25,269.50" fill="none" stroke="#80d05e" stroke-width="0.75"/><line x1="177.80" y1="271.20" x2="226.70" y2="271.20" stroke="#999" stroke-width="0.3"/><line x1="183.67" y1="271.70" x2="183.67" y2="277.50" stroke="#555" stroke-width="0.3"/><line x1="184.65" y1="271.70" x2="184.65" y2="277.50" stroke="#555" stroke-width="0.3"/><line x1="187.58" y1="271.70" x2="187.58" y2="277.50" stroke="#555" stroke-width="0.3"/><line x1="190.51" y1="271.70" x2="190.51" y2="277.50" stroke="#555" stroke-width="0.3"/><line x1="192.47" y1="271.70" x2="192.47" y2="277.50" stroke="#555" stroke-width="0.3"/><line x1="197.36" y1="271.70" x2="197.36" y2="277.50" stroke="#555" stroke-width="0.3"/><line x1="203.23" y1="271.70" x2="203.23" y2="277.50" stroke="#555" stroke-width="0.3"/><line x1="208.12" y1="271.70" x2="208.12" y2="277.50" stroke="#555" stroke-width="0.3"/><line x1="213.99" y1="271.70" x2="213.99" y2="277.50" stroke="#555" stroke-width="0.3"/><defs><linearGradient id="rb171" x1="0" x2="1" y1="0" y2="0"><stop offset="0" stop-color="#e02a34"/><stop offset="0.28" stop-color="#e84858"/><stop offset="0.33" stop-color="#f0a0c0"/><stop offset="0.45" stop-color="#f0b8d4"/><stop offset="0.5" stop-color="#d0d0ec"/><stop offset="0.7" stop-color="#b8b8e0"/><stop offset="0.76" stop-color="#5a5ab8"/><stop offset="1" stop-color="#2a2a9a"/></linearGradient></defs><rect x="177.80" y="278.00" width="48.90" height="1.7" fill="url(#rb171)"/><text x="178.80" y="281.00" font-size="1.2" fill="#e03030">'WT' (positively correlated)</text><line x1="177.80" y1="283.10" x2="226.70" y2="284.20" stroke="#ccc" stroke-width="0.5"/><polyline points="177.80,281.60 179.30,283.00 224.70,284.20 226.20,286.10" fill="none" stroke="#777" stroke-width="0.4"/><line x1="201.76" y1="280.60" x2="201.76" y2="294.20" stroke="#bbb" stroke-width="0.3"/><text x="194.91" y="286.20" font-size="1.4" fill="#444">Zero cross at 9966</text><text x="204.69" y="293.10" font-size="1.4" fill="#4040c0">'Parp' (negatively correlated)</text><line x1="177.80" y1="294.20" x2="226.70" y2="294.20" stroke="#aaa" stroke-width="0.25"/><rect x="177.80" y="298.40" width="48.90" height="2.2" fill="#fafaf5" stroke="#aaa" stroke-width="0.25"/><line x1="178.80" y1="299.50" x2="180.80" y2="299.50" stroke="#80d05e" stroke-width="0.5"/><text x="181.30" y="300.00" font-size="1.3" fill="#555">Enrichment profile    Hits    Ranking metric scores</text><text x="174.40" y="262.30" font-size="1.3" fill="#333" text-anchor="middle" transform="rotate(-90 174.40 262.30)">Enrichment score (ES)</text><text x="174.40" y="287.90" font-size="1.3" fill="#333" text-anchor="middle" transform="rotate(-90 174.40 287.90)">Ranked list metric</text><line x1="176.10" y1="254.40" x2="177.50" y2="254.40" stroke="#999" stroke-width="0.45"/><line x1="176.10" y1="257.03" x2="177.50" y2="257.03" stroke="#999" stroke-width="0.45"/><line x1="176.10" y1="259.67" x2="177.50" y2="259.67" stroke="#999" stroke-width="0.45"/><line x1="176.10" y1="262.30" x2="177.50" y2="262.30" stroke="#999" stroke-width="0.45"/><line x1="176.10" y1="264.93" x2="177.50" y2="264.93" stroke="#999" stroke-width="0.45"/><line x1="176.10" y1="267.57" x2="177.50" y2="267.57" stroke="#999" stroke-width="0.45"/><line x1="176.10" y1="270.20" x2="177.50" y2="270.20" stroke="#999" stroke-width="0.45"/><line x1="176.10" y1="281.60" x2="177.50" y2="281.60" stroke="#999" stroke-width="0.45"/><line x1="176.10" y1="284.75" x2="177.50" y2="284.75" stroke="#999" stroke-width="0.45"/><line x1="176.10" y1="287.90" x2="177.50" y2="287.90" stroke="#999" stroke-width="0.45"/><line x1="176.10" y1="291.05" x2="177.50" y2="291.05" stroke="#999" stroke-width="0.45"/><line x1="176.10" y1="294.20" x2="177.50" y2="294.20" stroke="#999" stroke-width="0.45"/><line x1="178.80" y1="295.60" x2="180.20" y2="295.60" stroke="#888" stroke-width="0.4"/><line x1="186.62" y1="295.60" x2="188.02" y2="295.60" stroke="#888" stroke-width="0.4"/><line x1="194.43" y1="295.60" x2="195.83" y2="295.60" stroke="#888" stroke-width="0.4"/><line x1="202.25" y1="295.60" x2="203.65" y2="295.60" stroke="#888" stroke-width="0.4"/><line x1="210.07" y1="295.60" x2="211.47" y2="295.60" stroke="#888" stroke-width="0.4"/><line x1="217.88" y1="295.60" x2="219.28" y2="295.60" stroke="#888" stroke-width="0.4"/><line x1="225.70" y1="295.60" x2="227.10" y2="295.60" stroke="#888" stroke-width="0.4"/></g>
<defs><linearGradient id="cs" x1="0" x2="1" y1="0" y2="0"><stop offset="0" stop-color="#2b3d96"/><stop offset="0.5" stop-color="#ffffff"/><stop offset="1" stop-color="#e81d25"/></linearGradient></defs>
<rect x="56.60" y="215.00" width="16.30" height="15.00" fill="url(#cs)" />
<text x="64.70" y="214.00" font-size="1.8" text-anchor="middle" fill="#888" >Scale</text>
<text x="64.70" y="232.40" font-size="1.3" text-anchor="middle" fill="#999" >-1.0 -0.5 0 0.5 1.0</text>
<rect x="86.20" y="227.60" width="20.75" height="10.15" fill="#e9565e" />
<rect x="86.20" y="237.40" width="20.75" height="15.05" fill="#ee7077" />
<rect x="86.20" y="252.10" width="20.75" height="5.25" fill="#f4a5ab" />
<rect x="86.20" y="257.00" width="20.75" height="5.25" fill="#dfe3f2" />
<rect x="86.20" y="261.90" width="20.75" height="5.25" fill="#f2939a" />
<rect x="86.20" y="266.80" width="20.75" height="5.25" fill="#f5b3b8" />
<rect x="86.20" y="271.70" width="20.75" height="19.95" fill="#3a52a3" />
<rect x="86.20" y="291.30" width="20.75" height="5.25" fill="#c9cde7" />
<rect x="86.20" y="296.20" width="20.75" height="19.95" fill="#3a52a3" />
<rect x="86.20" y="315.80" width="20.75" height="5.25" fill="#5a6cb4" />
<rect x="86.20" y="320.70" width="20.75" height="10.15" fill="#3a52a3" />
<rect x="86.20" y="330.50" width="20.75" height="4.90" fill="#f8cace" />
<rect x="106.60" y="227.60" width="20.85" height="10.15" fill="#f3a0a6" />
<rect x="106.60" y="237.40" width="20.85" height="15.05" fill="#f08990" />
<rect x="106.60" y="252.10" width="20.85" height="5.25" fill="#e84b53" />
<rect x="106.60" y="257.00" width="20.85" height="5.25" fill="#e8232b" />
<rect x="106.60" y="261.90" width="20.85" height="5.25" fill="#e8434b" />
<rect x="106.60" y="266.80" width="20.85" height="5.25" fill="#e83a42" />
<rect x="106.60" y="271.70" width="20.85" height="5.25" fill="#e83139" />
<rect x="106.60" y="276.60" width="20.85" height="10.15" fill="#e4e6f4" />
<rect x="106.60" y="286.40" width="20.85" height="5.25" fill="#f3a2a8" />
<rect x="106.60" y="291.30" width="20.85" height="15.05" fill="#e8252d" />
<rect x="106.60" y="306.00" width="20.85" height="10.15" fill="#ec5b63" />
<rect x="106.60" y="315.80" width="20.85" height="5.25" fill="#e8252d" />
<rect x="106.60" y="320.70" width="20.85" height="5.25" fill="#ffffff" />
<rect x="106.60" y="325.60" width="20.85" height="5.25" fill="#e8303a" />
<rect x="106.60" y="330.50" width="20.85" height="4.90" fill="#e8484f" />
<rect x="127.10" y="227.60" width="20.40" height="44.45" fill="#3a52a3" />
<rect x="127.10" y="271.70" width="20.40" height="5.25" fill="#fbe4e6" />
<rect x="127.10" y="276.60" width="20.40" height="10.15" fill="#e8252d" />
<rect x="127.10" y="286.40" width="20.40" height="5.25" fill="#e9535b" />
<rect x="127.10" y="291.30" width="20.40" height="5.25" fill="#4159a8" />
<rect x="127.10" y="296.20" width="20.40" height="5.25" fill="#fdeff0" />
<rect x="127.10" y="301.10" width="20.40" height="5.25" fill="#dde0f0" />
<rect x="127.10" y="306.00" width="20.40" height="5.25" fill="#f4a0a6" />
<rect x="127.10" y="310.90" width="20.40" height="5.25" fill="#f6c2c6" />
<rect x="127.10" y="315.80" width="20.40" height="5.25" fill="#8c98d0" />
<rect x="127.10" y="320.70" width="20.40" height="5.25" fill="#e8252d" />
<rect x="127.10" y="325.60" width="20.40" height="5.25" fill="#fdf1f2" />
<rect x="127.10" y="330.50" width="20.40" height="4.90" fill="#3a52a3" />
<text x="149.70" y="231.45" font-size="3.9" >Orc4</text>
<text x="149.70" y="236.35" font-size="3.9" >Hus1</text>
<text x="149.70" y="241.25" font-size="3.9" >Orc2</text>
<text x="149.70" y="246.15" font-size="3.9" >Orc5</text>
<text x="149.70" y="251.05" font-size="3.9" >Cdk2</text>
<text x="149.70" y="255.95" font-size="3.9" >Chek2</text>
<text x="149.70" y="260.85" font-size="3.9" >Rfc5</text>
<text x="149.70" y="265.75" font-size="3.9" >Dbf4</text>
<text x="149.70" y="270.65" font-size="3.9" >Cdc7</text>
<text x="149.70" y="275.55" font-size="3.9" >Mcm6</text>
<text x="149.70" y="280.45" font-size="3.9" >Cdk1</text>
<text x="149.70" y="285.35" font-size="3.9" >Mcm3</text>
<text x="149.70" y="290.25" font-size="3.9" >Cdc45</text>
<text x="149.70" y="295.15" font-size="3.9" >Wee1</text>
<text x="149.70" y="300.05" font-size="3.9" >Mcm7</text>
<text x="149.70" y="304.95" font-size="3.9" >Orc6</text>
<text x="149.70" y="309.85" font-size="3.9" >Rfc2</text>
<text x="149.70" y="314.75" font-size="3.9" >Mcm2</text>
<text x="149.70" y="319.65" font-size="3.9" >Cdc6</text>
<text x="149.70" y="324.55" font-size="3.9" >Rpa2</text>
<text x="149.70" y="329.45" font-size="3.9" >Mcm10</text>
<text x="149.70" y="334.35" font-size="3.9" >Atrip</text>
<rect x="232.80" y="227.70" width="20.15" height="11.45" fill="#e8484f" />
<rect x="232.80" y="238.80" width="20.15" height="11.45" fill="#a9b1dc" />
<rect x="232.80" y="249.90" width="20.15" height="11.45" fill="#ec5058" />
<rect x="232.80" y="261.00" width="20.15" height="11.45" fill="#f28a92" />
<rect x="232.80" y="272.10" width="20.15" height="11.45" fill="#b0b8e0" />
<rect x="232.80" y="283.20" width="20.15" height="11.45" fill="#fad8da" />
<rect x="232.80" y="294.30" width="20.15" height="44.40" fill="#3a52a3" />
<rect x="252.60" y="227.70" width="20.85" height="11.45" fill="#f8c8cc" />
<rect x="252.60" y="238.80" width="20.85" height="11.45" fill="#5060b0" />
<rect x="252.60" y="249.90" width="20.85" height="11.45" fill="#f4a0a8" />
<rect x="252.60" y="261.00" width="20.85" height="11.45" fill="#ec5a62" />
<rect x="252.60" y="272.10" width="20.85" height="11.45" fill="#ec1c24" />
<rect x="252.60" y="283.20" width="20.85" height="11.45" fill="#e84048" />
<rect x="252.60" y="294.30" width="20.85" height="11.45" fill="#ffffff" />
<rect x="252.60" y="305.40" width="20.85" height="11.45" fill="#ec5a62" />
<rect x="252.60" y="316.50" width="20.85" height="11.45" fill="#fce8ea" />
<rect x="252.60" y="327.60" width="20.85" height="11.10" fill="#f07880" />
<rect x="273.10" y="227.70" width="19.40" height="11.45" fill="#3a52a3" />
<rect x="273.10" y="238.80" width="19.40" height="11.45" fill="#ec1c24" />
<rect x="273.10" y="249.90" width="19.40" height="22.55" fill="#3a52a3" />
<rect x="273.10" y="272.10" width="19.40" height="11.45" fill="#4858a8" />
<rect x="273.10" y="283.20" width="19.40" height="11.45" fill="#3a52a3" />
<rect x="273.10" y="294.30" width="19.40" height="11.45" fill="#ec2830" />
<rect x="273.10" y="305.40" width="19.40" height="11.45" fill="#f4a8ae" />
<rect x="273.10" y="316.50" width="19.40" height="11.45" fill="#ec2830" />
<rect x="273.10" y="327.60" width="19.40" height="11.10" fill="#f08088" />
<text x="294.60" y="234.65" font-size="3.9" >Mff11</text>
<text x="294.60" y="245.75" font-size="3.9" >Hras</text>
<text x="294.60" y="256.85" font-size="3.9" >Mdh5</text>
<text x="294.60" y="267.95" font-size="3.9" >Diablo</text>
<text x="294.60" y="279.05" font-size="3.9" >Pmaip1</text>
<text x="294.60" y="290.15" font-size="3.9" >Nbn</text>
<text x="294.60" y="301.25" font-size="3.9" >Bax</text>
<text x="294.60" y="312.35" font-size="3.9" >Htra2</text>
<text x="294.60" y="323.45" font-size="3.9" >Bbc3</text>
<text x="294.60" y="334.55" font-size="3.9" >Casp4</text>
<text x="109.80" y="214.9" font-size="5.3">E<tspan font-size="3.5" dy="1.1">μ</tspan><tspan dy="-1.1">Myc</tspan></text>
<line x1="83.60" y1="217.00" x2="149.10" y2="217.00" stroke="#a0a0a0" stroke-width="0.9" />
<text x="91.40" y="225.10" font-size="5.0" textLength="7.70" lengthAdjust="spacingAndGlyphs" >WT</text>
<text x="108.80" y="225.10" font-size="5.0" textLength="12.06" lengthAdjust="spacingAndGlyphs" >Parp2</text>
<text x="121.19" y="223.00" font-size="3.4" textLength="3.91" lengthAdjust="spacingAndGlyphs" >−/−</text>
<text x="131.30" y="225.10" font-size="5.0" textLength="12.06" lengthAdjust="spacingAndGlyphs" >Parp1</text>
<text x="143.69" y="223.00" font-size="3.4" textLength="3.91" lengthAdjust="spacingAndGlyphs" >−/−</text>
<text x="256.70" y="214.9" font-size="5.3">E<tspan font-size="3.5" dy="1.1">μ</tspan><tspan dy="-1.1">Myc</tspan></text>
<line x1="234.80" y1="217.60" x2="292.10" y2="217.60" stroke="#a0a0a0" stroke-width="0.9" />
<text x="241.40" y="225.10" font-size="5.0" textLength="7.70" lengthAdjust="spacingAndGlyphs" >WT</text>
<text x="256.70" y="225.10" font-size="5.0" textLength="11.40" lengthAdjust="spacingAndGlyphs" >Parp2</text>
<text x="268.40" y="223.00" font-size="3.4" textLength="3.70" lengthAdjust="spacingAndGlyphs" >−/−</text>
<text x="276.20" y="225.10" font-size="5.0" textLength="11.40" lengthAdjust="spacingAndGlyphs" >Parp1</text>
<text x="287.90" y="223.00" font-size="3.4" textLength="3.70" lengthAdjust="spacingAndGlyphs" >−/−</text>
<text x="412.10" y="111.70" font-size="8.8" textLength="36.40" lengthAdjust="spacingAndGlyphs" >Cell cycle</text>
<text x="411.00" y="263.60" font-size="8.8" textLength="39.20" lengthAdjust="spacingAndGlyphs" >Apoptosis</text>
<text x="330.20" y="195.30" font-size="7.8" textLength="53.00" lengthAdjust="spacingAndGlyphs" transform="rotate(-90 330.20 195.30)" >Fold expression</text>
<text x="330.20" y="338.40" font-size="7.8" textLength="53.00" lengthAdjust="spacingAndGlyphs" transform="rotate(-90 330.20 338.40)" >Fold expression</text>
<line x1="352.90" y1="124.40" x2="352.90" y2="212.30" stroke="#222" stroke-width="0.9" />
<line x1="350.50" y1="212.30" x2="369.40" y2="212.30" stroke="#222" stroke-width="0.9" />
<line x1="350.50" y1="124.90" x2="352.90" y2="124.90" stroke="#222" stroke-width="0.9" />
<text x="347.40" y="127.64" font-size="7.6" text-anchor="end" fill="#333" >500</text>
<line x1="350.50" y1="142.38" x2="352.90" y2="142.38" stroke="#222" stroke-width="0.9" />
<text x="347.40" y="145.12" font-size="7.6" text-anchor="end" fill="#333" >400</text>
<line x1="350.50" y1="159.86" x2="352.90" y2="159.86" stroke="#222" stroke-width="0.9" />
<text x="347.40" y="162.60" font-size="7.6" text-anchor="end" fill="#333" >300</text>
<line x1="350.50" y1="177.34" x2="352.90" y2="177.34" stroke="#222" stroke-width="0.9" />
<text x="347.40" y="180.08" font-size="7.6" text-anchor="end" fill="#333" >200</text>
<line x1="350.50" y1="194.82" x2="352.90" y2="194.82" stroke="#222" stroke-width="0.9" />
<text x="347.40" y="197.56" font-size="7.6" text-anchor="end" fill="#333" >100</text>
<line x1="350.50" y1="212.30" x2="352.90" y2="212.30" stroke="#222" stroke-width="0.9" />
<text x="347.40" y="215.04" font-size="7.6" text-anchor="end" fill="#333" >0</text>
<rect x="359.00" y="134.30" width="4.00" height="78.00" fill="#0d4f8b" />
<line x1="361.00" y1="129.40" x2="361.00" y2="134.30" stroke="#555" stroke-width="0.5" />
<line x1="360.10" y1="129.40" x2="361.90" y2="129.40" stroke="#555" stroke-width="0.5" />
<line x1="366.00" y1="211.40" x2="367.60" y2="211.40" stroke="#333" stroke-width="0.6" />
<line x1="361.00" y1="212.30" x2="361.00" y2="214.00" stroke="#222" stroke-width="0.6" />
<line x1="350.20" y1="124.80" x2="359.20" y2="124.80" stroke="#222" stroke-width="0.75" />
<text x="357.00" y="125.10" font-size="6.3" text-anchor="middle" font-weight="bold" fill="#222" >***</text>
<line x1="362.50" y1="127.50" x2="367.50" y2="127.50" stroke="#222" stroke-width="0.75" />
<text x="364.80" y="127.80" font-size="6.3" text-anchor="middle" font-weight="bold" fill="#222" >***</text>
<line x1="382.70" y1="124.70" x2="382.70" y2="211.60" stroke="#222" stroke-width="0.9" />
<line x1="380.30" y1="211.60" x2="514.00" y2="211.60" stroke="#222" stroke-width="0.9" />
<line x1="380.30" y1="125.20" x2="382.70" y2="125.20" stroke="#222" stroke-width="0.9" />
<text x="377.50" y="127.94" font-size="7.6" text-anchor="end" fill="#333" >3</text>
<line x1="380.30" y1="154.00" x2="382.70" y2="154.00" stroke="#222" stroke-width="0.9" />
<text x="377.50" y="156.74" font-size="7.6" text-anchor="end" fill="#333" >2</text>
<line x1="380.30" y1="182.80" x2="382.70" y2="182.80" stroke="#222" stroke-width="0.9" />
<text x="377.50" y="185.54" font-size="7.6" text-anchor="end" fill="#333" >1</text>
<line x1="380.30" y1="211.60" x2="382.70" y2="211.60" stroke="#222" stroke-width="0.9" />
<text x="377.50" y="214.34" font-size="7.6" text-anchor="end" fill="#333" >0</text>
<rect x="385.20" y="182.80" width="3.10" height="28.80" fill="#c8102e" />
<line x1="386.75" y1="172.72" x2="386.75" y2="182.80" stroke="#555" stroke-width="0.55" />
<line x1="386.05" y1="172.72" x2="387.45" y2="172.72" stroke="#555" stroke-width="0.55" />
<rect x="388.30" y="139.60" width="3.10" height="72.00" fill="#0d4f8b" />
<line x1="389.85" y1="133.26" x2="389.85" y2="139.60" stroke="#555" stroke-width="0.55" />
<line x1="389.15" y1="133.26" x2="390.55" y2="133.26" stroke="#555" stroke-width="0.55" />
<rect x="391.40" y="160.34" width="3.10" height="51.26" fill="#3ab54a" />
<line x1="392.95" y1="149.10" x2="392.95" y2="160.34" stroke="#555" stroke-width="0.55" />
<line x1="392.25" y1="149.10" x2="393.65" y2="149.10" stroke="#555" stroke-width="0.55" />
<line x1="389.85" y1="211.60" x2="389.85" y2="213.30" stroke="#222" stroke-width="0.6" />
<text x="392.15" y="219.50" font-size="7.8" text-anchor="end" transform="rotate(-45 392.15 219.50)" >p21</text>
<rect x="399.46" y="182.80" width="3.10" height="28.80" fill="#c8102e" />
<line x1="401.01" y1="181.65" x2="401.01" y2="182.80" stroke="#555" stroke-width="0.55" />
<line x1="400.31" y1="181.65" x2="401.71" y2="181.65" stroke="#555" stroke-width="0.55" />
<rect x="402.56" y="166.96" width="3.10" height="44.64" fill="#0d4f8b" />
<line x1="404.11" y1="163.79" x2="404.11" y2="166.96" stroke="#555" stroke-width="0.55" />
<line x1="403.41" y1="163.79" x2="404.81" y2="163.79" stroke="#555" stroke-width="0.55" />
<rect x="405.66" y="186.83" width="3.10" height="24.77" fill="#3ab54a" />
<line x1="407.21" y1="185.68" x2="407.21" y2="186.83" stroke="#555" stroke-width="0.55" />
<line x1="406.51" y1="185.68" x2="407.91" y2="185.68" stroke="#555" stroke-width="0.55" />
<line x1="404.11" y1="211.60" x2="404.11" y2="213.30" stroke="#222" stroke-width="0.6" />
<text x="406.41" y="219.50" font-size="7.8" text-anchor="end" transform="rotate(-45 406.41 219.50)" >Atrip</text>
<rect x="413.72" y="182.80" width="3.10" height="28.80" fill="#c8102e" />
<line x1="415.27" y1="181.94" x2="415.27" y2="182.80" stroke="#555" stroke-width="0.55" />
<line x1="414.57" y1="181.94" x2="415.97" y2="181.94" stroke="#555" stroke-width="0.55" />
<rect x="416.82" y="175.31" width="3.10" height="36.29" fill="#0d4f8b" />
<line x1="418.37" y1="172.72" x2="418.37" y2="175.31" stroke="#555" stroke-width="0.55" />
<line x1="417.67" y1="172.72" x2="419.07" y2="172.72" stroke="#555" stroke-width="0.55" />
<rect x="419.92" y="181.94" width="3.10" height="29.66" fill="#3ab54a" />
<line x1="421.47" y1="181.07" x2="421.47" y2="181.94" stroke="#555" stroke-width="0.55" />
<line x1="420.77" y1="181.07" x2="422.17" y2="181.07" stroke="#555" stroke-width="0.55" />
<line x1="418.37" y1="211.60" x2="418.37" y2="213.30" stroke="#222" stroke-width="0.6" />
<text x="420.67" y="219.50" font-size="7.8" text-anchor="end" transform="rotate(-45 420.67 219.50)" >Rb1</text>
<rect x="427.98" y="182.80" width="3.10" height="28.80" fill="#c8102e" />
<line x1="429.53" y1="181.65" x2="429.53" y2="182.80" stroke="#555" stroke-width="0.55" />
<line x1="428.83" y1="181.65" x2="430.23" y2="181.65" stroke="#555" stroke-width="0.55" />
<rect x="431.08" y="179.34" width="3.10" height="32.26" fill="#0d4f8b" />
<line x1="432.63" y1="177.04" x2="432.63" y2="179.34" stroke="#555" stroke-width="0.55" />
<line x1="431.93" y1="177.04" x2="433.33" y2="177.04" stroke="#555" stroke-width="0.55" />
<rect x="434.18" y="182.22" width="3.10" height="29.38" fill="#3ab54a" />
<line x1="435.73" y1="181.36" x2="435.73" y2="182.22" stroke="#555" stroke-width="0.55" />
<line x1="435.03" y1="181.36" x2="436.43" y2="181.36" stroke="#555" stroke-width="0.55" />
<line x1="432.63" y1="211.60" x2="432.63" y2="213.30" stroke="#222" stroke-width="0.6" />
<text x="434.93" y="219.50" font-size="7.8" text-anchor="end" transform="rotate(-45 434.93 219.50)" >E2F1</text>
<rect x="442.24" y="182.80" width="3.10" height="28.80" fill="#c8102e" />
<line x1="443.79" y1="180.78" x2="443.79" y2="182.80" stroke="#555" stroke-width="0.55" />
<line x1="443.09" y1="180.78" x2="444.49" y2="180.78" stroke="#555" stroke-width="0.55" />
<rect x="445.34" y="180.50" width="3.10" height="31.10" fill="#0d4f8b" />
<line x1="446.89" y1="177.90" x2="446.89" y2="180.50" stroke="#555" stroke-width="0.55" />
<line x1="446.19" y1="177.90" x2="447.59" y2="177.90" stroke="#555" stroke-width="0.55" />
<rect x="448.44" y="190.00" width="3.10" height="21.60" fill="#3ab54a" />
<line x1="449.99" y1="188.56" x2="449.99" y2="190.00" stroke="#555" stroke-width="0.55" />
<line x1="449.29" y1="188.56" x2="450.69" y2="188.56" stroke="#555" stroke-width="0.55" />
<line x1="446.89" y1="211.60" x2="446.89" y2="213.30" stroke="#222" stroke-width="0.6" />
<text x="449.19" y="219.50" font-size="7.8" text-anchor="end" transform="rotate(-45 449.19 219.50)" >Chek2</text>
<rect x="456.50" y="182.80" width="3.10" height="28.80" fill="#c8102e" />
<line x1="458.05" y1="175.89" x2="458.05" y2="182.80" stroke="#555" stroke-width="0.55" />
<line x1="457.35" y1="175.89" x2="458.75" y2="175.89" stroke="#555" stroke-width="0.55" />
<rect x="459.60" y="201.23" width="3.10" height="10.37" fill="#0d4f8b" />
<line x1="461.15" y1="199.50" x2="461.15" y2="201.23" stroke="#555" stroke-width="0.55" />
<line x1="460.45" y1="199.50" x2="461.85" y2="199.50" stroke="#555" stroke-width="0.55" />
<rect x="462.70" y="200.66" width="3.10" height="10.94" fill="#3ab54a" />
<line x1="464.25" y1="198.64" x2="464.25" y2="200.66" stroke="#555" stroke-width="0.55" />
<line x1="463.55" y1="198.64" x2="464.95" y2="198.64" stroke="#555" stroke-width="0.55" />
<line x1="461.15" y1="211.60" x2="461.15" y2="213.30" stroke="#222" stroke-width="0.6" />
<text x="463.45" y="219.50" font-size="7.8" text-anchor="end" transform="rotate(-45 463.45 219.50)" >Ccnd1</text>
<rect x="470.76" y="182.80" width="3.10" height="28.80" fill="#c8102e" />
<line x1="472.31" y1="177.90" x2="472.31" y2="182.80" stroke="#555" stroke-width="0.55" />
<line x1="471.61" y1="177.90" x2="473.01" y2="177.90" stroke="#555" stroke-width="0.55" />
<rect x="473.86" y="204.69" width="3.10" height="6.91" fill="#0d4f8b" />
<line x1="475.41" y1="202.67" x2="475.41" y2="204.69" stroke="#555" stroke-width="0.55" />
<line x1="474.71" y1="202.67" x2="476.11" y2="202.67" stroke="#555" stroke-width="0.55" />
<rect x="476.96" y="187.98" width="3.10" height="23.62" fill="#3ab54a" />
<line x1="478.51" y1="184.24" x2="478.51" y2="187.98" stroke="#555" stroke-width="0.55" />
<line x1="477.81" y1="184.24" x2="479.21" y2="184.24" stroke="#555" stroke-width="0.55" />
<line x1="475.41" y1="211.60" x2="475.41" y2="213.30" stroke="#222" stroke-width="0.6" />
<text x="477.71" y="219.50" font-size="7.8" text-anchor="end" transform="rotate(-45 477.71 219.50)" >Cdkn1c</text>
<rect x="485.02" y="182.80" width="3.10" height="28.80" fill="#c8102e" />
<line x1="486.57" y1="181.36" x2="486.57" y2="182.80" stroke="#555" stroke-width="0.55" />
<line x1="485.87" y1="181.36" x2="487.27" y2="181.36" stroke="#555" stroke-width="0.55" />
<rect x="488.12" y="181.65" width="3.10" height="29.95" fill="#0d4f8b" />
<line x1="489.67" y1="177.90" x2="489.67" y2="181.65" stroke="#555" stroke-width="0.55" />
<line x1="488.97" y1="177.90" x2="490.37" y2="177.90" stroke="#555" stroke-width="0.55" />
<rect x="491.22" y="183.95" width="3.10" height="27.65" fill="#3ab54a" />
<line x1="492.77" y1="182.80" x2="492.77" y2="183.95" stroke="#555" stroke-width="0.55" />
<line x1="492.07" y1="182.80" x2="493.47" y2="182.80" stroke="#555" stroke-width="0.55" />
<line x1="489.67" y1="211.60" x2="489.67" y2="213.30" stroke="#222" stroke-width="0.6" />
<text x="491.97" y="219.50" font-size="7.8" text-anchor="end" transform="rotate(-45 491.97 219.50)" >Ccng1</text>
<rect x="499.28" y="182.80" width="3.10" height="28.80" fill="#c8102e" />
<line x1="500.83" y1="181.94" x2="500.83" y2="182.80" stroke="#555" stroke-width="0.55" />
<line x1="500.13" y1="181.94" x2="501.53" y2="181.94" stroke="#555" stroke-width="0.55" />
<rect x="502.38" y="181.65" width="3.10" height="29.95" fill="#0d4f8b" />
<line x1="503.93" y1="180.50" x2="503.93" y2="181.65" stroke="#555" stroke-width="0.55" />
<line x1="503.23" y1="180.50" x2="504.63" y2="180.50" stroke="#555" stroke-width="0.55" />
<rect x="505.48" y="175.60" width="3.10" height="36.00" fill="#3ab54a" />
<line x1="507.03" y1="168.69" x2="507.03" y2="175.60" stroke="#555" stroke-width="0.55" />
<line x1="506.33" y1="168.69" x2="507.73" y2="168.69" stroke="#555" stroke-width="0.55" />
<line x1="503.93" y1="211.60" x2="503.93" y2="213.30" stroke="#222" stroke-width="0.6" />
<text x="506.23" y="219.50" font-size="7.8" text-anchor="end" transform="rotate(-45 506.23 219.50)" >Ccnb1</text>
<text x="363.30" y="219.50" font-size="7.8" text-anchor="end" transform="rotate(-45 363.30 219.50)" >Ccnb1ip1</text>
<line x1="385.00" y1="122.30" x2="395.00" y2="122.30" stroke="#222" stroke-width="0.75" />
<text x="390.20" y="122.60" font-size="6.3" text-anchor="middle" font-weight="bold" fill="#222" >**</text>
<line x1="384.00" y1="127.50" x2="389.20" y2="127.50" stroke="#222" stroke-width="0.75" />
<text x="387.50" y="127.80" font-size="6.3" text-anchor="middle" font-weight="bold" fill="#222" >***</text>
<line x1="389.00" y1="130.00" x2="394.50" y2="130.00" stroke="#222" stroke-width="0.75" />
<text x="392.50" y="130.30" font-size="6.3" text-anchor="middle" font-weight="bold" fill="#222" >*</text>
<line x1="397.90" y1="160.60" x2="403.60" y2="160.60" stroke="#222" stroke-width="0.75" />
<text x="400.75" y="160.90" font-size="6.3" text-anchor="middle" font-weight="bold" fill="#222" >**</text>
<line x1="404.60" y1="160.60" x2="410.20" y2="160.60" stroke="#222" stroke-width="0.75" />
<text x="407.40" y="160.90" font-size="6.3" text-anchor="middle" font-weight="bold" fill="#222" >**</text>
<line x1="412.90" y1="168.60" x2="418.80" y2="168.60" stroke="#222" stroke-width="0.75" />
<text x="415.80" y="168.90" font-size="6.3" text-anchor="middle" font-weight="bold" fill="#222" >*</text>
<line x1="442.80" y1="166.70" x2="452.90" y2="166.70" stroke="#222" stroke-width="0.75" />
<text x="448.10" y="167.00" font-size="6.3" text-anchor="middle" font-weight="bold" fill="#222" >*</text>
<line x1="446.10" y1="173.30" x2="452.10" y2="173.30" stroke="#222" stroke-width="0.75" />
<text x="449.30" y="173.60" font-size="6.3" text-anchor="middle" font-weight="bold" fill="#222" >*</text>
<line x1="457.00" y1="166.70" x2="467.10" y2="166.70" stroke="#222" stroke-width="0.75" />
<text x="461.80" y="167.00" font-size="6.3" text-anchor="middle" font-weight="bold" fill="#222" >*</text>
<line x1="457.00" y1="172.90" x2="462.60" y2="172.90" stroke="#222" stroke-width="0.75" />
<text x="459.80" y="173.20" font-size="6.3" text-anchor="middle" font-weight="bold" fill="#222" >*</text>
<line x1="469.90" y1="173.30" x2="475.10" y2="173.30" stroke="#222" stroke-width="0.75" />
<text x="472.30" y="173.60" font-size="6.3" text-anchor="middle" font-weight="bold" fill="#222" >*</text>
<line x1="473.90" y1="175.00" x2="479.20" y2="175.00" stroke="#222" stroke-width="0.75" />
<text x="476.30" y="175.30" font-size="6.3" text-anchor="middle" font-weight="bold" fill="#222" >*</text>
<rect x="448.50" y="125.10" width="4.60" height="4.60" fill="#c8102e" />
<text x="456.10" y="129.90" font-size="6.2" textLength="21.30" lengthAdjust="spacingAndGlyphs" >Eμ-Myc</text>
<text x="477.90" y="128.20" font-size="5.7" textLength="7.90" lengthAdjust="spacingAndGlyphs" >T/+</text>
<rect x="448.50" y="132.40" width="4.60" height="4.60" fill="#0d4f8b" />
<text x="456.10" y="137.20" font-size="6.2" textLength="21.30" lengthAdjust="spacingAndGlyphs" >Eμ-Myc</text>
<text x="477.90" y="135.50" font-size="5.7" textLength="7.90" lengthAdjust="spacingAndGlyphs" >T/+</text>
<text x="485.80" y="137.20" font-size="6.2" textLength="19.20" lengthAdjust="spacingAndGlyphs" >Parp-2</text>
<text x="505.30" y="135.50" font-size="5.7" textLength="7.50" lengthAdjust="spacingAndGlyphs" >−/−</text>
<rect x="448.50" y="139.60" width="4.60" height="4.60" fill="#3ab54a" />
<text x="456.10" y="144.40" font-size="6.2" textLength="21.30" lengthAdjust="spacingAndGlyphs" >Eμ-Myc</text>
<text x="477.90" y="142.70" font-size="5.7" textLength="7.90" lengthAdjust="spacingAndGlyphs" >T/+</text>
<text x="485.80" y="144.40" font-size="6.2" textLength="19.20" lengthAdjust="spacingAndGlyphs" >Parp-1</text>
<text x="505.30" y="142.70" font-size="5.7" textLength="7.50" lengthAdjust="spacingAndGlyphs" >−/−</text>
<line x1="352.80" y1="270.10" x2="352.80" y2="354.10" stroke="#222" stroke-width="0.9" />
<line x1="350.60" y1="354.10" x2="499.50" y2="354.10" stroke="#222" stroke-width="0.9" />
<line x1="350.60" y1="270.60" x2="352.80" y2="270.60" stroke="#222" stroke-width="0.9" />
<text x="347.60" y="273.34" font-size="7.6" text-anchor="end" fill="#333" >2.5</text>
<line x1="350.60" y1="287.30" x2="352.80" y2="287.30" stroke="#222" stroke-width="0.9" />
<text x="347.60" y="290.04" font-size="7.6" text-anchor="end" fill="#333" >2.0</text>
<line x1="350.60" y1="304.00" x2="352.80" y2="304.00" stroke="#222" stroke-width="0.9" />
<text x="347.60" y="306.74" font-size="7.6" text-anchor="end" fill="#333" >1.5</text>
<line x1="350.60" y1="320.70" x2="352.80" y2="320.70" stroke="#222" stroke-width="0.9" />
<text x="347.60" y="323.44" font-size="7.6" text-anchor="end" fill="#333" >1.0</text>
<line x1="350.60" y1="337.40" x2="352.80" y2="337.40" stroke="#222" stroke-width="0.9" />
<text x="347.60" y="340.14" font-size="7.6" text-anchor="end" fill="#333" >0.5</text>
<line x1="350.60" y1="354.10" x2="352.80" y2="354.10" stroke="#222" stroke-width="0.9" />
<text x="347.60" y="356.84" font-size="7.6" text-anchor="end" fill="#333" >0.0</text>
<rect x="354.70" y="321.37" width="3.20" height="32.73" fill="#c8102e" />
<line x1="356.30" y1="315.69" x2="356.30" y2="321.37" stroke="#555" stroke-width="0.55" />
<line x1="355.60" y1="315.69" x2="357.00" y2="315.69" stroke="#555" stroke-width="0.55" />
<rect x="357.90" y="314.35" width="3.20" height="39.75" fill="#0d4f8b" />
<line x1="359.50" y1="307.67" x2="359.50" y2="314.35" stroke="#555" stroke-width="0.55" />
<line x1="358.80" y1="307.67" x2="360.20" y2="307.67" stroke="#555" stroke-width="0.55" />
<rect x="361.10" y="311.01" width="3.20" height="43.09" fill="#3ab54a" />
<line x1="362.70" y1="306.34" x2="362.70" y2="311.01" stroke="#555" stroke-width="0.55" />
<line x1="362.00" y1="306.34" x2="363.40" y2="306.34" stroke="#555" stroke-width="0.55" />
<line x1="359.50" y1="354.10" x2="359.50" y2="355.80" stroke="#222" stroke-width="0.6" />
<text x="361.80" y="362.00" font-size="7.8" text-anchor="end" transform="rotate(-45 361.80 362.00)" >Bad</text>
<rect x="367.86" y="320.70" width="3.20" height="33.40" fill="#c8102e" />
<line x1="369.46" y1="318.36" x2="369.46" y2="320.70" stroke="#555" stroke-width="0.55" />
<line x1="368.76" y1="318.36" x2="370.16" y2="318.36" stroke="#555" stroke-width="0.55" />
<rect x="371.06" y="322.04" width="3.20" height="32.06" fill="#0d4f8b" />
<line x1="372.66" y1="320.03" x2="372.66" y2="322.04" stroke="#555" stroke-width="0.55" />
<line x1="371.96" y1="320.03" x2="373.36" y2="320.03" stroke="#555" stroke-width="0.55" />
<rect x="374.26" y="308.01" width="3.20" height="46.09" fill="#3ab54a" />
<line x1="375.86" y1="301.33" x2="375.86" y2="308.01" stroke="#555" stroke-width="0.55" />
<line x1="375.16" y1="301.33" x2="376.56" y2="301.33" stroke="#555" stroke-width="0.55" />
<line x1="372.66" y1="354.10" x2="372.66" y2="355.80" stroke="#222" stroke-width="0.6" />
<text x="374.96" y="362.00" font-size="7.8" text-anchor="end" transform="rotate(-45 374.96 362.00)" >Bak1</text>
<rect x="381.02" y="320.70" width="3.20" height="33.40" fill="#c8102e" />
<line x1="382.62" y1="317.03" x2="382.62" y2="320.70" stroke="#555" stroke-width="0.55" />
<line x1="381.92" y1="317.03" x2="383.32" y2="317.03" stroke="#555" stroke-width="0.55" />
<rect x="384.22" y="313.35" width="3.20" height="40.75" fill="#0d4f8b" />
<line x1="385.82" y1="309.34" x2="385.82" y2="313.35" stroke="#555" stroke-width="0.55" />
<line x1="385.12" y1="309.34" x2="386.52" y2="309.34" stroke="#555" stroke-width="0.55" />
<rect x="387.42" y="314.69" width="3.20" height="39.41" fill="#3ab54a" />
<line x1="389.02" y1="310.35" x2="389.02" y2="314.69" stroke="#555" stroke-width="0.55" />
<line x1="388.32" y1="310.35" x2="389.72" y2="310.35" stroke="#555" stroke-width="0.55" />
<line x1="385.82" y1="354.10" x2="385.82" y2="355.80" stroke="#222" stroke-width="0.6" />
<text x="388.12" y="362.00" font-size="7.8" text-anchor="end" transform="rotate(-45 388.12 362.00)" >Bax</text>
<rect x="394.18" y="320.70" width="3.20" height="33.40" fill="#c8102e" />
<line x1="395.78" y1="317.03" x2="395.78" y2="320.70" stroke="#555" stroke-width="0.55" />
<line x1="395.08" y1="317.03" x2="396.48" y2="317.03" stroke="#555" stroke-width="0.55" />
<rect x="397.38" y="316.36" width="3.20" height="37.74" fill="#0d4f8b" />
<line x1="398.98" y1="310.35" x2="398.98" y2="316.36" stroke="#555" stroke-width="0.55" />
<line x1="398.28" y1="310.35" x2="399.68" y2="310.35" stroke="#555" stroke-width="0.55" />
<rect x="400.58" y="311.01" width="3.20" height="43.09" fill="#3ab54a" />
<line x1="402.18" y1="303.00" x2="402.18" y2="311.01" stroke="#555" stroke-width="0.55" />
<line x1="401.48" y1="303.00" x2="402.88" y2="303.00" stroke="#555" stroke-width="0.55" />
<line x1="398.98" y1="354.10" x2="398.98" y2="355.80" stroke="#222" stroke-width="0.6" />
<text x="401.28" y="362.00" font-size="7.8" text-anchor="end" transform="rotate(-45 401.28 362.00)" >Bclxl</text>
<rect x="407.34" y="320.70" width="3.20" height="33.40" fill="#c8102e" />
<line x1="408.94" y1="318.36" x2="408.94" y2="320.70" stroke="#555" stroke-width="0.55" />
<line x1="408.24" y1="318.36" x2="409.64" y2="318.36" stroke="#555" stroke-width="0.55" />
<rect x="410.54" y="335.40" width="3.20" height="18.70" fill="#0d4f8b" />
<line x1="412.14" y1="332.39" x2="412.14" y2="335.40" stroke="#555" stroke-width="0.55" />
<line x1="411.44" y1="332.39" x2="412.84" y2="332.39" stroke="#555" stroke-width="0.55" />
<rect x="413.74" y="325.04" width="3.20" height="29.06" fill="#3ab54a" />
<line x1="415.34" y1="323.71" x2="415.34" y2="325.04" stroke="#555" stroke-width="0.55" />
<line x1="414.64" y1="323.71" x2="416.04" y2="323.71" stroke="#555" stroke-width="0.55" />
<line x1="412.14" y1="354.10" x2="412.14" y2="355.80" stroke="#222" stroke-width="0.6" />
<text x="414.44" y="362.00" font-size="7.8" text-anchor="end" transform="rotate(-45 414.44 362.00)" >Bcl2</text>
<rect x="420.50" y="320.70" width="3.20" height="33.40" fill="#c8102e" />
<line x1="422.10" y1="318.70" x2="422.10" y2="320.70" stroke="#555" stroke-width="0.55" />
<line x1="421.40" y1="318.70" x2="422.80" y2="318.70" stroke="#555" stroke-width="0.55" />
<rect x="423.70" y="326.04" width="3.20" height="28.06" fill="#0d4f8b" />
<line x1="425.30" y1="324.04" x2="425.30" y2="326.04" stroke="#555" stroke-width="0.55" />
<line x1="424.60" y1="324.04" x2="426.00" y2="324.04" stroke="#555" stroke-width="0.55" />
<rect x="426.90" y="326.38" width="3.20" height="27.72" fill="#3ab54a" />
<line x1="428.50" y1="324.71" x2="428.50" y2="326.38" stroke="#555" stroke-width="0.55" />
<line x1="427.80" y1="324.71" x2="429.20" y2="324.71" stroke="#555" stroke-width="0.55" />
<line x1="425.30" y1="354.10" x2="425.30" y2="355.80" stroke="#222" stroke-width="0.6" />
<text x="427.60" y="362.00" font-size="7.8" text-anchor="end" transform="rotate(-45 427.60 362.00)" >Bid</text>
<rect x="433.66" y="320.37" width="3.20" height="33.73" fill="#c8102e" />
<line x1="435.26" y1="318.03" x2="435.26" y2="320.37" stroke="#555" stroke-width="0.55" />
<line x1="434.56" y1="318.03" x2="435.96" y2="318.03" stroke="#555" stroke-width="0.55" />
<rect x="436.86" y="305.34" width="3.20" height="48.76" fill="#0d4f8b" />
<line x1="438.46" y1="295.98" x2="438.46" y2="305.34" stroke="#555" stroke-width="0.55" />
<line x1="437.76" y1="295.98" x2="439.16" y2="295.98" stroke="#555" stroke-width="0.55" />
<rect x="440.06" y="289.64" width="3.20" height="64.46" fill="#3ab54a" />
<line x1="441.66" y1="279.62" x2="441.66" y2="289.64" stroke="#555" stroke-width="0.55" />
<line x1="440.96" y1="279.62" x2="442.36" y2="279.62" stroke="#555" stroke-width="0.55" />
<line x1="438.46" y1="354.10" x2="438.46" y2="355.80" stroke="#222" stroke-width="0.6" />
<text x="440.76" y="362.00" font-size="7.8" text-anchor="end" transform="rotate(-45 440.76 362.00)" >Bim</text>
<rect x="446.82" y="320.37" width="3.20" height="33.73" fill="#c8102e" />
<line x1="448.42" y1="318.03" x2="448.42" y2="320.37" stroke="#555" stroke-width="0.55" />
<line x1="447.72" y1="318.03" x2="449.12" y2="318.03" stroke="#555" stroke-width="0.55" />
<rect x="450.02" y="326.71" width="3.20" height="27.39" fill="#0d4f8b" />
<line x1="451.62" y1="325.04" x2="451.62" y2="326.71" stroke="#555" stroke-width="0.55" />
<line x1="450.92" y1="325.04" x2="452.32" y2="325.04" stroke="#555" stroke-width="0.55" />
<rect x="453.22" y="321.37" width="3.20" height="32.73" fill="#3ab54a" />
<line x1="454.82" y1="319.36" x2="454.82" y2="321.37" stroke="#555" stroke-width="0.55" />
<line x1="454.12" y1="319.36" x2="455.52" y2="319.36" stroke="#555" stroke-width="0.55" />
<line x1="451.62" y1="354.10" x2="451.62" y2="355.80" stroke="#222" stroke-width="0.6" />
<text x="453.92" y="362.00" font-size="7.8" text-anchor="end" transform="rotate(-45 453.92 362.00)" >Diablo</text>
<rect x="459.98" y="320.70" width="3.20" height="33.40" fill="#c8102e" />
<line x1="461.58" y1="318.03" x2="461.58" y2="320.70" stroke="#555" stroke-width="0.55" />
<line x1="460.88" y1="318.03" x2="462.28" y2="318.03" stroke="#555" stroke-width="0.55" />
<rect x="463.18" y="300.66" width="3.20" height="53.44" fill="#0d4f8b" />
<line x1="464.78" y1="296.65" x2="464.78" y2="300.66" stroke="#555" stroke-width="0.55" />
<line x1="464.08" y1="296.65" x2="465.48" y2="296.65" stroke="#555" stroke-width="0.55" />
<rect x="466.38" y="321.70" width="3.20" height="32.40" fill="#3ab54a" />
<line x1="467.98" y1="313.02" x2="467.98" y2="321.70" stroke="#555" stroke-width="0.55" />
<line x1="467.28" y1="313.02" x2="468.68" y2="313.02" stroke="#555" stroke-width="0.55" />
<line x1="464.78" y1="354.10" x2="464.78" y2="355.80" stroke="#222" stroke-width="0.6" />
<text x="467.08" y="362.00" font-size="7.8" text-anchor="end" transform="rotate(-45 467.08 362.00)" >Uaca</text>
<rect x="473.14" y="320.70" width="3.20" height="33.40" fill="#c8102e" />
<line x1="474.74" y1="318.03" x2="474.74" y2="320.70" stroke="#555" stroke-width="0.55" />
<line x1="474.04" y1="318.03" x2="475.44" y2="318.03" stroke="#555" stroke-width="0.55" />
<rect x="476.34" y="298.99" width="3.20" height="55.11" fill="#0d4f8b" />
<line x1="477.94" y1="291.64" x2="477.94" y2="298.99" stroke="#555" stroke-width="0.55" />
<line x1="477.24" y1="291.64" x2="478.64" y2="291.64" stroke="#555" stroke-width="0.55" />
<rect x="479.54" y="296.99" width="3.20" height="57.11" fill="#3ab54a" />
<line x1="481.14" y1="288.30" x2="481.14" y2="296.99" stroke="#555" stroke-width="0.55" />
<line x1="480.44" y1="288.30" x2="481.84" y2="288.30" stroke="#555" stroke-width="0.55" />
<line x1="477.94" y1="354.10" x2="477.94" y2="355.80" stroke="#222" stroke-width="0.6" />
<text x="480.24" y="362.00" font-size="7.8" text-anchor="end" transform="rotate(-45 480.24 362.00)" >Puma</text>
<rect x="486.30" y="320.70" width="3.20" height="33.40" fill="#c8102e" />
<line x1="487.90" y1="318.03" x2="487.90" y2="320.70" stroke="#555" stroke-width="0.55" />
<line x1="487.20" y1="318.03" x2="488.60" y2="318.03" stroke="#555" stroke-width="0.55" />
<rect x="489.50" y="325.71" width="3.20" height="28.39" fill="#0d4f8b" />
<line x1="491.10" y1="322.70" x2="491.10" y2="325.71" stroke="#555" stroke-width="0.55" />
<line x1="490.40" y1="322.70" x2="491.80" y2="322.70" stroke="#555" stroke-width="0.55" />
<rect x="492.70" y="318.03" width="3.20" height="36.07" fill="#3ab54a" />
<line x1="494.30" y1="312.02" x2="494.30" y2="318.03" stroke="#555" stroke-width="0.55" />
<line x1="493.60" y1="312.02" x2="495.00" y2="312.02" stroke="#555" stroke-width="0.55" />
<line x1="491.10" y1="354.10" x2="491.10" y2="355.80" stroke="#222" stroke-width="0.6" />
<text x="493.40" y="362.00" font-size="7.8" text-anchor="end" transform="rotate(-45 493.40 362.00)" >Noxa</text>
<line x1="407.10" y1="314.50" x2="412.80" y2="314.50" stroke="#222" stroke-width="0.75" />
<text x="410.20" y="314.80" font-size="6.3" text-anchor="middle" font-weight="bold" fill="#222" >*</text>
<line x1="410.50" y1="319.30" x2="416.50" y2="319.30" stroke="#222" stroke-width="0.75" />
<text x="414.00" y="319.60" font-size="6.3" text-anchor="middle" font-weight="bold" fill="#222" >*</text>
<line x1="431.00" y1="277.80" x2="442.10" y2="277.80" stroke="#222" stroke-width="0.75" />
<text x="436.50" y="278.10" font-size="6.3" text-anchor="middle" font-weight="bold" fill="#222" >*</text>
<line x1="457.90" y1="295.40" x2="463.70" y2="295.40" stroke="#222" stroke-width="0.75" />
<text x="461.00" y="295.70" font-size="6.3" text-anchor="middle" font-weight="bold" fill="#222" >**</text>
<line x1="464.20" y1="294.50" x2="469.80" y2="294.50" stroke="#222" stroke-width="0.75" />
<text x="467.10" y="294.80" font-size="6.3" text-anchor="middle" font-weight="bold" fill="#222" >*</text>
<line x1="472.10" y1="290.80" x2="477.50" y2="290.80" stroke="#222" stroke-width="0.75" />
<text x="474.60" y="291.10" font-size="6.3" text-anchor="middle" font-weight="bold" fill="#222" >*</text>
<line x1="471.20" y1="282.70" x2="481.80" y2="282.70" stroke="#222" stroke-width="0.75" />
<text x="476.30" y="283.00" font-size="6.3" text-anchor="middle" font-weight="bold" fill="#222" >*</text>
<rect x="0" y="0" width="520" height="1.05" fill="#111"/>
<rect x="0" y="0" width="1.1" height="391" fill="#111"/>
<rect x="518.6" y="0" width="1.4" height="391" fill="#111"/>
<rect x="0" y="389.6" width="520" height="1.4" fill="#111"/>
</svg>
</body></html>
